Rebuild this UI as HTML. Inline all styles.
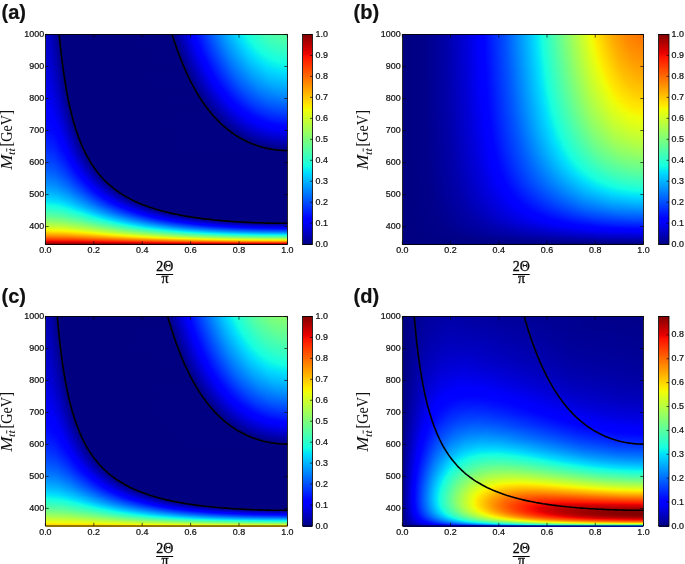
<!DOCTYPE html>
<html><head><meta charset="utf-8"><style>
html,body{margin:0;padding:0;background:#fff}
body{width:685px;height:564px;position:relative;overflow:hidden}
.hm{position:absolute}
.hm div{height:1px}
.cb{position:absolute;background:linear-gradient(to top,#000080 0.0%,#0000ff 11.0%,#0000ff 12.5%,#00dbff 34.0%,#00e5f7 35.0%,#15ffe2 37.5%,#efff08 64.0%,#f7f600 65.0%,#ffec00 66.0%,#ff1300 89.0%,#e80000 91.0%,#800000 100.0%)}
svg{position:absolute;left:0;top:0;will-change:transform}
text{font-family:"Liberation Sans",sans-serif;fill:#111;stroke:#111;stroke-width:0.22px}
.s{font-family:"Liberation Serif",serif;stroke:none}
</style></head><body>
<div class="hm" style="left:46px;top:34px;width:241px;height:211px"><div style="background:linear-gradient(90deg,#0000c9,#0000bb 2.2%,#00009b 4.3%,#000080 5.5%,#000080 52.4%,#0000ff 60.5%,#0002ff 61.7%,#009dff 73.8%,#00defd 79.6%,#04eaf3 80.8%,#17ffe0 83.3%,#41ffb6 90.4%,#55ffa2 96.8%,#57ff9f)"></div><div style="background:linear-gradient(90deg,#0000c9,#0000bc 2.2%,#00009c 4.3%,#000081 5.5%,#000081 52.6%,#0000ff 60.7%,#0003ff 61.9%,#009dff 74.0%,#00ddfd 79.8%,#04eaf3 81.0%,#16ffe1 83.5%,#40ffb7 90.6%,#53ffa4 97.0%,#55ffa1)"></div><div style="background:linear-gradient(90deg,#0000ca,#0000bc 2.2%,#00009c 4.3%,#000080 5.7%,#000080 52.6%,#0000ff 60.9%,#0003ff 62.1%,#009bff 74.0%,#00ddfe 80.0%,#03e9f4 81.2%,#16ffe1 83.7%,#3effb8 90.8%,#51ffa6 97.2%,#53ffa4)"></div><div style="background:linear-gradient(90deg,#0000ca,#0000bd 2.2%,#00009d 4.3%,#000080 5.7%,#000081 52.8%,#0000ff 60.9%,#0001ff 62.1%,#0098ff 74.0%,#00ddfe 80.2%,#03e9f4 81.4%,#17ffe0 84.1%,#3effb9 91.2%,#4fffa7 97.6%,#51ffa6)"></div><div style="background:linear-gradient(90deg,#0000cb,#0000bd 2.2%,#00009e 4.3%,#000080 5.7%,#000082 53.0%,#0000ff 61.1%,#0002ff 62.3%,#0099ff 74.2%,#00dffc 80.6%,#06ecf1 82.1%,#16ffe1 84.3%,#3dffba 91.4%,#4effa9 97.8%,#4fffa8)"></div><div style="background:linear-gradient(90deg,#0000cb,#0000be 2.2%,#00009f 4.3%,#000080 5.7%,#000080 53.0%,#0000ff 61.3%,#0003ff 62.6%,#0096ff 74.2%,#00defd 80.8%,#05ecf2 82.3%,#17ffe0 84.8%,#3cffbb 91.8%,#4cffab 98.2%,#4dffaa)"></div><div style="background:linear-gradient(90deg,#0000cc,#0000bf 2.2%,#00009f 4.3%,#000080 5.7%,#000081 53.2%,#0000ff 61.3%,#0001ff 62.6%,#0094ff 74.2%,#00defd 81.0%,#03e9f4 82.3%,#16ffe1 85.0%,#3bffbc 92.0%,#4affad 98.4%,#4affac)"></div><div style="background:linear-gradient(90deg,#0000cc,#0000bf 2.2%,#0000a0 4.3%,#000080 5.9%,#000082 53.4%,#0000ff 61.5%,#0002ff 62.8%,#0094ff 74.4%,#00ddfe 81.2%,#04ebf3 82.7%,#17ffe0 85.4%,#3affbd 92.4%,#48ffaf 98.9%,#48ffaf)"></div><div style="background:linear-gradient(90deg,#0000cd,#0000c0 2.2%,#00009d 4.5%,#000080 5.9%,#000080 53.4%,#0000ff 61.7%,#0002ff 63.0%,#0092ff 74.4%,#00dffc 81.6%,#05ecf2 83.1%,#16ffe1 85.6%,#39ffbe 92.6%,#46ffb1 99.1%,#46ffb1)"></div><div style="background:linear-gradient(90deg,#0000cd,#0000c0 2.2%,#00009e 4.5%,#000080 5.9%,#000081 53.6%,#0000ff 61.9%,#0003ff 63.2%,#0092ff 74.6%,#00defd 81.8%,#03e9f4 83.1%,#16ffe0 86.0%,#37ffc0 92.8%,#44ffb3 99.3%,#44ffb3)"></div><div style="background:linear-gradient(90deg,#0000ce,#0000c1 2.2%,#00009f 4.5%,#000080 5.9%,#000082 53.8%,#0000ff 61.9%,#0001ff 63.2%,#008fff 74.6%,#00ddfd 82.1%,#04eaf3 83.5%,#17ffe0 86.4%,#36ffc0 93.3%,#41ffb5 99.7%,#41ffb5)"></div><div style="background:linear-gradient(90deg,#0000ce,#0000c2 2.2%,#0000a0 4.5%,#000080 5.9%,#000080 53.8%,#0000ff 62.1%,#0002ff 63.4%,#008dff 74.6%,#00dffc 82.5%,#05ebf2 83.9%,#16ffe1 86.6%,#35ffc2 93.5%,#3fffb8)"></div><div style="background:linear-gradient(90deg,#0000cf,#0000c2 2.2%,#0000a0 4.5%,#000080 6.1%,#000081 54.0%,#0000ff 62.3%,#0002ff 63.6%,#008dff 74.8%,#00defd 82.7%,#04eaf3 84.1%,#16ffe1 87.0%,#34ffc3 93.9%,#3dffba)"></div><div style="background:linear-gradient(90deg,#0000cf,#0000c3 2.2%,#0000a1 4.5%,#000080 6.1%,#000082 54.3%,#0000ff 62.6%,#0003ff 63.8%,#008bff 74.8%,#00dbff 82.7%,#03e9f4 84.3%,#16ffe1 87.4%,#33ffc4 94.3%,#3bffbc)"></div><div style="background:linear-gradient(90deg,#0000d0,#0000c4 2.2%,#0000a2 4.5%,#000080 6.1%,#000080 54.3%,#0000fe 62.6%,#0003ff 64.0%,#008aff 75.0%,#00daff 82.9%,#04eaf3 84.8%,#16ffe1 87.9%,#31ffc5 94.7%,#38ffbf)"></div><div style="background:linear-gradient(90deg,#0000d1,#0000c4 2.2%,#0000a3 4.5%,#000080 6.1%,#000080 54.5%,#0000ff 62.8%,#0001ff 64.0%,#0088ff 75.0%,#00d8ff 82.9%,#03e9f4 85.0%,#16ffe1 88.3%,#30ffc7 95.1%,#36ffc1)"></div><div style="background:linear-gradient(90deg,#0000d1,#0000c5 2.2%,#0000a4 4.5%,#000081 6.1%,#000081 54.7%,#0000ff 63.0%,#0002ff 64.2%,#0088ff 75.2%,#00d7ff 83.1%,#02e8f5 85.2%,#16ffe1 88.7%,#2fffc8 95.5%,#34ffc3)"></div><div style="background:linear-gradient(90deg,#0000d2,#0000c6 2.2%,#0000a5 4.5%,#000080 6.3%,#000082 54.9%,#0000ff 63.2%,#0002ff 64.4%,#0085ff 75.2%,#00d4ff 83.1%,#00e0fb 84.5%,#07eef0 86.4%,#17ffe0 89.3%,#2dffca 96.0%,#31ffc6)"></div><div style="background:linear-gradient(90deg,#0000d2,#0000c6 2.2%,#0000a6 4.5%,#000080 6.3%,#000080 54.9%,#0000ff 63.4%,#0002ff 64.6%,#0085ff 75.4%,#00d3ff 83.3%,#00e1fb 85.0%,#07efef 86.8%,#16ffe0 89.7%,#2bffcb 96.4%,#2fffc8)"></div><div style="background:linear-gradient(90deg,#0000d3,#0000c7 2.2%,#0000a6 4.5%,#000080 6.3%,#000080 55.1%,#0000ff 63.6%,#0003ff 64.8%,#0083ff 75.4%,#00d0ff 83.3%,#00e0fc 85.2%,#05ecf2 86.8%,#16ffe1 90.1%,#2affcd 96.8%,#2cffca)"></div><div style="background:linear-gradient(90deg,#0000d3,#0000c8 2.2%,#0000a7 4.5%,#000080 6.3%,#000081 55.3%,#0000ff 63.6%,#0003ff 65.0%,#0082ff 75.6%,#00ceff 83.3%,#00defd 85.4%,#05ecf2 87.2%,#16ffe1 90.8%,#28ffcf 97.4%,#2affcd)"></div><div style="background:linear-gradient(90deg,#0000d4,#0000c8 2.2%,#0000a8 4.5%,#000080 6.5%,#000080 55.3%,#0000ff 63.8%,#0003ff 65.2%,#0082ff 75.8%,#00ccff 83.5%,#00dffc 85.8%,#05ecf2 87.7%,#16ffe1 91.4%,#26ffd0 98.0%,#27ffcf)"></div><div style="background:linear-gradient(90deg,#0000d5,#0000c9 2.2%,#0000a9 4.5%,#000080 6.5%,#000080 55.5%,#0000ff 64.0%,#0001ff 65.2%,#007fff 75.8%,#00caff 83.5%,#00dffc 86.2%,#05ebf2 88.1%,#16ffe1 92.0%,#25ffd2 98.7%,#25ffd2)"></div><div style="background:linear-gradient(90deg,#0000d5,#0000ca 2.2%,#0000aa 4.5%,#000080 6.5%,#000080 55.7%,#0000ff 64.2%,#0001ff 65.5%,#007dff 75.8%,#00c7ff 83.5%,#00dffc 86.6%,#05ebf2 88.5%,#16ffe1 92.6%,#22ffd4 99.3%,#23ffd4)"></div><div style="background:linear-gradient(90deg,#0000d6,#0000ca 2.2%,#0000ab 4.5%,#000080 6.5%,#000081 55.9%,#0000ff 64.4%,#0002ff 65.7%,#007cff 76.0%,#00c6ff 83.7%,#00dffc 87.0%,#04ebf3 88.9%,#16ffe1 93.5%,#20ffd7)"></div><div style="background:linear-gradient(90deg,#0000d7,#0000cb 2.2%,#0000ac 4.5%,#000080 6.7%,#000082 56.1%,#0000ff 64.6%,#0002ff 65.9%,#007aff 76.0%,#00c3ff 83.7%,#00dffc 87.4%,#05ebf2 89.5%,#16ffe1 94.3%,#1effd9)"></div><div style="background:linear-gradient(90deg,#0000d7,#0000cc 2.2%,#0000ad 4.5%,#000080 6.7%,#000080 56.1%,#0000ff 64.8%,#0002ff 66.1%,#0079ff 76.2%,#00c2ff 83.9%,#00defd 87.9%,#05ecf2 90.1%,#15ffe1 95.1%,#1bffdc)"></div><div style="background:linear-gradient(90deg,#0000d8,#0000cd 2.2%,#0000ae 4.5%,#000080 6.7%,#000080 56.3%,#0000ff 65.0%,#0002ff 66.3%,#0079ff 76.5%,#00c0ff 84.1%,#00defd 88.3%,#04ebf2 90.6%,#15ffe2 96.2%,#18ffde)"></div><div style="background:linear-gradient(90deg,#0000d8,#0000cb 2.4%,#0000ab 4.7%,#000080 6.7%,#000080 56.5%,#0000fe 65.0%,#0002ff 66.5%,#0076ff 76.5%,#00bdff 84.1%,#00dffc 88.9%,#05ecf2 91.4%,#14ffe3 97.4%,#16ffe1)"></div><div style="background:linear-gradient(90deg,#0000d9,#0000cc 2.4%,#0000ac 4.7%,#000080 7.0%,#000081 56.7%,#0000ff 65.2%,#0002ff 66.7%,#0075ff 76.7%,#00bcff 84.3%,#00defd 89.3%,#05ebf2 92.0%,#12fce4 98.0%,#13fde3)"></div><div style="background:linear-gradient(90deg,#0000da,#0000cd 2.4%,#0000ad 4.7%,#000080 7.0%,#000082 57.0%,#0000ff 65.5%,#0002ff 66.9%,#0075ff 76.9%,#00bbff 84.5%,#00defd 89.9%,#04ebf2 92.6%,#10fae7 98.7%,#11fae6)"></div><div style="background:linear-gradient(90deg,#0000db,#0000cd 2.4%,#0000ae 4.7%,#000080 7.0%,#000080 57.0%,#0000ff 65.7%,#0003ff 67.1%,#0072ff 76.9%,#00b8ff 84.5%,#00defd 90.6%,#06ecf1 93.9%,#0ef7e9)"></div><div style="background:linear-gradient(90deg,#0000db,#0000ce 2.4%,#0000af 4.7%,#000080 7.0%,#000080 57.2%,#0000ff 65.9%,#0002ff 67.3%,#0071ff 77.1%,#00b5ff 84.5%,#00defd 91.2%,#06ecf1 94.9%,#0cf4eb)"></div><div style="background:linear-gradient(90deg,#0000dc,#0000cf 2.4%,#0000b0 4.7%,#000080 7.2%,#000080 57.4%,#0000ff 66.1%,#0002ff 67.5%,#0070ff 77.3%,#00b3ff 84.8%,#00dcfe 91.4%,#05ebf2 95.7%,#09f1ee)"></div><div style="background:linear-gradient(90deg,#0000dd,#0000d0 2.4%,#0000b1 4.7%,#000080 7.2%,#000080 57.6%,#0000ff 66.3%,#0002ff 67.7%,#006fff 77.5%,#00b2ff 85.0%,#00daff 91.6%,#05ebf2 97.6%,#06edf1)"></div><div style="background:linear-gradient(90deg,#0000dd,#0000d1 2.4%,#0000ae 4.9%,#000080 7.2%,#000081 57.8%,#0000ff 66.5%,#0002ff 67.9%,#006dff 77.5%,#00aeff 85.0%,#00d6ff 91.6%,#02e8f5 97.6%,#04eaf3)"></div><div style="background:linear-gradient(90deg,#0000de,#0000d1 2.4%,#0000af 4.9%,#000081 7.2%,#000081 58.0%,#0000ff 66.7%,#0002ff 68.2%,#006cff 77.7%,#00adff 85.2%,#00d4ff 91.8%,#00e5f7 97.8%,#01e7f6)"></div><div style="background:linear-gradient(90deg,#0000df,#0000d2 2.4%,#0000b0 4.9%,#000080 7.4%,#000081 58.2%,#0000ff 66.9%,#0002ff 68.4%,#006bff 77.9%,#00abff 85.4%,#00d2ff 92.0%,#00e2fa 98.0%,#00e3f9)"></div><div style="background:linear-gradient(90deg,#0000df,#0000d3 2.4%,#0000b1 4.9%,#000080 7.4%,#000082 58.4%,#0000fe 67.1%,#0002ff 68.6%,#0068ff 77.9%,#00a8ff 85.4%,#00ceff 92.0%,#00dffc 98.2%,#00e0fb)"></div><div style="background:linear-gradient(90deg,#0000e0,#0000d4 2.4%,#0000b3 4.9%,#000080 7.4%,#000082 58.6%,#0000fe 67.3%,#0001ff 68.8%,#0067ff 78.1%,#00a6ff 85.6%,#00ccff 92.2%,#00dcff 98.4%,#00dcfe)"></div><div style="background:linear-gradient(90deg,#0000e1,#0000d5 2.4%,#0000b4 4.9%,#000080 7.6%,#000080 58.6%,#0000ff 67.7%,#0003ff 69.2%,#0068ff 78.5%,#00a6ff 86.0%,#00c9ff 92.4%,#00d8ff 98.7%,#00d9ff)"></div><div style="background:linear-gradient(90deg,#0000e2,#0000d6 2.4%,#0000b5 4.9%,#000080 7.6%,#000080 58.8%,#0000ff 67.9%,#0003ff 69.4%,#0065ff 78.5%,#00a3ff 86.0%,#00c6ff 92.4%,#00d5ff 98.7%,#00d5ff)"></div><div style="background:linear-gradient(90deg,#0000e3,#0000d6 2.4%,#0000b6 4.9%,#000080 7.6%,#000080 59.0%,#0000ff 68.2%,#0003ff 69.6%,#0064ff 78.7%,#00a1ff 86.2%,#00c3ff 92.6%,#00d2ff 98.9%,#00d2ff)"></div><div style="background:linear-gradient(90deg,#0000e3,#0000d7 2.4%,#0000b7 4.9%,#000081 7.6%,#000080 59.2%,#0000ff 68.4%,#0002ff 69.8%,#0062ff 78.9%,#009dff 86.2%,#00c0ff 92.6%,#00ceff 98.9%,#00cfff)"></div><div style="background:linear-gradient(90deg,#0000e4,#0000d8 2.4%,#0000b8 4.9%,#000080 7.8%,#000080 59.4%,#0000ff 68.6%,#0002ff 70.0%,#0061ff 79.1%,#009cff 86.4%,#00bdff 92.8%,#00cbff 99.1%,#00cbff)"></div><div style="background:linear-gradient(90deg,#0000e5,#0000d9 2.4%,#0000b9 4.9%,#000080 7.8%,#000080 59.6%,#0000ff 68.8%,#0001ff 70.2%,#005eff 79.1%,#0098ff 86.4%,#00baff 92.8%,#00c7ff 99.1%,#00c7ff)"></div><div style="background:linear-gradient(90deg,#0000e6,#0000da 2.4%,#0000ba 4.9%,#000080 7.8%,#000080 59.9%,#0000fe 69.0%,#0003ff 70.6%,#005fff 79.6%,#0097ff 86.8%,#00b8ff 93.3%,#00c4ff 99.5%,#00c4ff)"></div><div style="background:linear-gradient(90deg,#0000e7,#0000db 2.4%,#0000bb 4.9%,#000080 8.0%,#000080 60.1%,#0000ff 69.4%,#0002ff 70.9%,#005dff 79.8%,#0095ff 87.0%,#00b5ff 93.5%,#00c0ff 99.7%,#00c0ff)"></div><div style="background:linear-gradient(90deg,#0000e7,#0000dc 2.4%,#0000bc 4.9%,#000080 8.0%,#000080 60.3%,#0000ff 69.6%,#0002ff 71.1%,#005cff 80.0%,#0093ff 87.2%,#00b2ff 93.7%,#00bdff)"></div><div style="background:linear-gradient(90deg,#0000e8,#0000dd 2.4%,#0000be 4.9%,#000085 7.8%,#000080 8.2%,#000080 60.5%,#0000ff 69.8%,#0003ff 71.5%,#005aff 80.2%,#0091ff 87.4%,#00afff 93.9%,#00b9ff)"></div><div style="background:linear-gradient(90deg,#0000e9,#0000de 2.4%,#0000bf 4.9%,#000086 7.8%,#000080 8.4%,#000080 60.7%,#0000fe 70.0%,#0003ff 71.7%,#0059ff 80.4%,#008fff 87.7%,#00acff 94.1%,#00b5ff)"></div><div style="background:linear-gradient(90deg,#0000ea,#0000df 2.4%,#0000c0 4.9%,#000088 7.8%,#000080 8.2%,#000080 60.9%,#0000ff 70.4%,#0002ff 71.9%,#0057ff 80.6%,#008cff 87.9%,#00a9ff 94.3%,#00b2ff)"></div><div style="background:linear-gradient(90deg,#0000eb,#0000e0 2.4%,#0000c1 4.9%,#00008a 7.8%,#000080 8.2%,#000082 61.3%,#0000ff 70.6%,#0003ff 72.3%,#0056ff 80.8%,#008aff 88.1%,#00a6ff 94.5%,#00aeff)"></div><div style="background:linear-gradient(90deg,#0000ec,#0000df 2.6%,#0000bf 5.1%,#000086 8.0%,#000080 8.6%,#000082 61.5%,#0000fe 70.9%,#0002ff 72.5%,#0054ff 81.0%,#0088ff 88.3%,#00a3ff 94.7%,#00aaff)"></div><div style="background:linear-gradient(90deg,#0000ed,#0000e0 2.6%,#0000c0 5.1%,#000088 8.0%,#000080 8.4%,#000081 61.7%,#0000fd 71.1%,#0001ff 72.7%,#0052ff 81.2%,#0084ff 88.3%,#009fff 94.7%,#00a6ff)"></div><div style="background:linear-gradient(90deg,#0000ed,#0000e1 2.6%,#0000c1 5.1%,#00008a 8.0%,#000080 8.4%,#000081 61.9%,#0000ff 71.5%,#0002ff 73.1%,#0052ff 81.6%,#0083ff 88.7%,#009cff 95.1%,#00a3ff)"></div><div style="background:linear-gradient(90deg,#0000ee,#0000e2 2.6%,#0000bf 5.3%,#000080 8.6%,#000081 62.1%,#0000fe 71.7%,#0001ff 73.3%,#004fff 81.6%,#007fff 88.7%,#0098ff 95.1%,#009fff)"></div><div style="background:linear-gradient(90deg,#0000ef,#0000e3 2.6%,#0000c1 5.3%,#000084 8.4%,#000080 8.8%,#000080 62.3%,#0000ff 72.1%,#0002ff 73.8%,#004fff 82.1%,#007dff 89.1%,#0096ff 95.5%,#009bff)"></div><div style="background:linear-gradient(90deg,#0000f0,#0000e4 2.6%,#0000c2 5.3%,#000085 8.4%,#000080 8.8%,#000080 62.6%,#0000fe 72.3%,#0001ff 74.0%,#004dff 82.3%,#007bff 89.3%,#0092ff 95.7%,#0097ff)"></div><div style="background:linear-gradient(90deg,#0000f1,#0000e5 2.6%,#0000c3 5.3%,#000087 8.4%,#000080 8.8%,#000080 62.8%,#0000ff 72.7%,#0002ff 74.4%,#004cff 82.7%,#0079ff 89.7%,#008fff 96.2%,#0093ff)"></div><div style="background:linear-gradient(90deg,#0000f2,#0000e6 2.6%,#0000c5 5.3%,#000089 8.4%,#000080 8.8%,#000081 63.2%,#0000fe 72.9%,#0003ff 74.8%,#004aff 82.9%,#0076ff 89.9%,#008cff 96.4%,#008fff)"></div><div style="background:linear-gradient(90deg,#0000f3,#0000e7 2.6%,#0000c6 5.3%,#00008b 8.4%,#000080 9.0%,#000081 63.4%,#0000ff 73.3%,#0001ff 75.0%,#0048ff 83.1%,#0073ff 90.1%,#0088ff 96.6%,#008bff)"></div><div style="background:linear-gradient(90deg,#0000f4,#0000e8 2.6%,#0000c7 5.3%,#00008c 8.4%,#000080 9.0%,#000080 63.6%,#0000fe 73.5%,#0002ff 75.4%,#0047ff 83.5%,#0071ff 90.6%,#0085ff 97.0%,#0087ff)"></div><div style="background:linear-gradient(90deg,#0000f5,#0000e9 2.6%,#0000c9 5.3%,#00008e 8.4%,#000080 9.0%,#000080 63.8%,#0000fc 73.8%,#0003ff 75.8%,#0047ff 83.9%,#006fff 91.0%,#0081ff 97.4%,#0083ff)"></div><div style="background:linear-gradient(90deg,#0000f6,#0000ea 2.6%,#0000ca 5.3%,#000090 8.4%,#000080 9.2%,#000081 64.2%,#0000fb 74.0%,#0000ff 74.8%,#0003ff 76.2%,#0044ff 84.1%,#006cff 91.2%,#007eff 97.6%,#007fff)"></div><div style="background:linear-gradient(90deg,#0000f7,#0000eb 2.6%,#0000cb 5.3%,#000092 8.4%,#000080 9.2%,#000081 64.4%,#0000f9 74.2%,#0000ff 75.2%,#0003ff 76.7%,#0043ff 84.5%,#0069ff 91.4%,#007aff 97.8%,#007bff)"></div><div style="background:linear-gradient(90deg,#0000f8,#0000ed 2.6%,#0000cd 5.3%,#000093 8.4%,#000080 9.4%,#000080 64.6%,#0000f7 74.4%,#0000ff 75.4%,#0002ff 76.9%,#0041ff 84.8%,#0066ff 91.6%,#0076ff 98.0%,#0077ff)"></div><div style="background:linear-gradient(90deg,#0000f9,#0000ee 2.6%,#0000ce 5.3%,#000095 8.4%,#000080 9.4%,#000082 65.0%,#0000f6 74.6%,#0000ff 75.6%,#0002ff 77.3%,#0040ff 85.2%,#0063ff 92.0%,#0072ff 98.4%,#0073ff)"></div><div style="background:linear-gradient(90deg,#0000fa,#0000ef 2.6%,#0000cf 5.3%,#000097 8.4%,#000081 9.4%,#000081 65.2%,#0000f4 74.8%,#0000ff 76.0%,#0002ff 77.7%,#003dff 85.4%,#0060ff 92.2%,#006eff 98.7%,#006fff)"></div><div style="background:linear-gradient(90deg,#0000fb,#0000f0 2.6%,#0000d1 5.3%,#000099 8.4%,#000080 9.6%,#000080 65.5%,#0000f2 75.0%,#0000ff 76.5%,#0002ff 78.1%,#003cff 85.8%,#005dff 92.6%,#006aff 99.1%,#006aff)"></div><div style="background:linear-gradient(90deg,#0000fd,#0000f1 2.6%,#0000d2 5.3%,#00009b 8.4%,#000080 9.6%,#000081 65.9%,#0000f0 75.2%,#0000ff 76.9%,#0002ff 78.5%,#003aff 86.2%,#005bff 93.0%,#0066ff 99.5%,#0066ff)"></div><div style="background:linear-gradient(90deg,#0000fe,#0000f2 2.6%,#0000d4 5.3%,#00009d 8.4%,#000080 9.9%,#000080 66.1%,#0000ee 75.4%,#0000ff 77.3%,#0003ff 79.1%,#003aff 86.8%,#0058ff 93.7%,#0062ff)"></div><div style="background:linear-gradient(90deg,#0000ff,#0000f2 2.8%,#0000d2 5.5%,#00009a 8.6%,#000080 9.9%,#000081 66.5%,#0000ee 75.8%,#0000ff 77.7%,#0003ff 79.6%,#0037ff 87.0%,#0055ff 93.9%,#005eff)"></div><div style="background:linear-gradient(90deg,#0000ff,#0000f6 2.4%,#0000da 5.1%,#0000a4 8.2%,#000080 10.1%,#000080 66.7%,#0000ec 76.0%,#0000ff 78.1%,#0002ff 80.0%,#0035ff 87.4%,#0052ff 94.3%,#0059ff)"></div><div style="background:linear-gradient(90deg,#0000ff,#0000fa 2.0%,#0000e1 4.7%,#0000ae 7.8%,#000080 10.1%,#000081 67.1%,#0000ea 76.2%,#0000ff 78.5%,#0002ff 80.4%,#0033ff 87.9%,#004eff 94.7%,#0055ff)"></div><div style="background:linear-gradient(90deg,#0000ff,#0000fc 2.0%,#0000e2 4.7%,#0000b0 7.8%,#000081 10.1%,#000080 67.3%,#0000e8 76.5%,#0000ff 78.9%,#0002ff 81.0%,#0033ff 88.5%,#004bff 95.3%,#0051ff)"></div><div style="background:linear-gradient(90deg,#0000ff,#0000fc 2.2%,#0000e1 4.9%,#0000ae 8.0%,#000080 10.3%,#000081 67.7%,#0000e6 76.7%,#0000ff 79.6%,#0003ff 81.6%,#0030ff 88.9%,#0048ff 95.7%,#004cff)"></div><div style="background:linear-gradient(90deg,#0000ff,#0000fd 2.2%,#0000e2 4.9%,#0000b0 8.0%,#000081 10.3%,#000080 67.9%,#0000e3 76.9%,#0000ff 80.0%,#0002ff 82.1%,#002eff 89.3%,#0044ff 96.2%,#0048ff)"></div><div style="background:linear-gradient(90deg,#0000ff,#0000fd 2.4%,#0000e1 5.1%,#0000ae 8.2%,#000080 10.5%,#000081 68.4%,#0000e3 77.3%,#0000ff 80.4%,#0003ff 82.7%,#002dff 89.9%,#0041ff 96.8%,#0043ff)"></div><div style="background:linear-gradient(90deg,#0000ff,#0000fd 2.6%,#0000dd 5.5%,#0000a4 8.8%,#000081 10.5%,#000081 68.8%,#0000e2 77.7%,#0000ff 81.0%,#0003ff 83.3%,#002bff 90.6%,#003dff 97.4%,#003fff)"></div><div style="background:linear-gradient(90deg,#0000ff,#0000fc 2.8%,#0000dc 5.7%,#0000a2 9.0%,#000080 10.7%,#000080 69.0%,#0000de 77.7%,#0000ff 81.6%,#0003ff 83.9%,#0029ff 91.2%,#0039ff 97.8%,#003aff)"></div><div style="background:linear-gradient(90deg,#0000ff,#0000fc 3.0%,#0000da 5.9%,#00009f 9.2%,#000081 10.7%,#000080 69.4%,#0000dd 78.1%,#0000ff 82.1%,#0002ff 84.5%,#0026ff 91.6%,#0035ff 98.2%,#0036ff)"></div><div style="background:linear-gradient(90deg,#0000ff,#0000fe 3.0%,#0000dc 5.9%,#0000a2 9.2%,#000080 10.9%,#000081 69.8%,#0000dc 78.5%,#0000ff 82.7%,#0003ff 85.4%,#0024ff 92.4%,#0031ff 99.1%,#0031ff)"></div><div style="background:linear-gradient(90deg,#0000ff,#0000fd 3.2%,#0000db 6.1%,#00009b 9.6%,#000081 10.9%,#000081 70.2%,#0000da 78.7%,#0000ff 83.3%,#0002ff 86.0%,#0022ff 93.0%,#002dff 99.7%,#002dff)"></div><div style="background:linear-gradient(90deg,#0000ff,#0000fd 3.4%,#0000d9 6.3%,#000099 9.9%,#000080 11.1%,#000082 70.6%,#0000d9 79.1%,#0000ff 83.9%,#0003ff 86.8%,#0020ff 93.9%,#0028ff)"></div><div style="background:linear-gradient(90deg,#0000ff,#0000fd 3.6%,#0000d5 6.7%,#00008f 10.5%,#000080 11.3%,#000082 71.1%,#0000d7 79.6%,#0000ff 84.8%,#0003ff 87.7%,#001dff 94.7%,#0023ff)"></div><div style="background:linear-gradient(90deg,#0000ff,#0000fe 3.6%,#0000d7 6.7%,#000091 10.5%,#000080 11.3%,#000082 71.5%,#0000d4 79.8%,#0000ff 85.4%,#0003ff 88.7%,#001bff 95.7%,#001fff)"></div><div style="background:linear-gradient(90deg,#0001ff,#0000fe 3.8%,#0000d5 7.0%,#00008f 10.7%,#000080 11.5%,#000082 71.9%,#0000d3 80.2%,#0000ff 86.2%,#0003ff 89.7%,#0017ff 96.6%,#001aff)"></div><div style="background:linear-gradient(90deg,#0003ff,#0000fd 4.0%,#0000d4 7.2%,#00008d 10.9%,#000080 11.5%,#000082 72.3%,#0000d2 80.6%,#0000ff 86.8%,#0003ff 90.8%,#0014ff 97.6%,#0015ff)"></div><div style="background:linear-gradient(90deg,#0004ff,#0000fd 4.3%,#0000d2 7.4%,#000087 11.3%,#000080 11.9%,#000082 72.7%,#0000d0 81.0%,#0000fe 87.7%,#0003ff 92.2%,#0010ff 99.1%,#0010ff)"></div><div style="background:linear-gradient(90deg,#0005ff,#0000ff 3.6%,#0000fa 4.7%,#0000ca 8.0%,#000081 11.7%,#000081 73.1%,#0000cd 81.2%,#0000fd 88.3%,#0003ff 93.7%,#000cff)"></div><div style="background:linear-gradient(90deg,#0006ff,#0000ff 3.6%,#0000fc 4.7%,#0000cc 8.0%,#000080 11.9%,#000081 73.5%,#0000cb 81.6%,#0000f9 88.7%,#0000ff 90.8%,#0004ff 96.4%,#0007ff)"></div><div style="background:linear-gradient(90deg,#0008ff,#0000ff 3.6%,#0000fd 4.7%,#0000ce 8.0%,#000080 12.1%,#000080 74.0%,#0000c9 82.1%,#0000f6 89.1%,#0000ff 91.8%,#0002ff)"></div><div style="background:linear-gradient(90deg,#0009ff,#0000ff 3.6%,#0000fd 4.9%,#0000cd 8.2%,#000080 12.1%,#000082 74.6%,#0000c7 82.5%,#0000f3 89.5%,#0000ff 93.0%,#0000ff)"></div><div style="background:linear-gradient(90deg,#000bff,#0000ff 3.8%,#0000fc 5.1%,#0000cc 8.4%,#000080 12.3%,#000081 75.0%,#0000c5 82.9%,#0000ef 89.9%,#0000ff 94.9%,#0000ff)"></div><div style="background:linear-gradient(90deg,#000cff,#0000ff 3.8%,#0000fc 5.3%,#0000ca 8.6%,#000080 12.6%,#000082 75.6%,#0000c4 83.5%,#0000ec 90.6%,#0000ff 97.0%,#0000ff)"></div><div style="background:linear-gradient(90deg,#000dff,#0002ff 3.2%,#0000fe 5.3%,#0000cd 8.6%,#000080 12.6%,#000081 76.0%,#0000c1 83.9%,#0000e9 91.0%,#0000fa 97.6%,#0000fc)"></div><div style="background:linear-gradient(90deg,#000fff,#0003ff 3.2%,#0000fd 5.5%,#0000c8 9.0%,#000080 12.8%,#000081 76.7%,#0000bf 84.3%,#0000e4 91.4%,#0000f5 98.0%,#0000f6)"></div><div style="background:linear-gradient(90deg,#0010ff,#0005ff 3.2%,#0000ff 4.5%,#0000fd 5.7%,#0000c6 9.2%,#000081 12.8%,#000082 77.3%,#0000bd 85.0%,#0000e1 92.0%,#0000f0 98.7%,#0000f0)"></div><div style="background:linear-gradient(90deg,#0012ff,#0006ff 3.2%,#0000ff 4.5%,#0000fc 5.9%,#0000c5 9.4%,#000080 13.0%,#000080 77.7%,#0000ba 85.4%,#0000dd 92.4%,#0000ea 99.1%,#0000ea)"></div><div style="background:linear-gradient(90deg,#0013ff,#0008ff 3.2%,#0000ff 4.7%,#0000fe 5.9%,#0000c8 9.4%,#000080 13.2%,#000080 78.3%,#0000b9 86.0%,#0000d8 92.8%,#0000e4 99.5%,#0000e4)"></div><div style="background:linear-gradient(90deg,#0015ff,#000aff 3.2%,#0000ff 4.9%,#0000fe 6.1%,#0000c3 9.9%,#000080 13.4%,#000082 79.1%,#0000b7 86.6%,#0000d4 93.5%,#0000de)"></div><div style="background:linear-gradient(90deg,#0016ff,#000bff 3.2%,#0000ff 5.1%,#0000fd 6.3%,#0000c2 10.1%,#000080 13.4%,#000082 79.8%,#0000b4 87.2%,#0000d0 94.1%,#0000d8)"></div><div style="background:linear-gradient(90deg,#0018ff,#000dff 3.2%,#0000ff 5.1%,#0000fd 6.5%,#0000c1 10.3%,#000080 13.6%,#000081 80.4%,#0000b2 87.9%,#0000cc 94.7%,#0000d2)"></div><div style="background:linear-gradient(90deg,#001aff,#000fff 3.2%,#0000ff 5.3%,#0000fc 6.7%,#0000c0 10.5%,#000080 13.8%,#000082 81.2%,#0000b0 88.7%,#0000c8 95.5%,#0000cc)"></div><div style="background:linear-gradient(90deg,#001bff,#000fff 3.4%,#0000ff 5.5%,#0000fc 7.0%,#0000bb 10.9%,#000080 14.0%,#000081 81.8%,#0000ac 89.1%,#0000c2 96.0%,#0000c6)"></div><div style="background:linear-gradient(90deg,#001dff,#0011ff 3.4%,#0000ff 5.7%,#0000fe 7.0%,#0000be 10.9%,#000080 14.0%,#000081 82.7%,#0000aa 89.9%,#0000bd 96.8%,#0000c0)"></div><div style="background:linear-gradient(90deg,#001fff,#0013ff 3.4%,#0000ff 5.9%,#0000fe 7.2%,#0000bd 11.1%,#000080 14.2%,#000082 83.7%,#0000a8 91.0%,#0000b9 97.8%,#0000ba)"></div><div style="background:linear-gradient(90deg,#0020ff,#0014ff 3.4%,#0000ff 6.1%,#0000fd 7.4%,#0000bc 11.3%,#000080 14.4%,#000081 84.5%,#0000a5 91.8%,#0000b3 98.7%,#0000b3)"></div><div style="background:linear-gradient(90deg,#0022ff,#0016ff 3.4%,#0000ff 6.3%,#0000fd 7.6%,#0000b7 11.7%,#000080 14.6%,#000082 85.6%,#0000a1 92.6%,#0000ad 99.5%,#0000ad)"></div><div style="background:linear-gradient(90deg,#0024ff,#0018ff 3.4%,#0000ff 6.5%,#0000fc 7.8%,#0000b7 11.9%,#000080 14.8%,#000081 86.6%,#00009e 93.7%,#0000a7)"></div><div style="background:linear-gradient(90deg,#0026ff,#001aff 3.4%,#0000ff 6.7%,#0000fc 8.0%,#0000b6 12.1%,#000081 14.8%,#000082 87.9%,#00009b 94.9%,#0000a0)"></div><div style="background:linear-gradient(90deg,#0028ff,#001cff 3.4%,#0000ff 7.0%,#0000fc 8.2%,#0000b1 12.6%,#000080 15.0%,#000081 89.1%,#000097 96.2%,#00009a)"></div><div style="background:linear-gradient(90deg,#0029ff,#001eff 3.4%,#0000ff 7.2%,#0000fc 8.4%,#0000b1 12.8%,#000080 15.2%,#000082 90.8%,#000092 97.8%,#000093)"></div><div style="background:linear-gradient(90deg,#002bff,#0020ff 3.4%,#0000ff 7.4%,#0000fb 8.6%,#0000ac 13.2%,#000080 15.5%,#000082 92.6%,#00008d 99.7%,#00008d)"></div><div style="background:linear-gradient(90deg,#002dff,#0022ff 3.4%,#0000ff 7.6%,#0000fe 8.6%,#0000b0 13.2%,#000080 15.7%,#000082 95.3%,#000086)"></div><div style="background:linear-gradient(90deg,#002fff,#0024ff 3.4%,#0004ff 7.2%,#0000ff 8.2%,#0000fb 9.0%,#0000a8 13.8%,#000080 15.9%,#000080)"></div><div style="background:linear-gradient(90deg,#0031ff,#0025ff 3.6%,#0004ff 7.4%,#0000ff 8.2%,#0000fb 9.2%,#0000a8 14.0%,#000080 16.1%,#000080)"></div><div style="background:linear-gradient(90deg,#0033ff,#0027ff 3.6%,#0007ff 7.4%,#0000ff 8.2%,#0000fe 9.2%,#0000ab 14.0%,#000080 16.3%,#000080)"></div><div style="background:linear-gradient(90deg,#0036ff,#002aff 3.6%,#0009ff 7.4%,#0000ff 8.4%,#0000fe 9.4%,#0000a7 14.4%,#000080 16.5%,#000080)"></div><div style="background:linear-gradient(90deg,#0038ff,#002cff 3.6%,#000cff 7.4%,#0000ff 8.6%,#0000fe 9.6%,#0000a7 14.6%,#000080 16.7%,#000080)"></div><div style="background:linear-gradient(90deg,#003aff,#002eff 3.6%,#000fff 7.4%,#0000ff 8.8%,#0000fe 9.9%,#0000a3 15.0%,#000080 16.9%,#000080)"></div><div style="background:linear-gradient(90deg,#003cff,#0031ff 3.6%,#0011ff 7.4%,#0000ff 9.0%,#0000fe 10.1%,#0000a3 15.2%,#000080 17.1%,#000080)"></div><div style="background:linear-gradient(90deg,#003eff,#0033ff 3.6%,#0014ff 7.4%,#0000ff 9.2%,#0000ff 10.3%,#0000a0 15.7%,#000080 17.3%,#000080)"></div><div style="background:linear-gradient(90deg,#0041ff,#0035ff 3.6%,#0014ff 7.6%,#0000ff 9.4%,#0000ff 10.5%,#0000a0 15.9%,#000080 17.5%,#000080)"></div><div style="background:linear-gradient(90deg,#0043ff,#0038ff 3.6%,#0017ff 7.6%,#0000ff 9.6%,#0000fc 10.9%,#000099 16.5%,#000081 17.7%,#000080)"></div><div style="background:linear-gradient(90deg,#0045ff,#003aff 3.6%,#001aff 7.6%,#0000ff 10.1%,#0000fd 11.1%,#000095 16.9%,#000080 18.2%,#000080)"></div><div style="background:linear-gradient(90deg,#0048ff,#003cff 3.8%,#001bff 7.8%,#0000ff 10.3%,#0000fd 11.3%,#000092 17.3%,#000080 18.4%,#000080)"></div><div style="background:linear-gradient(90deg,#004aff,#003eff 3.8%,#001eff 7.8%,#0000ff 10.5%,#0000fe 11.5%,#00008f 17.7%,#000080 18.6%,#000080)"></div><div style="background:linear-gradient(90deg,#004dff,#0041ff 3.8%,#0021ff 7.8%,#0000ff 10.7%,#0000fe 11.7%,#000090 17.9%,#000080 18.8%,#000080)"></div><div style="background:linear-gradient(90deg,#004fff,#0044ff 3.8%,#0024ff 7.8%,#0000ff 10.9%,#0000ff 11.9%,#00008d 18.4%,#000080 19.2%,#000080)"></div><div style="background:linear-gradient(90deg,#0052ff,#0047ff 3.8%,#0027ff 7.8%,#0000ff 11.3%,#0000fd 12.3%,#000080 19.4%,#000080)"></div><div style="background:linear-gradient(90deg,#0055ff,#0049ff 3.8%,#002aff 7.8%,#0000ff 11.5%,#0000fe 12.6%,#000080 19.6%,#000080)"></div><div style="background:linear-gradient(90deg,#0058ff,#004cff 3.8%,#002bff 8.0%,#0000ff 11.7%,#0000ff 12.8%,#000080 20.0%,#000080)"></div><div style="background:linear-gradient(90deg,#005aff,#004fff 3.8%,#002fff 8.0%,#0000ff 12.1%,#0000fc 13.2%,#000080 20.2%,#000080)"></div><div style="background:linear-gradient(90deg,#005dff,#0052ff 3.8%,#0032ff 8.0%,#0000ff 12.3%,#0000fe 13.4%,#000080 20.6%,#000080)"></div><div style="background:linear-gradient(90deg,#0060ff,#0054ff 4.0%,#0033ff 8.2%,#0000ff 12.6%,#0000ff 13.6%,#000080 20.9%,#000080)"></div><div style="background:linear-gradient(90deg,#0063ff,#0057ff 4.0%,#0037ff 8.2%,#0000ff 13.0%,#0000fd 14.0%,#000080 21.3%,#000080)"></div><div style="background:linear-gradient(90deg,#0066ff,#005bff 4.0%,#003aff 8.2%,#0000ff 13.2%,#0000ff 14.2%,#000080 21.5%,#000080)"></div><div style="background:linear-gradient(90deg,#0069ff,#005eff 4.0%,#003eff 8.2%,#0003ff 13.2%,#0000fd 14.6%,#000080 21.9%,#000080)"></div><div style="background:linear-gradient(90deg,#006dff,#0061ff 4.0%,#0042ff 8.2%,#0007ff 13.2%,#0000ff 14.0%,#0000ff 14.8%,#000080 22.1%,#000080)"></div><div style="background:linear-gradient(90deg,#0070ff,#0065ff 4.0%,#0044ff 8.4%,#0006ff 13.6%,#0000ff 14.2%,#0000fd 15.2%,#000080 22.5%,#000080)"></div><div style="background:linear-gradient(90deg,#0073ff,#0068ff 4.0%,#0047ff 8.4%,#000bff 13.6%,#0000ff 14.6%,#0000ff 15.5%,#000080 22.9%,#000080)"></div><div style="background:linear-gradient(90deg,#0077ff,#006cff 4.0%,#004bff 8.4%,#000fff 13.6%,#0000ff 14.8%,#0000fe 15.9%,#000080 23.3%,#000080)"></div><div style="background:linear-gradient(90deg,#007aff,#006fff 4.0%,#004fff 8.4%,#0014ff 13.6%,#0000ff 15.2%,#0000fd 16.3%,#000080 23.5%,#000080)"></div><div style="background:linear-gradient(90deg,#007eff,#0072ff 4.3%,#0052ff 8.6%,#0016ff 13.8%,#0000ff 15.7%,#0000fc 16.7%,#000080 24.0%,#000080)"></div><div style="background:linear-gradient(90deg,#0081ff,#0076ff 4.3%,#0056ff 8.6%,#001bff 13.8%,#0000ff 15.9%,#0000ff 16.9%,#000080 24.4%,#000080)"></div><div style="background:linear-gradient(90deg,#0085ff,#007aff 4.3%,#005aff 8.6%,#0020ff 13.8%,#0000ff 16.3%,#0000fe 17.3%,#000080 24.8%,#000080)"></div><div style="background:linear-gradient(90deg,#0089ff,#007eff 4.3%,#005dff 8.8%,#0020ff 14.2%,#0000ff 16.7%,#0000fe 17.7%,#000080 25.2%,#000080)"></div><div style="background:linear-gradient(90deg,#008dff,#0082ff 4.3%,#0061ff 8.8%,#0025ff 14.2%,#0000ff 17.1%,#0000fd 18.2%,#000080 25.8%,#000080)"></div><div style="background:linear-gradient(90deg,#0091ff,#0086ff 4.3%,#0066ff 8.8%,#002aff 14.2%,#0000ff 17.5%,#0000fd 18.6%,#000080 26.2%,#000080)"></div><div style="background:linear-gradient(90deg,#0095ff,#008aff 4.3%,#006aff 8.8%,#0030ff 14.2%,#0000ff 17.9%,#0000fe 19.0%,#000080 26.7%,#000080)"></div><div style="background:linear-gradient(90deg,#0099ff,#008dff 4.5%,#006dff 9.0%,#0030ff 14.6%,#0000ff 18.4%,#0000fe 19.4%,#000080 27.1%,#000080)"></div><div style="background:linear-gradient(90deg,#009dff,#0092ff 4.5%,#0072ff 9.0%,#0036ff 14.6%,#0000ff 18.8%,#0000fe 19.8%,#000080 27.7%,#000080)"></div><div style="background:linear-gradient(90deg,#00a2ff,#0096ff 4.5%,#0075ff 9.2%,#0039ff 14.8%,#0000ff 19.2%,#0000ff 20.2%,#000080 28.1%,#000080)"></div><div style="background:linear-gradient(90deg,#00a6ff,#009bff 4.5%,#007bff 9.2%,#003fff 14.8%,#0000ff 19.8%,#0000fd 20.9%,#000080 28.7%,#000080)"></div><div style="background:linear-gradient(90deg,#00abff,#00a0ff 4.5%,#0080ff 9.2%,#0045ff 14.8%,#0000ff 20.2%,#0000fe 21.3%,#000080 29.4%,#000080)"></div><div style="background:linear-gradient(90deg,#00b0ff,#00a5ff 4.5%,#0085ff 9.2%,#004bff 14.8%,#0000ff 20.6%,#0000fc 21.9%,#000080 30.0%,#000080)"></div><div style="background:linear-gradient(90deg,#00b5ff,#00a9ff 4.7%,#0089ff 9.4%,#004cff 15.2%,#0000ff 21.3%,#0000fe 22.3%,#000080 30.4%,#000080)"></div><div style="background:linear-gradient(90deg,#00baff,#00aeff 4.7%,#008fff 9.4%,#0053ff 15.2%,#0000ff 21.7%,#0000fd 22.9%,#000080 31.0%,#000080)"></div><div style="background:linear-gradient(90deg,#00bfff,#00b4ff 4.7%,#0093ff 9.6%,#0057ff 15.5%,#0000ff 22.3%,#0000fc 23.5%,#000080 31.8%,#000080)"></div><div style="background:linear-gradient(90deg,#00c4ff,#00b9ff 4.7%,#0099ff 9.6%,#005eff 15.5%,#0000ff 22.9%,#0000ff 24.0%,#000080 32.5%,#000080)"></div><div style="background:linear-gradient(90deg,#00c9ff,#00bfff 4.7%,#009fff 9.6%,#0062ff 15.7%,#0000ff 23.5%,#0000ff 24.6%,#000080 33.1%,#000080)"></div><div style="background:linear-gradient(90deg,#00cfff,#00c4ff 4.7%,#00a5ff 9.6%,#0069ff 15.7%,#0000ff 24.2%,#0000ff 25.2%,#000080 33.9%,#000080)"></div><div style="background:linear-gradient(90deg,#00d5ff,#00c9ff 4.9%,#00aaff 9.9%,#006eff 15.9%,#0000ff 24.8%,#0000fc 26.0%,#000080 34.5%,#000080)"></div><div style="background:linear-gradient(90deg,#00dbff,#00cfff 4.9%,#00afff 10.1%,#0071ff 16.3%,#0000ff 25.4%,#0000fd 26.7%,#000080 35.4%,#000080)"></div><div style="background:linear-gradient(90deg,#00e1fb,#00d6ff 4.9%,#00b5ff 10.1%,#0079ff 16.3%,#0000ff 26.2%,#0000fe 27.3%,#000080 36.2%,#000080)"></div><div style="background:linear-gradient(90deg,#01e7f6,#00dcfe 4.9%,#00bcff 10.1%,#0081ff 16.3%,#0000ff 26.9%,#0000fd 28.1%,#000080 37.0%,#000080)"></div><div style="background:linear-gradient(90deg,#06edf0,#00e2fa 5.1%,#00d4ff 7.8%,#00a7ff 13.4%,#0051ff 21.1%,#0000ff 27.7%,#0000fc 28.9%,#000080 38.1%,#000080)"></div><div style="background:linear-gradient(90deg,#0cf4eb,#03e9f4 5.1%,#00d7ff 8.4%,#00a6ff 14.2%,#004bff 22.3%,#0000ff 28.5%,#0000fc 29.8%,#000081 38.9%,#000080)"></div><div style="background:linear-gradient(90deg,#11fbe6,#08f0ef 5.1%,#00e1fb 8.0%,#00d4ff 9.9%,#009cff 16.1%,#0027ff 26.0%,#0000ff 29.4%,#0000fc 30.6%,#000080 39.9%,#000080)"></div><div style="background:linear-gradient(90deg,#17ffe0,#11fbe6 4.0%,#00e2fa 9.0%,#00d4ff 10.9%,#0095ff 17.5%,#0000ff 30.2%,#0000fd 31.4%,#000081 41.0%,#000080)"></div><div style="background:linear-gradient(90deg,#1dffda,#13fde4 5.5%,#00e1fb 10.3%,#00d2ff 12.1%,#008cff 19.2%,#0000ff 31.0%,#0000fe 32.3%,#000080 42.2%,#000080)"></div><div style="background:linear-gradient(90deg,#23ffd4,#17ffdf 5.9%,#0ff8e8 8.0%,#00e3f9 11.1%,#00d5ff 12.8%,#008cff 20.0%,#0000ff 32.1%,#0000fd 33.3%,#000081 43.3%,#000080)"></div><div style="background:linear-gradient(90deg,#29ffce,#1effd9 5.9%,#12fce4 8.6%,#00e1fa 12.3%,#00d3ff 14.0%,#007fff 22.1%,#0000ff 33.1%,#0000fd 34.3%,#000084 44.3%,#000080 45.1%,#000080)"></div><div style="background:linear-gradient(90deg,#2fffc7,#24ffd2 5.9%,#13fde4 9.9%,#00e2fa 13.4%,#00d5ff 14.8%,#007cff 23.3%,#0000ff 34.1%,#0000fe 35.4%,#000089 45.1%,#000080 46.4%,#000080)"></div><div style="background:linear-gradient(90deg,#36ffc1,#2bffcc 6.1%,#13fde4 11.1%,#00e2f9 14.4%,#00d5ff 15.9%,#0072ff 25.2%,#0000ff 35.2%,#0000fd 36.6%,#00008b 46.4%,#000080 47.8%,#000080)"></div><div style="background:linear-gradient(90deg,#3dffba,#32ffc5 6.1%,#13fde4 12.3%,#00e3f9 15.5%,#00d8ff 16.7%,#006aff 26.9%,#0000ff 36.4%,#0000fc 37.9%,#00008e 47.6%,#000080 49.3%,#000080)"></div><div style="background:linear-gradient(90deg,#44ffb3,#39ffbe 6.1%,#19ffde 12.8%,#12fce5 13.8%,#00e2f9 16.7%,#00d4ff 18.2%,#004aff 30.8%,#0000ff 37.7%,#0000fd 39.1%,#000094 48.7%,#000080 50.9%,#000080)"></div><div style="background:linear-gradient(90deg,#4bffac,#40ffb7 6.3%,#1effd8 13.2%,#13fee3 14.8%,#00e3f8 17.7%,#00d7ff 19.0%,#0000ff 38.9%,#0000fc 40.6%,#000096 50.1%,#000080 52.8%,#000080)"></div><div style="background:linear-gradient(90deg,#53ffa4,#48ffaf 6.3%,#27ffd0 13.2%,#14fee3 16.1%,#00e3f9 19.0%,#00d7ff 20.2%,#0000ff 40.4%,#0000fc 42.0%,#00009a 51.6%,#000080 54.7%,#000080)"></div><div style="background:linear-gradient(90deg,#5aff9c,#50ffa7 6.3%,#30ffc7 13.2%,#13fce4 17.5%,#00e3f9 20.2%,#00d7ff 21.5%,#0000ff 41.8%,#0000fe 43.5%,#00009f 53.0%,#000080 57.0%,#000080)"></div><div style="background:linear-gradient(90deg,#63ff94,#57ff9f 6.5%,#36ffc0 13.6%,#13fde4 18.8%,#00e4f8 21.5%,#00d7ff 22.7%,#0001ff 43.3%,#0000fe 45.1%,#0000a3 54.7%,#000080 59.2%,#000080)"></div><div style="background:linear-gradient(90deg,#6bff8c,#60ff97 6.5%,#40ffb7 13.6%,#13fde4 20.2%,#00e3f9 22.9%,#00d6ff 24.2%,#000eff 43.7%,#0000ff 45.3%,#0000fe 47.0%,#0000a7 56.5%,#000080 61.9%,#000080)"></div><div style="background:linear-gradient(90deg,#74ff83,#68ff8e 6.7%,#47ffb0 14.0%,#13fde4 21.7%,#00e2f9 24.4%,#00d6ff 25.6%,#001bff 44.1%,#0000ff 47.2%,#0000fd 49.1%,#0000a9 58.8%,#000080 65.0%,#000080)"></div><div style="background:linear-gradient(90deg,#7dff7a,#72ff85 6.7%,#51ffa5 14.0%,#13fde4 23.1%,#00e3f9 25.8%,#00d6ff 27.1%,#0027ff 44.7%,#0000ff 49.5%,#0000fc 51.3%,#0000ad 61.1%,#000080 68.4%,#000080)"></div><div style="background:linear-gradient(90deg,#86ff71,#7bff7c 7.0%,#5aff9d 14.4%,#17ffe0 24.2%,#0cf4eb 25.6%,#00e2fa 27.5%,#00d6ff 28.7%,#0034ff 45.3%,#0000ff 51.8%,#0000fd 53.6%,#0000b3 63.4%,#000080 72.5%,#000080)"></div><div style="background:linear-gradient(90deg,#90ff67,#85ff72 7.0%,#65ff92 14.4%,#24ffd3 24.2%,#13fce4 26.5%,#00e2f9 29.1%,#00d4ff 30.6%,#003eff 46.4%,#0000ff 54.3%,#0000fd 56.3%,#0000b9 66.1%,#000086 76.0%,#000080 78.5%,#000080)"></div><div style="background:linear-gradient(90deg,#9aff5d,#8fff68 7.2%,#6eff89 14.8%,#2bffcc 25.0%,#13fee3 28.1%,#00e4f8 30.8%,#00d8ff 32.1%,#0049ff 47.4%,#0000ff 57.0%,#0000fd 59.4%,#0000bd 69.4%,#000090 79.6%,#000080 85.8%,#000080)"></div><div style="background:linear-gradient(90deg,#a4ff53,#99ff5d 7.2%,#79ff7e 15.0%,#36ffc1 25.4%,#14fee3 30.0%,#00e3f9 32.9%,#00d5ff 34.3%,#0052ff 48.9%,#0002ff 59.9%,#0000fd 63.0%,#0000c3 73.1%,#00009c 83.5%,#000087 94.3%,#000085)"></div><div style="background:linear-gradient(90deg,#afff48,#a4ff53 7.4%,#83ff74 15.5%,#40ffb7 26.0%,#14fee3 32.1%,#00e3f9 35.0%,#00d7ff 36.2%,#005dff 50.3%,#000eff 61.5%,#0000ff 64.4%,#0000fd 67.1%,#0000cb 77.3%,#0000ab 87.9%,#00009f 98.7%,#00009e)"></div><div style="background:linear-gradient(90deg,#baff3c,#afff47 7.6%,#8fff68 15.7%,#4cffab 26.5%,#13fde4 34.3%,#00e3f9 37.2%,#00d6ff 38.7%,#0066ff 52.2%,#001bff 63.4%,#0000ff 69.0%,#0000fc 72.3%,#0000d4 82.7%,#0000be 93.3%,#0000ba)"></div><div style="background:linear-gradient(90deg,#c6ff31,#bcff3b 7.6%,#9bff5c 15.9%,#59ff9e 26.9%,#13fde4 36.8%,#00e3f9 39.7%,#00d7ff 41.2%,#006fff 54.3%,#0029ff 65.5%,#0000ff 74.4%,#0000fc 79.1%,#0000e0 89.7%,#0000d7)"></div><div style="background:linear-gradient(90deg,#d3ff24,#c8ff2f 7.8%,#a7ff50 16.3%,#64ff93 27.7%,#13fde4 39.5%,#00e2f9 42.6%,#00d6ff 44.1%,#0078ff 56.7%,#0037ff 67.9%,#0009ff 79.1%,#0000ff 83.3%,#0000fc 91.2%,#0000f5)"></div><div style="background:linear-gradient(90deg,#dfff17,#d5ff22 8.0%,#b4ff43 16.7%,#70ff87 28.5%,#13fde4 42.4%,#00e3f9 45.7%,#00d6ff 47.4%,#007fff 59.9%,#0043ff 71.3%,#001cff 82.5%,#0007ff 93.9%,#0004ff)"></div><div style="background:linear-gradient(90deg,#edff0a,#e2ff15 8.2%,#c2ff35 17.1%,#7eff79 29.1%,#14fee3 45.7%,#00e3f9 49.3%,#00d6ff 51.1%,#0088ff 63.4%,#0053ff 74.8%,#0031ff 86.2%,#0023ff 97.6%,#0022ff)"></div><div style="background:linear-gradient(90deg,#fbf100,#f3f903 7.0%,#eaff0d 10.7%,#c2ff35 20.4%,#67ff90 36.0%,#13fde3 49.7%,#00e2f9 53.6%,#00d6ff 55.5%,#0092ff 67.5%,#0064ff 78.9%,#004aff 90.4%,#0043ff)"></div><div style="background:linear-gradient(90deg,#ffe000,#ffeb00 8.0%,#f4f903 12.6%,#eaff0d 15.2%,#b3ff43 26.7%,#13fee3 54.3%,#00e3f9 58.6%,#00d7ff 60.7%,#009dff 72.5%,#0078ff 84.1%,#0066ff 95.7%,#0065ff)"></div><div style="background:linear-gradient(90deg,#ffce00,#ffd900 8.4%,#fcef00 15.0%,#f3fa04 17.5%,#eaff0d 19.6%,#9dff5a 34.3%,#26ffd1 55.9%,#12fce4 60.1%,#00e3f9 64.8%,#00d6ff 67.5%,#00a9ff 79.4%,#008fff 91.0%,#0089ff)"></div><div style="background:linear-gradient(90deg,#ffbc00,#ffc600 8.6%,#ffe700 17.9%,#fbf100 20.2%,#efff08 22.9%,#39ffbe 58.0%,#13fce4 67.3%,#00e3f9 73.5%,#00d6ff 77.1%,#00baff 88.9%,#00b1ff)"></div><div style="background:linear-gradient(90deg,#ffa800,#ffb300 9.0%,#ffd400 18.8%,#fdef00 24.6%,#f2fb05 26.9%,#e9ff0d 28.7%,#58ff9f 58.0%,#22ffd5 72.5%,#12fce4 78.1%,#00e4f8 88.9%,#00dbff)"></div><div style="background:linear-gradient(90deg,#ff9400,#ff9f00 9.4%,#ffc000 19.8%,#fdef00 29.8%,#f2fb04 32.1%,#eaff0d 33.9%,#74ff83 59.2%,#40ffb7 74.2%,#24ffd3 87.9%,#1cffdb)"></div><div style="background:linear-gradient(90deg,#ff7e00,#ff8900 9.9%,#ffaa00 20.9%,#fdef00 35.8%,#f2fb04 38.1%,#eaff0d 39.9%,#8eff69 61.7%,#60ff97 76.9%,#48ffaf 91.0%,#44ffb3)"></div><div style="background:linear-gradient(90deg,#ff6800,#ff7200 10.5%,#ff9300 22.1%,#ffdf00 39.7%,#fcef00 43.0%,#f2fb05 45.5%,#e9ff0e 47.8%,#a3ff53 66.9%,#7fff78 82.1%,#6fff87 96.4%,#6fff88)"></div><div style="background:linear-gradient(90deg,#ff5000,#ff5b00 11.3%,#ff7c00 24.0%,#ffd400 46.0%,#fcef00 52.6%,#f2fb05 55.5%,#e9ff0e 58.2%,#b9ff3e 75.4%,#a2ff55 90.6%,#9eff59)"></div><div style="background:linear-gradient(90deg,#ff3700,#ff4200 12.3%,#ff6400 26.5%,#ffec00 65.9%,#f3f903 70.9%,#ebff0c 75.0%,#d5ff22 91.0%,#d1ff26)"></div><div style="background:linear-gradient(90deg,#ff1c00,#ff2700 13.8%,#ff4a00 30.0%,#ffb700 67.7%,#ffd600 84.8%,#ffe000)"></div><div style="background:linear-gradient(90deg,#e80000,#f20900 14.2%,#ff1600 23.3%,#ff5e00 55.9%,#ff8800 77.9%,#ff9800 95.7%,#ff9800)"></div><div style="background:linear-gradient(90deg,#c30000,#ce0000 17.9%,#eb0300 36.8%,#ff1500 48.7%,#ff3e00 78.1%,#ff4900 99.3%,#ff4900)"></div><div style="background:linear-gradient(90deg,#9c0000,#a70000 28.5%,#d00000 82.9%,#d40000)"></div><div style="background:linear-gradient(90deg,#840000,#8d0000)"></div></div>
<div class="cb" style="left:303px;top:34px;width:9px;height:211px"></div>
<div class="hm" style="left:403px;top:34px;width:240px;height:211px"><div style="background:linear-gradient(90deg,#000080,#00008a 8.9%,#0000a8 17.6%,#0000d8 26.1%,#0000ff 31.6%,#0002ff 33.6%,#0051ff 42.6%,#00bbff 52.2%,#00defc 55.1%,#05ecf2 56.1%,#16ffe1 57.8%,#effe08 78.2%,#f9f300 79.3%,#ffe800 80.3%,#ffa900 87.2%,#ff8500 93.0%,#ff7500 98.6%,#ff7400)"></div><div style="background:linear-gradient(90deg,#000080,#00008a 8.9%,#0000a8 17.6%,#0000d8 26.1%,#0000ff 31.6%,#0002ff 33.6%,#0051ff 42.6%,#00baff 52.2%,#00defd 55.1%,#05ebf2 56.1%,#16ffe1 57.8%,#eeff08 78.2%,#faf200 79.5%,#ffe400 80.7%,#ffa600 87.6%,#ff8400 93.4%,#ff7600 99.1%,#ff7500)"></div><div style="background:linear-gradient(90deg,#000080,#00008a 8.9%,#0000a8 17.6%,#0000d8 26.1%,#0000ff 31.6%,#0002ff 33.6%,#0051ff 42.6%,#00baff 52.2%,#00defd 55.1%,#02e8f5 55.9%,#15ffe1 57.8%,#eeff09 78.2%,#f9f200 79.5%,#ffe700 80.5%,#ffa900 87.4%,#ff8600 93.2%,#ff7700 98.9%,#ff7600)"></div><div style="background:linear-gradient(90deg,#000080,#00008a 8.9%,#0000a8 17.6%,#0000d8 26.1%,#0000ff 31.6%,#0002ff 33.6%,#0051ff 42.6%,#00baff 52.2%,#00ddfd 55.1%,#04eaf3 56.1%,#17ffe0 58.0%,#edff0a 78.2%,#f9f300 79.5%,#ffe800 80.5%,#ffaa00 87.4%,#ff8700 93.2%,#ff7800 98.9%,#ff7700)"></div><div style="background:linear-gradient(90deg,#000080,#00008a 8.9%,#0000a8 17.6%,#0000d8 26.1%,#0000ff 31.6%,#0001ff 33.6%,#0053ff 42.8%,#00bcff 52.4%,#00ddfe 55.1%,#04eaf3 56.1%,#17ffe0 58.0%,#ecff0b 78.2%,#faf200 79.7%,#ffe700 80.7%,#ffaa00 87.6%,#ff8700 93.4%,#ff7900 99.1%,#ff7900)"></div><div style="background:linear-gradient(90deg,#000080,#00008a 8.9%,#0000a8 17.6%,#0000d8 26.1%,#0000ff 31.8%,#0003ff 33.9%,#0054ff 43.0%,#00beff 52.6%,#00dcfe 55.1%,#03e9f4 56.1%,#16ffe0 58.0%,#ebff0b 78.2%,#f7f500 79.5%,#ffe800 80.7%,#ffab00 87.6%,#ff8800 93.4%,#ff7a00 99.1%,#ff7a00)"></div><div style="background:linear-gradient(90deg,#000080,#00008a 9.1%,#0000a8 17.8%,#0000d9 26.4%,#0000ff 31.8%,#0003ff 33.9%,#0054ff 43.0%,#00beff 52.6%,#00dffc 55.3%,#05ecf2 56.4%,#16ffe1 58.0%,#ebff0c 78.2%,#f2fb04 79.1%,#feed00 80.3%,#ffaf00 87.2%,#ff8a00 93.2%,#ff7b00 98.9%,#ff7b00)"></div><div style="background:linear-gradient(90deg,#000080,#00008a 9.1%,#0000a8 17.8%,#0000d9 26.4%,#0000ff 31.8%,#0003ff 33.9%,#0054ff 43.0%,#00bdff 52.6%,#00defd 55.3%,#05ebf2 56.4%,#16ffe1 58.0%,#eaff0d 78.2%,#f4f903 79.3%,#ffea00 80.7%,#ffad00 87.6%,#ff8a00 93.6%,#ff7c00 99.3%,#ff7c00)"></div><div style="background:linear-gradient(90deg,#000080,#00008a 9.1%,#0000a8 17.8%,#0000d9 26.4%,#0000ff 31.8%,#0003ff 33.9%,#0054ff 43.0%,#00bdff 52.6%,#00defd 55.3%,#02e8f5 56.1%,#15ffe2 58.0%,#e9ff0e 78.2%,#f3fa04 79.3%,#fcef00 80.3%,#ffb300 87.0%,#ff8d00 93.0%,#ff7e00 98.6%,#ff7d00)"></div><div style="background:linear-gradient(90deg,#000080,#00008a 9.1%,#0000a8 17.8%,#0000d9 26.4%,#0000ff 31.8%,#0002ff 33.9%,#0053ff 43.0%,#00bcff 52.6%,#00ddfd 55.3%,#04eaf3 56.4%,#17ffe0 58.2%,#e8ff0f 78.2%,#f2fb05 79.3%,#fdee00 80.5%,#ffb000 87.4%,#ff8d00 93.4%,#ff7f00 99.1%,#ff7e00)"></div><div style="background:linear-gradient(90deg,#000080,#00008a 9.1%,#0000a8 17.8%,#0000d9 26.4%,#0000ff 31.8%,#0002ff 33.9%,#0053ff 43.0%,#00bcff 52.6%,#00ddfe 55.3%,#03eaf3 56.4%,#17ffe0 58.2%,#e7ff0f 78.2%,#f1fc06 79.3%,#fbf100 80.3%,#ffe200 81.8%,#ffaa00 88.4%,#ff8b00 94.3%,#ff8000)"></div><div style="background:linear-gradient(90deg,#000080,#00008a 9.1%,#0000a8 17.8%,#0000d8 26.4%,#0000ff 31.8%,#0002ff 33.9%,#0053ff 43.0%,#00beff 52.8%,#00dcfe 55.3%,#03e9f4 56.4%,#16ffe1 58.2%,#e7ff10 78.2%,#f0fd06 79.3%,#faf200 80.3%,#ffe800 81.4%,#ffad00 88.2%,#ff8d00 94.1%,#ff8100 99.7%,#ff8100)"></div><div style="background:linear-gradient(90deg,#000080,#00008a 9.1%,#0000a8 17.8%,#0000d8 26.4%,#0000ff 31.8%,#0002ff 33.9%,#0053ff 43.0%,#00beff 52.8%,#00dffc 55.5%,#05ebf2 56.6%,#16ffe1 58.2%,#e6ff11 78.2%,#f1fc05 79.5%,#fbf100 80.5%,#ffe200 82.0%,#ffab00 88.6%,#ff8c00 94.5%,#ff8200)"></div><div style="background:linear-gradient(90deg,#000080,#00008a 9.1%,#0000a8 17.8%,#0000d8 26.4%,#0000ff 31.8%,#0002ff 33.9%,#0053ff 43.0%,#00bdff 52.8%,#00defd 55.5%,#04ebf2 56.6%,#15ffe1 58.2%,#e5ff12 78.2%,#f1fd06 79.5%,#faf200 80.5%,#ffe700 81.6%,#ffaf00 88.2%,#ff8f00 94.1%,#ff8300 99.7%,#ff8300)"></div><div style="background:linear-gradient(90deg,#000080,#00008a 9.1%,#0000a8 17.8%,#0000d8 26.4%,#0000ff 31.8%,#0002ff 33.9%,#0052ff 43.0%,#00bdff 52.8%,#00defd 55.5%,#04ebf3 56.6%,#17ffe0 58.4%,#e4ff13 78.2%,#f0fe07 79.5%,#fbf100 80.7%,#ffe200 82.2%,#ffac00 88.9%,#ff8e00 94.7%,#ff8500)"></div><div style="background:linear-gradient(90deg,#000080,#00008a 9.1%,#0000a8 17.8%,#0000da 26.6%,#0000ff 31.8%,#0002ff 33.9%,#0052ff 43.0%,#00bcff 52.8%,#00ddfd 55.5%,#04eaf3 56.6%,#17ffe0 58.4%,#e1ff15 78.0%,#f1fc06 79.7%,#faf200 80.7%,#ffe500 82.0%,#ffae00 88.6%,#ff9000 94.5%,#ff8600)"></div><div style="background:linear-gradient(90deg,#000080,#00008a 9.1%,#0000a8 17.8%,#0000d9 26.6%,#0000ff 31.8%,#0001ff 33.9%,#0052ff 43.0%,#00bcff 52.8%,#00ddfe 55.5%,#03eaf3 56.6%,#16ffe1 58.4%,#e1ff16 78.0%,#f0fd07 79.7%,#fbf100 80.9%,#ffe300 82.4%,#ffad00 89.1%,#ff9000 94.9%,#ff8700)"></div><div style="background:linear-gradient(90deg,#000080,#00008a 9.1%,#0000a8 17.8%,#0000d9 26.6%,#0000ff 32.0%,#0003ff 34.1%,#0054ff 43.2%,#00beff 53.0%,#00dffc 55.7%,#05ecf2 56.8%,#16ffe1 58.4%,#e0ff17 78.0%,#f1fc06 79.9%,#faf200 80.9%,#ffe600 82.2%,#ffaf00 88.9%,#ff9200 94.7%,#ff8800)"></div><div style="background:linear-gradient(90deg,#000080,#00008a 9.1%,#0000a8 17.8%,#0000d9 26.6%,#0000ff 32.0%,#0003ff 34.1%,#0053ff 43.2%,#00beff 53.0%,#00defd 55.7%,#05ebf2 56.8%,#15ffe1 58.4%,#dfff18 78.0%,#f0fd07 79.9%,#fbf100 81.1%,#ffe300 82.6%,#ffae00 89.3%,#ff9200 95.1%,#ff8a00)"></div><div style="background:linear-gradient(90deg,#000080,#00008a 9.1%,#0000a8 17.8%,#0000d9 26.6%,#0000ff 32.0%,#0003ff 34.1%,#0053ff 43.2%,#00bdff 53.0%,#00defd 55.7%,#04ebf3 56.8%,#17ffe0 58.6%,#deff19 78.0%,#f1fc06 80.1%,#faf200 81.1%,#ffe600 82.4%,#ffb000 89.1%,#ff9400 94.9%,#ff8b00)"></div><div style="background:linear-gradient(90deg,#000080,#00008a 9.1%,#0000a8 17.8%,#0000d9 26.6%,#0000ff 32.0%,#0002ff 34.1%,#0053ff 43.2%,#00bdff 53.0%,#00ddfd 55.7%,#04eaf3 56.8%,#17ffe0 58.6%,#ddff1a 78.0%,#f0fd07 80.1%,#fbf100 81.4%,#ffe300 82.8%,#ffaf00 89.5%,#ff9400 95.3%,#ff8c00)"></div><div style="background:linear-gradient(90deg,#000080,#00008a 9.1%,#0000a8 17.8%,#0000d9 26.6%,#0000ff 32.0%,#0002ff 34.1%,#0053ff 43.2%,#00bcff 53.0%,#00ddfe 55.7%,#03eaf3 56.8%,#16ffe1 58.6%,#dcff1a 78.0%,#f1fc06 80.3%,#faf200 81.4%,#ffe600 82.6%,#ffb100 89.3%,#ff9600 95.1%,#ff8e00)"></div><div style="background:linear-gradient(90deg,#000080,#00008a 9.1%,#0000a8 17.8%,#0000d9 26.6%,#0000ff 32.0%,#0002ff 34.1%,#0052ff 43.2%,#00bcff 53.0%,#00dffc 55.9%,#05ecf2 57.0%,#16ffe1 58.6%,#dcff1b 78.0%,#f0fd07 80.3%,#fbf100 81.6%,#ffe300 83.0%,#ffb000 89.7%,#ff9600 95.5%,#ff8f00)"></div><div style="background:linear-gradient(90deg,#000080,#00008a 9.1%,#0000a8 17.8%,#0000d9 26.6%,#0000ff 32.0%,#0002ff 34.1%,#0052ff 43.2%,#00bcff 53.0%,#00defc 55.9%,#05ebf2 57.0%,#15ffe1 58.6%,#dbff1c 78.0%,#f1fc06 80.5%,#fcf000 81.8%,#ffe300 83.2%,#ffb100 89.7%,#ff9700 95.5%,#ff9000)"></div><div style="background:linear-gradient(90deg,#000080,#00008a 9.1%,#0000a8 17.8%,#0000d9 26.6%,#0000ff 32.0%,#0002ff 34.1%,#0052ff 43.2%,#00beff 53.2%,#00defd 55.9%,#04ebf3 57.0%,#17ffe0 58.9%,#daff1d 78.0%,#f0fd07 80.5%,#fbf100 81.8%,#ffe600 83.0%,#ffb300 89.7%,#ff9800 95.5%,#ff9200)"></div><div style="background:linear-gradient(90deg,#000080,#00008a 9.1%,#0000a8 17.8%,#0000d9 26.6%,#0000ff 32.0%,#0002ff 34.1%,#0051ff 43.2%,#00bdff 53.2%,#00ddfd 55.9%,#04eaf3 57.0%,#16ffe0 58.9%,#d9ff1e 78.0%,#f1fc06 80.7%,#fbf000 82.0%,#ffe100 83.6%,#ffb100 90.1%,#ff9900 95.9%,#ff9300)"></div><div style="background:linear-gradient(90deg,#000080,#00008a 9.1%,#0000a8 17.8%,#0000d8 26.6%,#0000ff 32.0%,#0002ff 34.1%,#0053ff 43.4%,#00bfff 53.4%,#00ddfe 55.9%,#03eaf4 57.0%,#16ffe1 58.9%,#d8ff1f 78.0%,#f0fd07 80.7%,#faf100 82.0%,#ffe600 83.2%,#ffb400 89.9%,#ff9b00 95.7%,#ff9500)"></div><div style="background:linear-gradient(90deg,#000080,#00008a 9.1%,#0000a8 18.0%,#0000da 26.8%,#0000ff 32.0%,#0003ff 34.3%,#0055ff 43.6%,#00c1ff 53.6%,#00dffc 56.1%,#05ecf2 57.2%,#15ffe1 58.9%,#d7ff20 78.0%,#f1fc06 80.9%,#fbf100 82.2%,#ffe200 83.9%,#ffb300 90.3%,#ff9b00 96.1%,#ff9600)"></div><div style="background:linear-gradient(90deg,#000080,#00008a 9.1%,#0000a8 18.0%,#0000da 26.8%,#0000ff 32.2%,#0003ff 34.3%,#0055ff 43.6%,#00c1ff 53.6%,#00defd 56.1%,#04ebf2 57.2%,#17ffe0 59.1%,#d6ff21 78.0%,#f0fe07 80.9%,#faf200 82.2%,#ffe700 83.4%,#ffb500 90.1%,#ff9d00 95.9%,#ff9700)"></div><div style="background:linear-gradient(90deg,#000080,#00008a 9.1%,#0000a8 18.0%,#0000d9 26.8%,#0000ff 32.2%,#0003ff 34.3%,#0054ff 43.6%,#00c0ff 53.6%,#00defd 56.1%,#04eaf3 57.2%,#17ffe0 59.1%,#d5ff22 78.0%,#f0fd06 81.1%,#fbf100 82.4%,#ffe400 83.9%,#ffb600 90.3%,#ff9e00 96.1%,#ff9900)"></div><div style="background:linear-gradient(90deg,#000080,#00008a 9.1%,#0000a8 18.0%,#0000d9 26.8%,#0000ff 32.2%,#0002ff 34.3%,#0054ff 43.6%,#00c0ff 53.6%,#00ddfd 56.1%,#04eaf3 57.2%,#16ffe1 59.1%,#d4ff23 78.0%,#effe07 81.1%,#faf200 82.4%,#ffe700 83.6%,#ffb800 90.1%,#ffa000 95.9%,#ff9a00)"></div><div style="background:linear-gradient(90deg,#000080,#00008a 9.1%,#0000a8 18.0%,#0000d9 26.8%,#0000ff 32.2%,#0002ff 34.3%,#0054ff 43.6%,#00bfff 53.6%,#00ddfe 56.1%,#03e9f4 57.2%,#16ffe1 59.1%,#d3ff23 78.0%,#f0fd07 81.4%,#faf200 82.6%,#ffe700 83.9%,#ffb800 90.3%,#ffa100 96.1%,#ff9c00)"></div><div style="background:linear-gradient(90deg,#000080,#00008a 9.1%,#0000a8 18.0%,#0000d9 26.8%,#0000ff 32.2%,#0002ff 34.3%,#0053ff 43.6%,#00bfff 53.6%,#00dffc 56.4%,#05ebf2 57.4%,#17ffe0 59.3%,#d2ff24 78.0%,#f1fc06 81.6%,#fbf100 82.8%,#ffe400 84.3%,#ffb700 90.7%,#ffa100 96.6%,#ff9d00)"></div><div style="background:linear-gradient(90deg,#000080,#00008a 9.1%,#0000a8 18.0%,#0000d9 26.8%,#0000ff 32.2%,#0002ff 34.3%,#0053ff 43.6%,#00c1ff 53.9%,#00defd 56.4%,#04ebf3 57.4%,#17ffe0 59.3%,#d1ff25 78.0%,#f0fe07 81.6%,#faf200 82.8%,#ffe700 84.1%,#ffba00 90.5%,#ffa300 96.4%,#ff9f00)"></div><div style="background:linear-gradient(90deg,#000080,#00008a 9.1%,#0000a8 18.0%,#0000d9 26.8%,#0000ff 32.2%,#0002ff 34.3%,#0053ff 43.6%,#00c0ff 53.9%,#00defd 56.4%,#04eaf3 57.4%,#16ffe1 59.3%,#d0ff26 78.0%,#f0fd06 81.8%,#faf200 83.0%,#ffe700 84.3%,#ffba00 90.7%,#ffa400 96.6%,#ffa000)"></div><div style="background:linear-gradient(90deg,#000080,#00008a 9.1%,#0000a8 18.0%,#0000d9 26.8%,#0000ff 32.2%,#0002ff 34.3%,#0053ff 43.6%,#00bfff 53.9%,#00ddfe 56.4%,#03e9f4 57.4%,#16ffe1 59.3%,#cfff27 78.0%,#effe07 81.8%,#fbf100 83.2%,#ffe500 84.7%,#ffb900 91.1%,#ffa500 97.0%,#ffa200)"></div><div style="background:linear-gradient(90deg,#000080,#00008a 9.1%,#0000a8 18.0%,#0000d9 26.8%,#0000ff 32.2%,#0003ff 34.5%,#0054ff 43.9%,#00c1ff 54.1%,#00dffc 56.6%,#05ebf2 57.6%,#17ffe0 59.5%,#ceff28 78.0%,#f0fd07 82.0%,#faf200 83.2%,#ffe600 84.7%,#ffbb00 91.1%,#ffa600 97.0%,#ffa300)"></div><div style="background:linear-gradient(90deg,#000080,#00008a 9.1%,#0000a8 18.0%,#0000d9 26.8%,#0000ff 32.2%,#0003ff 34.5%,#0054ff 43.9%,#00c1ff 54.1%,#00defd 56.6%,#04ebf3 57.6%,#17ffe0 59.5%,#cdff29 78.0%,#f1fd06 82.2%,#faf200 83.4%,#ffe700 84.7%,#ffbc00 91.1%,#ffa800 97.0%,#ffa500)"></div><div style="background:linear-gradient(90deg,#000080,#00008a 9.1%,#0000a8 18.0%,#0000d8 26.8%,#0000ff 32.4%,#0003ff 34.5%,#0054ff 43.9%,#00c0ff 54.1%,#00defd 56.6%,#04eaf3 57.6%,#16ffe1 59.5%,#ccff2a 78.0%,#effe07 82.2%,#fbf100 83.6%,#ffe700 84.9%,#ffbd00 91.4%,#ffa900 97.2%,#ffa600)"></div><div style="background:linear-gradient(90deg,#000080,#00008a 9.1%,#0000a8 18.0%,#0000d8 26.8%,#0000ff 32.4%,#0002ff 34.5%,#0053ff 43.9%,#00c0ff 54.1%,#00ddfe 56.6%,#03e9f4 57.6%,#16ffe1 59.5%,#cbff2b 78.0%,#f0fd07 82.4%,#fbf100 83.9%,#ffe500 85.3%,#ffbc00 91.8%,#ffaa00 97.6%,#ffa800)"></div><div style="background:linear-gradient(90deg,#000080,#00008a 9.1%,#0000a8 18.0%,#0000d8 26.8%,#0000ff 32.4%,#0002ff 34.5%,#0053ff 43.9%,#00bfff 54.1%,#00dffc 56.8%,#05ebf2 57.8%,#17ffe0 59.7%,#c9ff2e 77.8%,#f0fd06 82.6%,#faf200 83.9%,#ffe600 85.3%,#ffbe00 91.8%,#ffab00 97.6%,#ffa900)"></div><div style="background:linear-gradient(90deg,#000080,#00008a 9.1%,#0000a8 18.0%,#0000d8 26.8%,#0000ff 32.4%,#0002ff 34.5%,#0053ff 43.9%,#00bfff 54.1%,#00defd 56.8%,#04ebf3 57.8%,#16ffe0 59.7%,#c8ff2f 77.8%,#f1fc06 82.8%,#faf200 84.1%,#ffe600 85.5%,#ffbe00 92.0%,#ffac00 97.8%,#ffab00)"></div><div style="background:linear-gradient(90deg,#000080,#00008a 9.1%,#0000a8 18.0%,#0000d8 26.8%,#0000ff 32.4%,#0002ff 34.5%,#0054ff 44.1%,#00c3ff 54.5%,#00defd 56.8%,#04eaf3 57.8%,#16ffe1 59.7%,#c6ff30 77.8%,#f0fe07 82.8%,#faf100 84.3%,#ffe600 85.7%,#ffbf00 92.2%,#ffae00 98.0%,#ffac00)"></div><div style="background:linear-gradient(90deg,#000080,#00008a 9.1%,#0000a8 18.0%,#0000d8 26.8%,#0000ff 32.4%,#0002ff 34.5%,#0054ff 44.1%,#00c2ff 54.5%,#00ddfe 56.8%,#03e9f4 57.8%,#15ffe1 59.7%,#c5ff31 77.8%,#f0fd07 83.0%,#fbf100 84.5%,#ffe600 85.9%,#ffbf00 92.4%,#ffaf00 98.2%,#ffae00)"></div><div style="background:linear-gradient(90deg,#000080,#00008a 9.1%,#0000a8 18.0%,#0000d8 26.8%,#0000ff 32.4%,#0003ff 34.7%,#0056ff 44.3%,#00c4ff 54.7%,#00dffc 57.0%,#05ebf2 58.0%,#17ffe0 59.9%,#c4ff32 77.8%,#f0fd06 83.2%,#fbf100 84.7%,#ffe600 86.1%,#ffc000 92.6%,#ffb000 98.4%,#ffb000)"></div><div style="background:linear-gradient(90deg,#000080,#00008a 9.1%,#0000a8 18.0%,#0000d8 26.8%,#0000ff 32.4%,#0003ff 34.7%,#0055ff 44.3%,#00c4ff 54.7%,#00defd 57.0%,#04ebf3 58.0%,#16ffe1 59.9%,#c3ff33 77.8%,#f1fc06 83.4%,#faf200 84.7%,#ffe700 86.1%,#ffc200 92.6%,#ffb200 98.4%,#ffb100)"></div><div style="background:linear-gradient(90deg,#000080,#00008a 9.1%,#0000a7 18.0%,#0000d9 27.0%,#0000ff 32.4%,#0003ff 34.7%,#0055ff 44.3%,#00c3ff 54.7%,#00defd 57.0%,#03eaf3 58.0%,#16ffe1 59.9%,#c2ff35 77.8%,#f0fe07 83.4%,#faf200 84.9%,#ffe700 86.4%,#ffc200 92.8%,#ffb400 98.6%,#ffb300)"></div><div style="background:linear-gradient(90deg,#000080,#00008a 9.3%,#0000a8 18.2%,#0000da 27.2%,#0000ff 32.6%,#0002ff 34.7%,#0054ff 44.3%,#00c2ff 54.7%,#00ddfe 57.0%,#05ecf2 58.2%,#17ffe0 60.1%,#c1ff36 77.8%,#f0fe07 83.6%,#faf200 85.1%,#ffe700 86.6%,#ffc400 92.8%,#ffb500 98.6%,#ffb500)"></div><div style="background:linear-gradient(90deg,#000080,#00008a 9.3%,#0000a8 18.2%,#0000da 27.2%,#0000ff 32.6%,#0002ff 34.7%,#0054ff 44.3%,#00c4ff 54.9%,#00dffc 57.2%,#04ebf2 58.2%,#16ffe0 60.1%,#c0ff37 77.8%,#f0fd07 83.9%,#faf200 85.3%,#ffe600 87.0%,#ffc400 93.2%,#ffb700 99.1%,#ffb600)"></div><div style="background:linear-gradient(90deg,#000080,#00008a 9.3%,#0000a8 18.2%,#0000da 27.2%,#0000ff 32.6%,#0002ff 34.7%,#0054ff 44.3%,#00c3ff 54.9%,#00defd 57.2%,#04eaf3 58.2%,#16ffe1 60.1%,#bfff38 77.8%,#f0fd07 84.1%,#fbf000 85.7%,#ffe300 87.6%,#ffc300 93.9%,#ffb800 99.7%,#ffb800)"></div><div style="background:linear-gradient(90deg,#000080,#00008a 9.3%,#0000a8 18.2%,#0000da 27.2%,#0000ff 32.6%,#0002ff 34.7%,#0053ff 44.3%,#00c3ff 54.9%,#00ddfd 57.2%,#03e9f4 58.2%,#17ffe0 60.3%,#beff39 77.8%,#f0fd06 84.3%,#fbf000 85.9%,#ffe200 88.0%,#ffc300 94.3%,#ffba00)"></div><div style="background:linear-gradient(90deg,#000080,#00008a 9.3%,#0000a8 18.2%,#0000d9 27.2%,#0000ff 32.6%,#0002ff 34.7%,#0053ff 44.3%,#00c2ff 54.9%,#00dffc 57.4%,#05ebf2 58.4%,#16ffe0 60.3%,#bdff3a 77.8%,#f1fd06 84.5%,#fbf000 86.1%,#ffe400 88.0%,#ffc500 94.3%,#ffbb00)"></div><div style="background:linear-gradient(90deg,#000080,#00008a 9.3%,#0000a8 18.2%,#0000d9 27.2%,#0000ff 32.6%,#0003ff 34.9%,#0055ff 44.5%,#00c4ff 55.1%,#00defd 57.4%,#04eaf3 58.4%,#16ffe1 60.3%,#bcff3b 77.8%,#f1fd06 84.7%,#fbf000 86.4%,#ffe400 88.2%,#ffc600 94.5%,#ffbd00)"></div><div style="background:linear-gradient(90deg,#000080,#00008a 9.3%,#0000a8 18.2%,#0000d9 27.2%,#0000ff 32.6%,#0003ff 34.9%,#0054ff 44.5%,#00c3ff 55.1%,#00defd 57.4%,#03eaf3 58.4%,#15ffe2 60.3%,#baff3c 77.8%,#f1fd06 84.9%,#fbf000 86.6%,#ffe400 88.4%,#ffc700 94.7%,#ffbf00)"></div><div style="background:linear-gradient(90deg,#000080,#00008a 9.3%,#0000a8 18.2%,#0000d9 27.2%,#0000ff 32.8%,#0002ff 34.9%,#0054ff 44.5%,#00c3ff 55.1%,#00ddfe 57.4%,#05ebf2 58.6%,#17ffe0 60.5%,#b9ff3e 77.8%,#f1fd06 85.1%,#fbf100 86.8%,#ffe300 88.9%,#ffc800 95.1%,#ffc100)"></div><div style="background:linear-gradient(90deg,#000080,#00008a 9.3%,#0000a8 18.2%,#0000d9 27.2%,#0000ff 32.8%,#0002ff 34.9%,#0055ff 44.7%,#00c7ff 55.5%,#00defc 57.6%,#04ebf3 58.6%,#16ffe1 60.5%,#b8ff3f 77.8%,#f1fd06 85.3%,#fbf100 87.0%,#ffe400 89.1%,#ffc900 95.3%,#ffc200)"></div><div style="background:linear-gradient(90deg,#000080,#00008a 9.3%,#0000a8 18.2%,#0000d9 27.2%,#0000ff 32.8%,#0002ff 34.9%,#0055ff 44.7%,#00c6ff 55.5%,#00defd 57.6%,#03eaf3 58.6%,#15ffe2 60.5%,#b7ff40 77.8%,#f1fd06 85.5%,#fbf100 87.2%,#ffe500 89.1%,#ffcb00 95.3%,#ffc400)"></div><div style="background:linear-gradient(90deg,#000080,#00008a 9.3%,#0000a8 18.2%,#0000d9 27.2%,#0000ff 32.8%,#0002ff 34.9%,#0055ff 44.7%,#00c5ff 55.5%,#00ddfe 57.6%,#05ebf2 58.9%,#16ffe0 60.7%,#b6ff41 77.8%,#f1fd06 85.7%,#faf100 87.4%,#ffe700 89.1%,#ffcd00 95.3%,#ffc600)"></div><div style="background:linear-gradient(90deg,#000080,#00008a 9.3%,#0000a9 18.4%,#0000da 27.4%,#0000ff 32.8%,#0003ff 35.1%,#0056ff 44.9%,#00c7ff 55.7%,#00dffc 57.8%,#04ebf3 58.9%,#16ffe1 60.7%,#b5ff42 77.8%,#f0fd06 85.9%,#faf200 87.6%,#ffe600 89.5%,#ffcd00 95.7%,#ffc800)"></div><div style="background:linear-gradient(90deg,#000080,#00008a 9.3%,#0000a8 18.4%,#0000da 27.4%,#0000ff 32.8%,#0003ff 35.1%,#0056ff 44.9%,#00c9ff 55.9%,#00defd 57.8%,#03eaf3 58.9%,#17ffe0 60.9%,#b3ff43 77.8%,#f0fd07 86.1%,#fbf100 88.0%,#ffe500 90.1%,#ffce00 96.4%,#ffca00)"></div><div style="background:linear-gradient(90deg,#000080,#00008a 9.3%,#0000a8 18.4%,#0000d9 27.4%,#0000ff 32.8%,#0003ff 35.1%,#0055ff 44.9%,#00c8ff 55.9%,#00ddfe 57.8%,#05ebf2 59.1%,#16ffe0 60.9%,#b2ff45 77.8%,#efff08 86.1%,#fbf100 88.2%,#ffe700 90.1%,#ffd000 96.4%,#ffcc00)"></div><div style="background:linear-gradient(90deg,#000080,#00008a 9.3%,#0000a8 18.4%,#0000d9 27.4%,#0000ff 33.0%,#0002ff 35.1%,#0055ff 44.9%,#00c7ff 55.9%,#00dffc 58.0%,#04ebf3 59.1%,#16ffe1 60.9%,#b1ff46 77.8%,#edff09 86.1%,#f9f300 88.2%,#ffe700 90.3%,#ffd100 96.6%,#ffcd00)"></div><div style="background:linear-gradient(90deg,#000080,#00008a 9.3%,#0000a8 18.4%,#0000d9 27.4%,#0000ff 33.0%,#0002ff 35.1%,#0054ff 44.9%,#00c6ff 55.9%,#00defd 58.0%,#03eaf3 59.1%,#17ffe0 61.1%,#b0ff47 77.8%,#ecff0b 86.1%,#faf200 88.6%,#ffe700 90.7%,#ffd200 97.0%,#ffcf00)"></div><div style="background:linear-gradient(90deg,#000080,#00008a 9.3%,#0000a8 18.4%,#0000d9 27.4%,#0000ff 33.0%,#0003ff 35.3%,#0056ff 45.1%,#00c8ff 56.1%,#00ddfe 58.0%,#05ebf2 59.3%,#16ffe1 61.1%,#aeff48 77.8%,#eaff0c 86.1%,#f5f802 88.0%,#ffe900 90.7%,#ffd400 97.0%,#ffd100)"></div><div style="background:linear-gradient(90deg,#000080,#00008a 9.3%,#0000a8 18.4%,#0000d9 27.4%,#0000ff 33.0%,#0002ff 35.1%,#0053ff 44.9%,#00c5ff 55.9%,#00dffc 58.2%,#04eaf3 59.3%,#15ffe2 61.1%,#adff4a 77.8%,#e9ff0e 86.1%,#f2fb05 87.8%,#fcf000 89.7%,#ffe200 92.8%,#ffd400 98.9%,#ffd300)"></div><div style="background:linear-gradient(90deg,#000080,#00008a 9.3%,#0000a8 18.4%,#0000d9 27.4%,#0000ff 33.0%,#0003ff 35.3%,#0055ff 45.1%,#00c9ff 56.4%,#00defd 58.2%,#03e9f4 59.3%,#16ffe0 61.4%,#acff4b 77.8%,#e7ff0f 86.1%,#f2fb05 88.0%,#fcf000 90.1%,#ffde00 94.5%,#ffd500)"></div><div style="background:linear-gradient(90deg,#000080,#00008a 9.3%,#0000a8 18.4%,#0000d8 27.4%,#0000ff 33.0%,#0003ff 35.3%,#0056ff 45.3%,#00caff 56.6%,#00dffc 58.4%,#04ebf2 59.5%,#16ffe1 61.4%,#aaff4c 77.8%,#e7ff10 86.4%,#f1fc05 88.2%,#fbf000 90.3%,#ffe400 93.2%,#ffd700 99.3%,#ffd700)"></div><div style="background:linear-gradient(90deg,#000080,#00008a 9.3%,#0000a8 18.4%,#0000d8 27.4%,#0000ff 33.0%,#0002ff 35.3%,#0056ff 45.3%,#00c9ff 56.6%,#00defd 58.4%,#04eaf3 59.5%,#17ffe0 61.6%,#abff4c 78.0%,#e5ff11 86.4%,#f1fc06 88.4%,#faf100 90.5%,#ffe600 93.2%,#ffd900 99.3%,#ffd900)"></div><div style="background:linear-gradient(90deg,#000080,#00008a 9.3%,#0000a8 18.4%,#0000d9 27.6%,#0000ff 33.2%,#0002ff 35.3%,#0055ff 45.3%,#00cbff 56.8%,#00ddfd 58.4%,#05ebf2 59.7%,#16ffe1 61.6%,#a9ff4d 78.0%,#e4ff13 86.4%,#f1fc06 88.9%,#fbf100 90.9%,#ffe600 93.6%,#ffdb00 99.7%,#ffdb00)"></div><div style="background:linear-gradient(90deg,#000080,#00008a 9.3%,#0000a8 18.4%,#0000d9 27.6%,#0000ff 33.2%,#0003ff 35.5%,#0057ff 45.5%,#00ccff 57.0%,#00dffc 58.6%,#04ebf3 59.7%,#15ffe2 61.6%,#a8ff4f 78.0%,#e3ff13 86.6%,#f1fd06 89.1%,#faf100 91.4%,#ffe700 94.1%,#ffdd00)"></div><div style="background:linear-gradient(90deg,#000080,#00008a 9.3%,#0000a8 18.4%,#0000d9 27.6%,#0000ff 33.2%,#0003ff 35.5%,#0056ff 45.5%,#00ccff 57.0%,#00defd 58.6%,#03eaf3 59.7%,#16ffe0 61.8%,#a7ff50 78.0%,#e2ff15 86.6%,#f1fc06 89.5%,#fbf100 92.0%,#ffe500 95.3%,#ffdf00)"></div><div style="background:linear-gradient(90deg,#000080,#00008a 9.3%,#0000a8 18.4%,#0000d9 27.6%,#0000ff 33.2%,#0003ff 35.5%,#0056ff 45.5%,#00cbff 57.0%,#00ddfe 58.6%,#04ebf2 59.9%,#15ffe1 61.8%,#a5ff51 78.0%,#e0ff17 86.6%,#f1fc06 89.9%,#fbf100 92.4%,#ffe600 95.9%,#ffe100)"></div><div style="background:linear-gradient(90deg,#000080,#00008a 9.3%,#0000a7 18.4%,#0000d9 27.6%,#0000ff 33.2%,#0002ff 35.5%,#0055ff 45.5%,#00ccff 57.2%,#00defc 58.9%,#04eaf3 59.9%,#17ffe0 62.0%,#a4ff53 78.0%,#dfff18 86.6%,#f1fc06 90.3%,#faf100 92.8%,#ffe700 96.4%,#ffe300)"></div><div style="background:linear-gradient(90deg,#000080,#00008a 9.5%,#0000a8 18.6%,#0000da 27.8%,#0000ff 33.2%,#0002ff 35.5%,#0055ff 45.5%,#00cbff 57.2%,#00ddfd 58.9%,#05ebf2 60.1%,#16ffe1 62.0%,#a3ff54 78.0%,#ddff1a 86.6%,#f1fc06 90.7%,#fbf100 93.4%,#ffe800 97.4%,#ffe600)"></div><div style="background:linear-gradient(90deg,#000080,#00008a 9.5%,#0000a8 18.6%,#0000da 27.8%,#0000ff 33.4%,#0003ff 35.7%,#0056ff 45.7%,#00cdff 57.4%,#00dffc 59.1%,#04eaf3 60.1%,#17ffe0 62.2%,#a1ff56 78.0%,#dbff1c 86.6%,#f1fc06 91.1%,#fbf100 94.1%,#ffe800 98.6%,#ffe800)"></div><div style="background:linear-gradient(90deg,#000080,#00008a 9.5%,#0000a8 18.6%,#0000d9 27.8%,#0000ff 33.4%,#0003ff 35.7%,#0058ff 45.9%,#00d0ff 57.8%,#00defd 59.1%,#05ecf2 60.3%,#16ffe1 62.2%,#a0ff57 78.0%,#daff1d 86.6%,#f1fc06 91.6%,#faf100 94.7%,#ffea00)"></div><div style="background:linear-gradient(90deg,#000080,#00008a 9.5%,#0000a8 18.6%,#0000d9 27.8%,#0000ff 33.4%,#0003ff 35.7%,#0057ff 45.9%,#00cfff 57.8%,#00dffc 59.3%,#04ebf3 60.3%,#17ffe0 62.4%,#9eff58 78.0%,#d8ff1f 86.6%,#f0fd06 92.0%,#faf200 95.3%,#ffec00)"></div><div style="background:linear-gradient(90deg,#000080,#00008a 9.5%,#0000a8 18.6%,#0000d9 27.8%,#0000ff 33.4%,#0002ff 35.7%,#0057ff 45.9%,#00ceff 57.8%,#00defd 59.3%,#03eaf3 60.3%,#16ffe1 62.4%,#9dff5a 78.0%,#d6ff21 86.6%,#f1fd06 92.6%,#faf200 96.4%,#fdee00)"></div><div style="background:linear-gradient(90deg,#000080,#00008a 9.5%,#0000a8 18.6%,#0000d9 27.8%,#0000ff 33.4%,#0002ff 35.7%,#0056ff 45.9%,#00cdff 57.8%,#00dffc 59.5%,#06edf1 60.7%,#17ffe0 62.6%,#9bff5b 78.0%,#d4ff22 86.6%,#f1fc06 93.2%,#faf200 97.4%,#fbf000)"></div><div style="background:linear-gradient(90deg,#000080,#00008a 9.5%,#0000a9 18.9%,#0000da 28.0%,#0000ff 33.6%,#0003ff 35.9%,#0057ff 46.1%,#00d1ff 58.2%,#00e1fb 59.7%,#07eef0 60.9%,#16ffe1 62.6%,#9aff5d 78.0%,#d3ff24 86.6%,#f1fd06 93.9%,#f9f300 98.6%,#f9f300)"></div><div style="background:linear-gradient(90deg,#000080,#00008a 9.5%,#0000a9 18.9%,#0000da 28.0%,#0000ff 33.6%,#0003ff 35.9%,#0057ff 46.1%,#00d0ff 58.2%,#00e0fc 59.7%,#06edf1 60.9%,#17ffe0 62.8%,#9aff5d 78.2%,#d2ff25 86.8%,#effe07 94.1%,#f7f500)"></div><div style="background:linear-gradient(90deg,#000080,#00008a 9.5%,#0000a8 18.9%,#0000d9 28.0%,#0000ff 33.6%,#0003ff 35.9%,#0056ff 46.1%,#00d1ff 58.4%,#00dffc 59.7%,#03eaf3 60.7%,#16ffe1 62.8%,#98ff5e 78.2%,#d0ff27 86.8%,#edff09 94.1%,#f5f701)"></div><div style="background:linear-gradient(90deg,#000080,#00008a 9.5%,#0000a8 18.9%,#0000d9 28.0%,#0000ff 33.6%,#0002ff 35.9%,#0056ff 46.1%,#00d0ff 58.4%,#00ddfd 59.7%,#04ebf2 60.9%,#17ffe0 63.0%,#97ff60 78.2%,#ceff28 86.8%,#ebff0b 94.1%,#f3f903)"></div><div style="background:linear-gradient(90deg,#000080,#00008a 9.5%,#0000a8 18.9%,#0000d9 28.0%,#0000ff 33.6%,#0002ff 35.9%,#0057ff 46.4%,#00d3ff 58.9%,#00e1fb 60.1%,#07eef0 61.4%,#16ffe1 63.0%,#95ff61 78.2%,#cdff2a 86.8%,#e9ff0d 94.1%,#f1fc05)"></div><div style="background:linear-gradient(90deg,#000080,#00008a 9.5%,#0000a8 18.9%,#0000da 28.2%,#0000ff 33.9%,#0003ff 36.1%,#0058ff 46.6%,#00d5ff 59.1%,#00e0fb 60.1%,#06edf1 61.4%,#16ffe0 63.2%,#94ff63 78.2%,#cbff2c 86.8%,#e7ff0f 94.1%,#effe07)"></div><div style="background:linear-gradient(90deg,#000080,#00008a 9.5%,#0000a8 18.9%,#0000da 28.2%,#0000ff 33.9%,#0003ff 36.1%,#0058ff 46.6%,#00d6ff 59.3%,#00e3f9 60.5%,#15ffe1 63.2%,#92ff65 78.2%,#c9ff2e 86.8%,#e5ff11 94.1%,#edff0a)"></div><div style="background:linear-gradient(90deg,#000080,#00008a 9.5%,#0000a8 18.9%,#0000da 28.2%,#0000ff 33.9%,#0002ff 36.1%,#0057ff 46.6%,#00d5ff 59.3%,#00e0fb 60.3%,#06edf1 61.6%,#16ffe1 63.4%,#91ff66 78.2%,#c7ff30 86.8%,#e3ff13 94.1%,#ebff0c)"></div><div style="background:linear-gradient(90deg,#000080,#00008a 9.5%,#0000a8 18.9%,#0000d9 28.2%,#0000ff 33.9%,#0002ff 36.1%,#0056ff 46.6%,#00d4ff 59.3%,#00e1fb 60.5%,#09f0ee 62.0%,#17ffe0 63.6%,#91ff66 78.4%,#c6ff31 87.0%,#e2ff15 94.3%,#e9ff0e)"></div><div style="background:linear-gradient(90deg,#000080,#00008a 9.5%,#0000a8 18.9%,#0000d9 28.2%,#0000ff 34.1%,#0003ff 36.4%,#0058ff 46.8%,#00d7ff 59.7%,#00e4f8 60.9%,#16ffe1 63.6%,#8fff68 78.4%,#c4ff33 87.0%,#e0ff17 94.3%,#e7ff10)"></div><div style="background:linear-gradient(90deg,#000080,#00008a 9.5%,#0000a8 18.9%,#0000d9 28.2%,#0000ff 34.1%,#0003ff 36.4%,#0059ff 47.0%,#00daff 60.1%,#03e9f4 61.6%,#17ffe0 63.9%,#8dff6a 78.4%,#c2ff35 87.0%,#deff19 94.3%,#e5ff12)"></div><div style="background:linear-gradient(90deg,#000080,#00008a 9.5%,#0000a8 18.9%,#0000d9 28.2%,#0000ff 34.1%,#0002ff 36.4%,#0058ff 47.0%,#00d9ff 60.1%,#02e8f5 61.6%,#16ffe1 63.9%,#8cff6b 78.4%,#c1ff35 87.2%,#dcff1b 94.5%,#e3ff14)"></div><div style="background:linear-gradient(90deg,#000080,#00008a 9.5%,#0000a7 18.9%,#0000d8 28.2%,#0000ff 34.1%,#0002ff 36.4%,#0057ff 47.0%,#00daff 60.3%,#03e9f4 61.8%,#16ffe1 64.1%,#8aff6d 78.4%,#bfff37 87.2%,#daff1d 94.5%,#e0ff16)"></div><div style="background:linear-gradient(90deg,#000080,#00008a 9.7%,#0000a8 19.1%,#0000da 28.4%,#0000ff 34.1%,#0003ff 36.6%,#0059ff 47.2%,#00ddfe 60.7%,#04eaf3 62.0%,#17ffe0 64.3%,#8aff6d 78.6%,#beff38 87.4%,#d8ff1f 94.7%,#deff19)"></div><div style="background:linear-gradient(90deg,#000080,#00008a 9.7%,#0000a8 19.1%,#0000d9 28.4%,#0000ff 34.3%,#0003ff 36.6%,#0058ff 47.2%,#00dcff 60.7%,#04ebf3 62.2%,#16ffe1 64.3%,#88ff6f 78.6%,#bcff3b 87.4%,#d6ff21 94.7%,#dcff1b)"></div><div style="background:linear-gradient(90deg,#000080,#00008a 9.7%,#0000a8 19.1%,#0000d9 28.4%,#0000ff 34.3%,#0002ff 36.6%,#0057ff 47.2%,#00daff 60.7%,#03e9f4 62.2%,#16ffe1 64.5%,#86ff71 78.6%,#baff3d 87.4%,#d4ff23 94.9%,#daff1d)"></div><div style="background:linear-gradient(90deg,#000080,#00008a 9.7%,#0000a9 19.3%,#0000da 28.6%,#0000ff 34.3%,#0002ff 36.6%,#0058ff 47.4%,#00ddfd 61.1%,#04eaf3 62.4%,#17ffe0 64.7%,#86ff71 78.9%,#b9ff3e 87.6%,#d2ff24 95.1%,#d7ff1f)"></div><div style="background:linear-gradient(90deg,#000080,#00008a 9.7%,#0000a9 19.3%,#0000da 28.6%,#0000ff 34.5%,#0003ff 36.8%,#0059ff 47.6%,#00defd 61.4%,#04ebf2 62.6%,#16ffe1 64.7%,#84ff73 78.9%,#b7ff40 87.6%,#d0ff27 95.1%,#d5ff22)"></div><div style="background:linear-gradient(90deg,#000080,#00008a 9.7%,#0000a8 19.3%,#0000db 28.9%,#0000ff 34.5%,#0003ff 36.8%,#0059ff 47.6%,#00ddfe 61.4%,#03e9f4 62.6%,#16ffe1 64.9%,#82ff75 78.9%,#b5ff42 87.6%,#ceff29 95.1%,#d3ff24)"></div><div style="background:linear-gradient(90deg,#000080,#00008a 9.7%,#0000a8 19.3%,#0000da 28.9%,#0000ff 34.5%,#0002ff 36.8%,#0058ff 47.6%,#00ddfd 61.6%,#04eaf3 62.8%,#16ffe0 65.1%,#80ff77 78.9%,#b3ff44 87.6%,#cbff2b 95.1%,#d1ff26)"></div><div style="background:linear-gradient(90deg,#000080,#00008a 9.7%,#0000a8 19.3%,#0000da 28.9%,#0000ff 34.5%,#0003ff 37.0%,#0059ff 47.8%,#00defd 61.8%,#04ebf3 63.0%,#17ffe0 65.3%,#80ff77 79.1%,#b1ff45 87.8%,#caff2d 95.3%,#ceff29)"></div><div style="background:linear-gradient(90deg,#000080,#00008a 9.7%,#0000a8 19.3%,#0000da 28.9%,#0000ff 34.7%,#0003ff 37.0%,#005aff 48.0%,#00ddfe 61.8%,#03e9f4 63.0%,#16ffe1 65.3%,#7eff79 79.1%,#afff47 87.8%,#c7ff30 95.3%,#ccff2b)"></div><div style="background:linear-gradient(90deg,#000080,#00008a 9.7%,#0000a8 19.3%,#0000da 28.9%,#0000ff 34.7%,#0002ff 37.0%,#0059ff 48.0%,#00ddfd 62.0%,#04eaf3 63.2%,#16ffe1 65.5%,#7cff7b 79.1%,#adff4a 87.8%,#c5ff32 95.3%,#c9ff2d)"></div><div style="background:linear-gradient(90deg,#000080,#00008a 9.7%,#0000a8 19.3%,#0000d9 28.9%,#0000ff 34.7%,#0003ff 37.2%,#005aff 48.2%,#00defd 62.2%,#04eaf3 63.4%,#16ffe0 65.7%,#7bff7b 79.3%,#acff4b 88.0%,#c3ff34 95.5%,#c7ff30)"></div><div style="background:linear-gradient(90deg,#000080,#00008a 9.7%,#0000a8 19.3%,#0000d9 28.9%,#0000ff 34.7%,#0003ff 37.2%,#0059ff 48.2%,#00ddfe 62.2%,#04ebf2 63.6%,#17ffe0 65.9%,#79ff7d 79.3%,#a9ff4d 88.0%,#c0ff36 95.5%,#c4ff32)"></div><div style="background:linear-gradient(90deg,#000080,#00008a 9.7%,#0000a8 19.3%,#0000d9 28.9%,#0000ff 34.9%,#0002ff 37.2%,#005aff 48.4%,#00ddfe 62.4%,#03e9f4 63.6%,#17ffe0 66.1%,#79ff7e 79.5%,#a8ff4f 88.2%,#beff39 95.7%,#c2ff35)"></div><div style="background:linear-gradient(90deg,#000080,#00008a 9.7%,#0000a7 19.3%,#0000d8 28.9%,#0000ff 34.9%,#0003ff 37.4%,#005bff 48.6%,#00defd 62.6%,#03eaf3 63.9%,#15ffe1 66.1%,#77ff80 79.5%,#a6ff51 88.2%,#bcff3b 95.7%,#bfff37)"></div><div style="background:linear-gradient(90deg,#000080,#00008a 9.9%,#0000a8 19.5%,#0000d9 29.1%,#0000ff 34.9%,#0003ff 37.4%,#005aff 48.6%,#00defd 62.8%,#04eaf3 64.1%,#16ffe1 66.4%,#75ff82 79.5%,#a3ff53 88.2%,#baff3d 95.9%,#bdff3a)"></div><div style="background:linear-gradient(90deg,#000080,#00008a 9.9%,#0000a8 19.5%,#0000da 29.3%,#0000ff 35.1%,#0002ff 37.4%,#0059ff 48.6%,#00defc 63.0%,#06ecf1 64.5%,#16ffe1 66.6%,#74ff83 79.7%,#a2ff55 88.4%,#b7ff3f 96.1%,#baff3c)"></div><div style="background:linear-gradient(90deg,#000080,#00008a 9.9%,#0000a9 19.7%,#0000db 29.5%,#0000ff 35.1%,#0003ff 37.6%,#005cff 49.1%,#00ddfe 63.0%,#04ebf3 64.5%,#16ffe1 66.8%,#72ff85 79.7%,#9fff57 88.4%,#b5ff42 96.1%,#b8ff3f)"></div><div style="background:linear-gradient(90deg,#000080,#00008a 9.9%,#0000a9 19.7%,#0000db 29.5%,#0000ff 35.1%,#0003ff 37.6%,#005bff 49.1%,#00ddfe 63.2%,#03e9f4 64.5%,#16ffe1 67.0%,#71ff86 79.9%,#9eff59 88.6%,#b3ff44 96.4%,#b5ff42)"></div><div style="background:linear-gradient(90deg,#000080,#00008a 9.9%,#0000a8 19.7%,#0000da 29.5%,#0000ff 35.3%,#0002ff 37.6%,#005aff 49.1%,#00ddfd 63.4%,#03e9f4 64.7%,#16ffe1 67.2%,#70ff87 80.1%,#9cff5b 88.9%,#b0ff47 96.6%,#b3ff44)"></div><div style="background:linear-gradient(90deg,#000080,#00008a 9.9%,#0000a8 19.7%,#0000da 29.5%,#0000ff 35.3%,#0003ff 37.8%,#005bff 49.3%,#00defd 63.6%,#03e9f4 64.9%,#16ffe1 67.4%,#6eff89 80.1%,#9aff5d 88.9%,#aeff49 96.6%,#b0ff47)"></div><div style="background:linear-gradient(90deg,#000080,#00008a 9.9%,#0000a8 19.7%,#0000da 29.5%,#0000ff 35.3%,#0002ff 37.8%,#005cff 49.5%,#00defd 63.9%,#03eaf3 65.1%,#16ffe1 67.6%,#6dff8a 80.3%,#98ff5f 89.1%,#abff4c 96.8%,#adff4a)"></div><div style="background:linear-gradient(90deg,#000080,#00008a 9.9%,#0000a8 19.7%,#0000d9 29.5%,#0000ff 35.5%,#0003ff 38.0%,#005cff 49.7%,#00defd 64.1%,#03eaf3 65.3%,#16ffe1 67.8%,#6bff8c 80.3%,#95ff61 89.1%,#a8ff4e 96.8%,#aaff4c)"></div><div style="background:linear-gradient(90deg,#000080,#00008a 9.9%,#0000a8 19.7%,#0000d9 29.5%,#0000ff 35.5%,#0003ff 38.0%,#005bff 49.7%,#00defd 64.3%,#03eaf3 65.5%,#16ffe1 68.0%,#6aff8d 80.5%,#94ff63 89.3%,#a6ff51 97.0%,#a8ff4f)"></div><div style="background:linear-gradient(90deg,#000080,#00008a 9.9%,#0000a8 19.7%,#0000d9 29.5%,#0000ff 35.7%,#0002ff 38.0%,#005cff 49.9%,#00defd 64.5%,#03eaf3 65.7%,#16ffe1 68.2%,#69ff8e 80.7%,#92ff65 89.5%,#a3ff53 97.2%,#a5ff52)"></div><div style="background:linear-gradient(90deg,#000080,#00008a 9.9%,#0000a7 19.7%,#0000da 29.7%,#0000ff 35.7%,#0003ff 38.2%,#005dff 50.1%,#00defd 64.7%,#03eaf3 65.9%,#15ffe1 68.4%,#66ff90 80.7%,#8fff68 89.5%,#a1ff56 97.2%,#a2ff55)"></div><div style="background:linear-gradient(90deg,#000080,#00008a 10.1%,#0000a8 19.9%,#0000da 29.9%,#0000ff 35.7%,#0002ff 38.2%,#005cff 50.1%,#00defd 64.9%,#03e9f4 66.1%,#17ffe0 68.9%,#66ff90 81.1%,#8eff69 89.9%,#9eff59 97.6%,#9fff58)"></div><div style="background:linear-gradient(90deg,#000080,#00008a 10.1%,#0000a9 20.1%,#0000db 30.1%,#0000ff 35.9%,#0003ff 38.4%,#005eff 50.5%,#00defd 65.1%,#03e9f4 66.4%,#16ffe0 69.1%,#64ff93 81.1%,#8bff6c 89.9%,#9bff5b 97.8%,#9cff5a)"></div><div style="background:linear-gradient(90deg,#000080,#00008a 10.1%,#0000a9 20.1%,#0000db 30.1%,#0000ff 35.9%,#0002ff 38.4%,#005dff 50.5%,#00defd 65.3%,#03e9f4 66.6%,#16ffe1 69.3%,#63ff94 81.4%,#89ff6e 90.1%,#99ff5e 98.0%,#99ff5d)"></div><div style="background:linear-gradient(90deg,#000080,#00008a 10.1%,#0000a8 20.1%,#0000da 30.1%,#0000ff 36.1%,#0003ff 38.6%,#005fff 50.9%,#00defd 65.5%,#04ebf3 67.0%,#16ffe1 69.5%,#61ff95 81.6%,#87ff70 90.3%,#96ff61 98.2%,#97ff60)"></div><div style="background:linear-gradient(90deg,#000080,#00008a 10.1%,#0000a8 20.1%,#0000da 30.1%,#0000ff 36.1%,#0003ff 38.6%,#005eff 50.9%,#00defd 65.7%,#04eaf3 67.2%,#17ffe0 69.9%,#60ff97 81.8%,#85ff72 90.5%,#93ff64 98.4%,#94ff63)"></div><div style="background:linear-gradient(90deg,#000080,#00008a 10.1%,#0000a8 20.1%,#0000db 30.3%,#0000ff 36.1%,#0002ff 38.6%,#005dff 50.9%,#00ddfd 65.9%,#05ecf2 67.6%,#16ffe1 70.1%,#5fff98 82.0%,#82ff74 90.7%,#90ff67 98.6%,#91ff66)"></div><div style="background:linear-gradient(90deg,#000080,#00008a 10.1%,#0000a8 20.1%,#0000da 30.3%,#0000ff 36.4%,#0003ff 38.9%,#005fff 51.4%,#00ddfe 66.1%,#03e9f4 67.6%,#16ffe1 70.3%,#5cff9b 82.0%,#80ff77 90.7%,#8dff6a 98.6%,#8eff69)"></div><div style="background:linear-gradient(90deg,#000080,#00008a 10.1%,#0000a8 20.1%,#0000da 30.3%,#0000ff 36.6%,#0003ff 39.1%,#005fff 51.6%,#00defd 66.6%,#04ebf3 68.0%,#16ffe0 70.7%,#5bff9b 82.4%,#7eff79 91.1%,#8aff6c 99.1%,#8bff6c)"></div><div style="background:linear-gradient(90deg,#000080,#00008a 10.1%,#0000a7 20.1%,#0000d9 30.3%,#0000ff 36.6%,#0003ff 39.1%,#0060ff 51.8%,#00defd 66.8%,#04eaf3 68.2%,#16ffe1 70.9%,#5aff9d 82.6%,#7bff7b 91.4%,#87ff6f 99.3%,#87ff6f)"></div><div style="background:linear-gradient(90deg,#000080,#00008a 10.3%,#0000a9 20.5%,#0000db 30.7%,#0000ff 36.8%,#0003ff 39.3%,#0060ff 52.0%,#00ddfd 67.0%,#05ebf2 68.6%,#16ffe0 71.4%,#58ff9f 82.8%,#79ff7e 91.6%,#84ff72 99.7%,#84ff72)"></div><div style="background:linear-gradient(90deg,#000080,#00008a 10.3%,#0000a9 20.5%,#0000db 30.7%,#0000ff 36.8%,#0002ff 39.3%,#0060ff 52.2%,#00defc 67.4%,#04eaf3 68.9%,#16ffe1 71.6%,#56ffa0 83.0%,#76ff80 91.8%,#81ff76)"></div><div style="background:linear-gradient(90deg,#000080,#00008a 10.3%,#0000a8 20.5%,#0000dc 30.9%,#0000ff 37.0%,#0003ff 39.5%,#0062ff 52.6%,#00defd 67.6%,#05ebf2 69.3%,#16ffe1 72.0%,#55ffa2 83.2%,#74ff82 92.2%,#7eff79)"></div><div style="background:linear-gradient(90deg,#000080,#00008a 10.3%,#0000a8 20.5%,#0000db 30.9%,#0000ff 37.0%,#0002ff 39.5%,#0061ff 52.6%,#00ddfe 67.8%,#04eaf3 69.5%,#16ffe0 72.4%,#54ffa3 83.6%,#72ff85 92.4%,#7bff7c)"></div><div style="background:linear-gradient(90deg,#000080,#00008a 10.3%,#0000a8 20.5%,#0000da 30.9%,#0000ff 37.2%,#0003ff 39.7%,#0063ff 53.0%,#00defd 68.2%,#05ebf2 69.9%,#17ffe0 72.8%,#52ffa5 83.9%,#6fff88 92.6%,#78ff7f)"></div><div style="background:linear-gradient(90deg,#000080,#00008a 10.3%,#0000a8 20.5%,#0000da 30.9%,#0000ff 37.2%,#0002ff 39.7%,#0061ff 53.0%,#00ddfe 68.4%,#04eaf3 70.1%,#16ffe1 73.0%,#50ffa7 84.1%,#6dff8a 93.0%,#74ff82)"></div><div style="background:linear-gradient(90deg,#000080,#00008a 10.3%,#0000a8 20.5%,#0000d9 30.9%,#0000ff 37.4%,#0003ff 39.9%,#0063ff 53.4%,#00defd 68.9%,#04ebf3 70.5%,#16ffe1 73.4%,#4fffa8 84.5%,#6aff8c 93.4%,#71ff86)"></div><div style="background:linear-gradient(90deg,#000080,#00008a 10.3%,#0000a8 20.7%,#0000da 31.1%,#0000ff 37.4%,#0003ff 40.1%,#0064ff 53.9%,#00defd 69.3%,#04ebf2 70.9%,#16ffe1 73.9%,#4dffa9 84.9%,#68ff8f 93.9%,#6eff89)"></div><div style="background:linear-gradient(90deg,#000080,#00008a 10.5%,#0000a9 20.9%,#0000dc 31.6%,#0000ff 37.6%,#0002ff 40.1%,#0063ff 53.9%,#00ddfd 69.5%,#03eaf3 71.1%,#16ffe1 74.3%,#4bffac 85.1%,#65ff92 94.1%,#6aff8d)"></div><div style="background:linear-gradient(90deg,#000080,#00008a 10.5%,#0000a8 20.9%,#0000db 31.6%,#0000ff 37.6%,#0003ff 40.3%,#0064ff 54.3%,#00defd 69.9%,#04eaf3 71.6%,#16ffe1 74.7%,#4affad 85.5%,#62ff95 94.5%,#67ff90)"></div><div style="background:linear-gradient(90deg,#000080,#00008a 10.5%,#0000a8 20.9%,#0000db 31.6%,#0000ff 37.8%,#0003ff 40.5%,#0066ff 54.7%,#00defd 70.3%,#04eaf3 72.0%,#17ffe0 75.3%,#48ffaf 85.9%,#5fff97 94.9%,#63ff93)"></div><div style="background:linear-gradient(90deg,#000080,#00008a 10.5%,#0000a8 20.9%,#0000da 31.6%,#0000ff 38.0%,#0002ff 40.5%,#0066ff 54.9%,#00defd 70.7%,#04eaf3 72.4%,#16ffe1 75.7%,#46ffb0 86.4%,#5dff9a 95.3%,#60ff97)"></div><div style="background:linear-gradient(90deg,#000080,#00008a 10.5%,#0000a8 21.1%,#0000dc 32.0%,#0000ff 38.0%,#0002ff 40.7%,#0067ff 55.3%,#00defd 71.1%,#04eaf3 72.8%,#17ffe0 76.4%,#45ffb2 86.8%,#5aff9d 95.7%,#5cff9a)"></div><div style="background:linear-gradient(90deg,#000080,#00008a 10.5%,#0000a8 21.1%,#0000db 32.0%,#0000ff 38.2%,#0003ff 40.9%,#0068ff 55.7%,#00defd 71.6%,#04ebf2 73.4%,#16ffe1 76.8%,#43ffb4 87.2%,#57ffa0 96.1%,#59ff9e)"></div><div style="background:linear-gradient(90deg,#000080,#00008a 10.7%,#0000a9 21.4%,#0000dc 32.2%,#0000ff 38.4%,#0003ff 41.1%,#006bff 56.4%,#00defd 72.0%,#04ebf3 73.9%,#17ffe0 77.4%,#41ffb5 87.8%,#54ffa3 96.8%,#55ffa2)"></div><div style="background:linear-gradient(90deg,#000080,#00008a 10.7%,#0000a8 21.4%,#0000db 32.2%,#0000ff 38.6%,#0002ff 41.1%,#0069ff 56.4%,#00ddfd 72.4%,#04eaf3 74.3%,#17ffe0 78.0%,#3fffb8 88.2%,#50ffa6 97.2%,#51ffa5)"></div><div style="background:linear-gradient(90deg,#000080,#00008a 10.7%,#0000a8 21.4%,#0000db 32.4%,#0000ff 38.6%,#0002ff 41.4%,#006cff 57.0%,#00defc 73.0%,#04ebf3 74.9%,#17ffe0 78.6%,#3effb9 88.9%,#4dffaa 97.8%,#4effa9)"></div><div style="background:linear-gradient(90deg,#000080,#00008a 10.7%,#0000a9 21.6%,#0000dc 32.6%,#0000ff 38.9%,#0003ff 41.6%,#006dff 57.4%,#00defd 73.4%,#05ebf2 75.5%,#17ffe0 79.3%,#3cffbb 89.5%,#4affad 98.4%,#4affad)"></div><div style="background:linear-gradient(90deg,#000080,#00008a 10.7%,#0000a8 21.6%,#0000db 32.6%,#0000ff 39.1%,#0003ff 41.8%,#006fff 58.0%,#00defc 74.1%,#05ebf2 76.1%,#16ffe1 79.9%,#3affbd 90.1%,#46ffb1 99.1%,#46ffb0)"></div><div style="background:linear-gradient(90deg,#000080,#00008a 10.9%,#0000a9 21.8%,#0000dc 32.8%,#0000ff 39.3%,#0003ff 42.0%,#0071ff 58.6%,#00defd 74.5%,#04eaf3 76.6%,#17ffe0 80.7%,#38ffbf 90.7%,#43ffb4 99.7%,#43ffb4)"></div><div style="background:linear-gradient(90deg,#000080,#00008a 10.9%,#0000a8 21.8%,#0000dc 33.0%,#0000ff 39.3%,#0003ff 42.2%,#0073ff 59.3%,#00defd 75.1%,#04eaf3 77.2%,#16ffe1 81.4%,#35ffc2 91.4%,#3fffb8)"></div><div style="background:linear-gradient(90deg,#000080,#00008a 10.9%,#0000a8 21.8%,#0000db 33.0%,#0000ff 39.5%,#0003ff 42.4%,#0077ff 60.1%,#00defd 75.7%,#04ebf2 78.0%,#16ffe1 82.2%,#33ffc4 92.2%,#3bffbc)"></div><div style="background:linear-gradient(90deg,#000080,#00008a 10.9%,#0000a9 22.0%,#0000dc 33.2%,#0000ff 39.7%,#0003ff 42.6%,#007aff 60.9%,#00defd 76.4%,#05ecf2 78.9%,#16ffe0 83.2%,#31ffc6 93.0%,#37ffc0)"></div><div style="background:linear-gradient(90deg,#000080,#00008a 10.9%,#0000a8 22.0%,#0000dc 33.4%,#0000ff 39.9%,#0003ff 42.8%,#007dff 61.8%,#00ddfd 77.0%,#03eaf3 79.3%,#17ffe0 84.3%,#2fffc8 94.1%,#33ffc4)"></div><div style="background:linear-gradient(90deg,#000080,#00008a 11.1%,#0000a9 22.2%,#0000dc 33.6%,#0000ff 40.1%,#0003ff 43.0%,#0083ff 63.0%,#00defd 77.8%,#04ebf2 80.3%,#16ffe0 85.3%,#2cffcb 95.1%,#2fffc8)"></div><div style="background:linear-gradient(90deg,#000080,#00008a 11.1%,#0000a8 22.2%,#0000db 33.6%,#0000ff 40.3%,#0003ff 43.2%,#008bff 64.7%,#00defd 78.6%,#04ebf3 81.1%,#16ffe0 86.6%,#29ffce 96.4%,#2bffcc)"></div><div style="background:linear-gradient(90deg,#000080,#00008a 11.1%,#0000a9 22.4%,#0000dd 34.1%,#0000ff 40.5%,#0003ff 43.4%,#00ceff 76.4%,#00dffc 79.7%,#05ecf2 82.4%,#16ffe1 87.8%,#26ffd1 97.4%,#27ffd0)"></div><div style="background:linear-gradient(90deg,#000080,#00008a 11.1%,#0000a8 22.4%,#0000dc 34.1%,#0000ff 40.7%,#0003ff 43.6%,#00caff 76.4%,#00dffc 80.5%,#05ecf2 83.4%,#16ffe1 89.5%,#22ffd4 99.1%,#23ffd4)"></div><div style="background:linear-gradient(90deg,#000080,#00008a 11.4%,#0000a9 22.6%,#0000dd 34.5%,#0000ff 40.9%,#0002ff 43.9%,#00c5ff 76.1%,#00defc 81.4%,#05ecf2 84.5%,#16ffe1 91.4%,#1effd8)"></div><div style="background:linear-gradient(90deg,#000080,#00008a 11.4%,#0000a9 22.8%,#0000dd 34.7%,#0000ff 41.1%,#0002ff 44.1%,#00c1ff 76.1%,#00defc 82.4%,#05ebf2 85.7%,#15ffe1 93.4%,#1affdd)"></div><div style="background:linear-gradient(90deg,#000080,#00008a 11.4%,#0000a8 22.8%,#0000dd 34.9%,#0000ff 41.4%,#0003ff 44.5%,#00bcff 75.9%,#00dffc 83.6%,#05ecf2 87.4%,#14ffe2 96.4%,#16ffe1)"></div><div style="background:linear-gradient(90deg,#000080,#00008a 11.4%,#0000a8 22.8%,#0000dc 34.9%,#0000ff 41.8%,#0003ff 44.7%,#00b7ff 75.9%,#00dffc 84.9%,#06ecf1 89.3%,#11fbe6 98.2%,#12fbe5)"></div><div style="background:linear-gradient(90deg,#000080,#00008a 11.6%,#0000a9 23.2%,#0000de 35.5%,#0000ff 42.0%,#0002ff 44.9%,#00b3ff 75.9%,#00dffc 86.4%,#06edf1 91.6%,#0df6ea)"></div><div style="background:linear-gradient(90deg,#000080,#00008a 11.6%,#0000a9 23.2%,#0000dd 35.5%,#0000ff 42.2%,#0003ff 45.3%,#00aeff 75.7%,#00daff 86.6%,#04ebf3 93.2%,#09f0ee)"></div><div style="background:linear-gradient(90deg,#000080,#00008a 11.6%,#0000a8 23.2%,#0000dd 35.7%,#0000ff 42.6%,#0002ff 45.5%,#00aaff 75.7%,#00d6ff 86.8%,#03e9f4 96.1%,#04ebf2)"></div><div style="background:linear-gradient(90deg,#000080,#00008a 11.8%,#0000a9 23.6%,#0000de 36.1%,#0000ff 42.8%,#0003ff 45.9%,#00a5ff 75.7%,#00d1ff 86.8%,#00e1fb 93.9%,#00e5f7)"></div><div style="background:linear-gradient(90deg,#000080,#00008a 11.8%,#0000a8 23.6%,#0000de 36.4%,#0000ff 43.0%,#0002ff 46.1%,#00a0ff 75.5%,#00cbff 86.8%,#00defd 96.4%,#00e0fc)"></div><div style="background:linear-gradient(90deg,#000080,#00008a 11.8%,#0000a9 23.9%,#0000dd 36.6%,#0000ff 43.4%,#0002ff 46.6%,#009bff 75.5%,#00c6ff 86.8%,#00d8ff 96.4%,#00daff)"></div><div style="background:linear-gradient(90deg,#000080,#00008a 12.0%,#0000a9 24.1%,#0000de 37.0%,#0000ff 43.6%,#0003ff 47.0%,#0097ff 75.5%,#00c1ff 87.0%,#00d3ff 96.8%,#00d4ff)"></div><div style="background:linear-gradient(90deg,#000080,#00008a 12.0%,#0000a8 24.1%,#0000de 37.2%,#0000ff 44.1%,#0003ff 47.4%,#0091ff 75.3%,#00bbff 86.8%,#00cdff 96.6%,#00ceff)"></div><div style="background:linear-gradient(90deg,#000080,#00008a 12.2%,#0000a9 24.5%,#0000df 37.6%,#0000ff 44.5%,#0003ff 47.8%,#008dff 75.3%,#00b6ff 87.0%,#00c7ff 97.0%,#00c8ff)"></div><div style="background:linear-gradient(90deg,#000080,#00008a 12.2%,#0000a8 24.5%,#0000de 37.8%,#0000ff 44.9%,#0003ff 48.2%,#0088ff 75.3%,#00b1ff 87.0%,#00c1ff 97.0%,#00c2ff)"></div><div style="background:linear-gradient(90deg,#000080,#00008a 12.2%,#0000a9 24.7%,#0000df 38.2%,#0000ff 45.3%,#0003ff 48.6%,#0083ff 75.3%,#00acff 87.2%,#00bcff 97.4%,#00bcff)"></div><div style="background:linear-gradient(90deg,#000080,#00008a 12.4%,#0000a9 24.9%,#0000df 38.6%,#0000ff 45.7%,#0003ff 49.1%,#007fff 75.3%,#00a6ff 87.2%,#00b6ff 97.4%,#00b6ff)"></div><div style="background:linear-gradient(90deg,#000080,#00008a 12.4%,#0000a9 25.1%,#0000df 39.1%,#0000ff 46.1%,#0002ff 49.5%,#007aff 75.3%,#00a1ff 87.4%,#00b0ff 97.8%,#00b0ff)"></div><div style="background:linear-gradient(90deg,#000080,#00008a 12.6%,#0000a9 25.5%,#0000e0 39.7%,#0000ff 46.6%,#0003ff 50.1%,#0075ff 75.3%,#009bff 87.4%,#00a9ff 97.8%,#00aaff)"></div><div style="background:linear-gradient(90deg,#000080,#00008a 12.6%,#0000a9 25.5%,#0000e0 39.9%,#0000ff 47.0%,#0002ff 50.5%,#0071ff 75.5%,#0096ff 87.8%,#00a3ff 98.4%,#00a4ff)"></div><div style="background:linear-gradient(90deg,#000080,#00008a 12.8%,#0000a9 25.9%,#0000e1 40.5%,#0000ff 47.6%,#0003ff 51.1%,#006cff 75.5%,#0090ff 87.8%,#009dff 98.6%,#009dff)"></div><div style="background:linear-gradient(90deg,#000080,#00008a 12.8%,#0000a9 26.1%,#0000e1 40.9%,#0000ff 48.0%,#0003ff 51.8%,#0067ff 75.7%,#008bff 88.2%,#0097ff 99.1%,#0097ff)"></div><div style="background:linear-gradient(90deg,#000080,#00008a 13.0%,#0000a9 26.4%,#0000e1 41.4%,#0000ff 48.6%,#0003ff 52.4%,#0062ff 75.7%,#0085ff 88.4%,#0090ff 99.5%,#0090ff)"></div><div style="background:linear-gradient(90deg,#000080,#00008a 13.2%,#0000a9 26.8%,#0000e2 42.2%,#0000ff 49.3%,#0003ff 53.0%,#005eff 75.9%,#007fff 88.6%,#008aff)"></div><div style="background:linear-gradient(90deg,#000080,#00008a 13.2%,#0000a9 27.0%,#0000e3 42.8%,#0000ff 49.9%,#0003ff 53.9%,#0059ff 76.1%,#007aff 89.1%,#0083ff)"></div><div style="background:linear-gradient(90deg,#000080,#00008a 13.4%,#0000a9 27.4%,#0000e3 43.4%,#0000ff 50.5%,#0002ff 54.5%,#0055ff 76.6%,#0074ff 89.5%,#007cff)"></div><div style="background:linear-gradient(90deg,#000080,#00008a 13.6%,#0000aa 27.8%,#0000e4 44.3%,#0000ff 51.4%,#0002ff 55.3%,#0050ff 76.8%,#006eff 89.9%,#0076ff)"></div><div style="background:linear-gradient(90deg,#000080,#00008a 13.6%,#0000a9 28.0%,#0000e4 44.9%,#0000ff 52.0%,#0002ff 56.1%,#004bff 77.2%,#0068ff 90.3%,#006fff)"></div><div style="background:linear-gradient(90deg,#000080,#00008a 13.9%,#0000a9 28.4%,#0000e5 45.9%,#0000ff 52.8%,#0003ff 57.2%,#0047ff 77.8%,#0062ff 91.1%,#0068ff)"></div><div style="background:linear-gradient(90deg,#000080,#00008a 14.1%,#0000a9 28.9%,#0000e7 47.0%,#0000ff 53.9%,#0003ff 58.2%,#0043ff 78.4%,#005cff 91.8%,#0061ff)"></div><div style="background:linear-gradient(90deg,#000080,#00008a 14.3%,#0000a9 29.3%,#0000e8 48.0%,#0000ff 54.7%,#0002ff 59.3%,#003fff 79.1%,#0056ff 92.6%,#005aff)"></div><div style="background:linear-gradient(90deg,#000080,#00008a 14.5%,#0000aa 29.9%,#0000ea 49.5%,#0000ff 55.7%,#0003ff 60.5%,#003aff 79.7%,#0050ff 93.2%,#0053ff)"></div><div style="background:linear-gradient(90deg,#000080,#00008a 14.7%,#0000aa 30.3%,#0000eb 50.7%,#0000ff 57.0%,#0003ff 62.0%,#0036ff 80.7%,#004aff 94.5%,#004cff)"></div><div style="background:linear-gradient(90deg,#000080,#00008a 14.9%,#0000aa 30.9%,#0000ee 52.6%,#0000ff 58.2%,#0003ff 63.4%,#0032ff 81.8%,#0043ff 95.7%,#0044ff)"></div><div style="background:linear-gradient(90deg,#000080,#00008a 15.1%,#0000aa 31.4%,#0000f0 54.3%,#0000ff 59.5%,#0003ff 65.1%,#002dff 83.0%,#003cff 97.0%,#003dff)"></div><div style="background:linear-gradient(90deg,#000080,#00008a 15.5%,#0000aa 32.2%,#0000f7 57.8%,#0000ff 61.4%,#0003ff 67.0%,#0029ff 84.7%,#0035ff 98.9%,#0035ff)"></div><div style="background:linear-gradient(90deg,#000080,#00008a 15.7%,#0000aa 32.8%,#0000ff 62.6%,#0003ff 69.1%,#0025ff 86.4%,#002eff)"></div><div style="background:linear-gradient(90deg,#000080,#00008a 16.1%,#0000ab 33.6%,#0000ff 64.5%,#0003ff 71.4%,#0020ff 88.4%,#0026ff)"></div><div style="background:linear-gradient(90deg,#000080,#00008a 16.4%,#0000ab 34.5%,#0000ff 66.8%,#0003ff 74.3%,#001bff 90.9%,#001fff)"></div><div style="background:linear-gradient(90deg,#000080,#00008a 16.8%,#0000ab 35.5%,#0000ff 69.1%,#0003ff 77.8%,#0015ff 94.3%,#0017ff)"></div><div style="background:linear-gradient(90deg,#000080,#00008a 17.2%,#0000ab 36.6%,#0000ff 72.0%,#0003ff 82.6%,#000fff 98.9%,#000fff)"></div><div style="background:linear-gradient(90deg,#000080,#00008a 17.6%,#0000ac 37.8%,#0000ff 75.1%,#0003ff 89.9%,#0007ff)"></div><div style="background:linear-gradient(90deg,#000080,#00008a 18.2%,#0000ac 39.3%,#0000fb 77.0%,#0000ff 84.5%,#0000ff)"></div><div style="background:linear-gradient(90deg,#000080,#00008a 18.9%,#0000ad 41.1%,#0000f4 77.4%,#0000ff 88.4%,#0000ff)"></div><div style="background:linear-gradient(90deg,#000080,#00008a 19.5%,#0000ae 43.0%,#0000ed 77.8%,#0000fd 95.9%,#0000fd)"></div><div style="background:linear-gradient(90deg,#000080,#00008a 20.1%,#0000af 45.3%,#0000e6 78.6%,#0000f4 97.4%,#0000f4)"></div><div style="background:linear-gradient(90deg,#000080,#00008a 20.9%,#0000b0 48.4%,#0000df 79.9%,#0000ea 99.3%,#0000ea)"></div><div style="background:linear-gradient(90deg,#000080,#00008a 22.0%,#0000b3 53.2%,#0000d9 82.2%,#0000e1)"></div><div style="background:linear-gradient(90deg,#000080,#00008a 23.2%,#0000d0 82.2%,#0000d7)"></div><div style="background:linear-gradient(90deg,#000080,#00008a 24.5%,#0000c7 82.6%,#0000cd)"></div><div style="background:linear-gradient(90deg,#000080,#00008a 26.4%,#0000bf 83.2%,#0000c4)"></div><div style="background:linear-gradient(90deg,#000080,#00008a 28.6%,#0000b6 84.3%,#0000ba)"></div><div style="background:linear-gradient(90deg,#000080,#00008a 31.8%,#0000ad 85.9%,#0000b0)"></div><div style="background:linear-gradient(90deg,#000080,#00008b 36.6%,#0000a4 89.1%,#0000a6)"></div><div style="background:linear-gradient(90deg,#000080,#00008b 44.7%,#00009b 95.3%,#00009b)"></div><div style="background:linear-gradient(90deg,#000080,#000091)"></div><div style="background:linear-gradient(90deg,#000080,#000087)"></div><div style="background:linear-gradient(90deg,#000080,#000081)"></div></div>
<div class="cb" style="left:659px;top:34px;width:10px;height:211px"></div>
<div class="hm" style="left:46px;top:316px;width:241px;height:211px"><div style="background:linear-gradient(90deg,#0000b6,#0000a9 2.2%,#000089 4.3%,#000080 4.9%,#000080 50.5%,#0000ff 58.2%,#0003ff 59.4%,#00c5ff 73.3%,#00ddfe 75.2%,#04eaf3 76.2%,#16ffe1 78.1%,#56ffa1 85.8%,#7bff7c 92.4%,#8aff6d 98.4%,#8bff6c)"></div><div style="background:linear-gradient(90deg,#0000b7,#0000a9 2.2%,#000089 4.3%,#000080 4.9%,#000081 50.7%,#0000ff 58.4%,#0001ff 59.4%,#00c3ff 73.3%,#00ddfd 75.4%,#04eaf3 76.5%,#16ffe1 78.3%,#55ffa1 86.0%,#7aff7d 92.6%,#88ff6f 98.7%,#89ff6e)"></div><div style="background:linear-gradient(90deg,#0000b7,#0000aa 2.2%,#00008a 4.3%,#000080 4.9%,#000080 50.7%,#0000ff 58.4%,#0002ff 59.6%,#00c1ff 73.3%,#00defd 75.6%,#04ebf3 76.7%,#16ffe1 78.5%,#55ffa2 86.2%,#78ff7e 92.8%,#86ff71 98.9%,#87ff70)"></div><div style="background:linear-gradient(90deg,#0000b8,#0000aa 2.2%,#00008b 4.3%,#000080 4.9%,#000081 50.9%,#0000ff 58.6%,#0003ff 59.9%,#00bfff 73.3%,#00defd 75.8%,#04ebf2 76.9%,#16ffe1 78.7%,#54ffa3 86.4%,#77ff80 93.0%,#84ff73 99.1%,#85ff72)"></div><div style="background:linear-gradient(90deg,#0000b8,#0000ab 2.2%,#00008c 4.3%,#000080 4.9%,#000080 50.9%,#0000ff 58.8%,#0002ff 59.9%,#00bcff 73.3%,#00defc 76.0%,#05ebf2 77.1%,#16ffe1 78.9%,#54ffa3 86.6%,#75ff82 93.0%,#82ff75 99.1%,#82ff74)"></div><div style="background:linear-gradient(90deg,#0000b9,#0000ab 2.2%,#00008c 4.3%,#000080 4.9%,#000080 51.1%,#0000ff 58.8%,#0003ff 60.1%,#00baff 73.3%,#00dffc 76.2%,#05ebf2 77.3%,#16ffe1 79.1%,#52ffa5 86.6%,#73ff84 93.0%,#80ff77 99.1%,#80ff76)"></div><div style="background:linear-gradient(90deg,#0000b9,#0000ac 2.2%,#00008d 4.3%,#000080 5.1%,#000081 51.3%,#0000ff 59.0%,#0004ff 60.3%,#00bbff 73.5%,#00ddfe 76.2%,#05ebf2 77.5%,#16ffe1 79.4%,#51ffa6 86.8%,#72ff85 93.3%,#7eff79 99.3%,#7eff79)"></div><div style="background:linear-gradient(90deg,#0000b9,#0000ad 2.2%,#00008e 4.3%,#000080 5.1%,#000080 51.3%,#0000ff 59.2%,#0002ff 60.3%,#00b9ff 73.5%,#00ddfe 76.5%,#05ecf2 77.7%,#16ffe1 79.6%,#50ffa7 87.0%,#70ff86 93.5%,#7cff7b 99.5%,#7cff7b)"></div><div style="background:linear-gradient(90deg,#0000ba,#0000ad 2.2%,#00008a 4.5%,#000080 5.1%,#000081 51.6%,#0000ff 59.2%,#0003ff 60.5%,#00b6ff 73.5%,#00ddfe 76.7%,#05ecf2 77.9%,#16ffe1 79.8%,#4fffa7 87.2%,#6fff88 93.7%,#7aff7d 99.7%,#7aff7d)"></div><div style="background:linear-gradient(90deg,#0000ba,#0000ae 2.2%,#00008b 4.5%,#000080 5.1%,#000080 51.6%,#0000ff 59.4%,#0001ff 60.5%,#00b4ff 73.5%,#00ddfe 76.9%,#03e9f4 77.9%,#16ffe1 80.0%,#4fffa8 87.4%,#6dff89 93.9%,#78ff7f)"></div><div style="background:linear-gradient(90deg,#0000bb,#0000ae 2.2%,#00008c 4.5%,#000080 5.1%,#000080 51.8%,#0000fe 59.4%,#0002ff 60.7%,#00b2ff 73.5%,#00ddfd 77.1%,#03e9f4 78.1%,#16ffe1 80.2%,#4effa9 87.7%,#6cff8b 94.1%,#76ff81)"></div><div style="background:linear-gradient(90deg,#0000bb,#0000af 2.2%,#00008d 4.5%,#000080 5.1%,#000081 52.0%,#0000ff 59.6%,#0003ff 60.9%,#00b2ff 73.8%,#00ddfd 77.3%,#05ecf2 78.5%,#16ffe1 80.4%,#4dffaa 87.9%,#6aff8c 94.3%,#73ff83)"></div><div style="background:linear-gradient(90deg,#0000bc,#0000af 2.2%,#00008d 4.5%,#000080 5.3%,#000080 52.0%,#0000ff 59.9%,#0004ff 61.1%,#00b0ff 73.8%,#00ddfd 77.5%,#05ecf2 78.7%,#15ffe1 80.6%,#4bffac 87.9%,#68ff8f 94.3%,#71ff86)"></div><div style="background:linear-gradient(90deg,#0000bc,#0000b0 2.2%,#00008e 4.5%,#000080 5.3%,#000080 52.2%,#0000ff 60.1%,#0002ff 61.1%,#00adff 73.8%,#00ddfd 77.7%,#05ebf2 78.9%,#17ffe0 81.0%,#4bffac 88.3%,#67ff90 94.7%,#6fff88)"></div><div style="background:linear-gradient(90deg,#0000bd,#0000b0 2.2%,#00008f 4.5%,#000080 5.3%,#000082 52.4%,#0000ff 60.1%,#0003ff 61.3%,#00abff 73.8%,#00ddfd 77.9%,#05ebf2 79.1%,#17ffe0 81.2%,#4affad 88.5%,#65ff91 94.9%,#6dff8a)"></div><div style="background:linear-gradient(90deg,#0000bd,#0000b1 2.2%,#000090 4.5%,#000080 5.3%,#000080 52.4%,#0000ff 60.3%,#0003ff 61.5%,#00abff 74.0%,#00ddfe 78.1%,#05ebf2 79.4%,#16ffe0 81.4%,#49ffae 88.7%,#64ff93 95.1%,#6aff8c)"></div><div style="background:linear-gradient(90deg,#0000be,#0000b1 2.2%,#000090 4.5%,#000080 5.3%,#000081 52.6%,#0000ff 60.5%,#0001ff 61.5%,#00a9ff 74.0%,#00ddfe 78.3%,#04ebf2 79.6%,#16ffe1 81.6%,#48ffaf 88.9%,#62ff95 95.3%,#68ff8f)"></div><div style="background:linear-gradient(90deg,#0000be,#0000b2 2.2%,#000091 4.5%,#000080 5.5%,#000082 52.8%,#0000ff 60.5%,#0002ff 61.7%,#00a7ff 74.0%,#00ddfe 78.5%,#04ebf3 79.8%,#16ffe1 81.8%,#47ffb0 89.1%,#60ff97 95.5%,#66ff91)"></div><div style="background:linear-gradient(90deg,#0000bf,#0000b3 2.2%,#000092 4.5%,#000080 5.5%,#000080 52.8%,#0000ff 60.7%,#0003ff 61.9%,#00a7ff 74.2%,#00ddfe 78.7%,#04eaf3 80.0%,#17ffe0 82.3%,#46ffb1 89.3%,#5eff98 95.7%,#63ff93)"></div><div style="background:linear-gradient(90deg,#0000bf,#0000b3 2.2%,#000093 4.5%,#000080 5.5%,#000081 53.0%,#0000ff 60.9%,#0004ff 62.1%,#00a4ff 74.2%,#00dffc 79.1%,#04eaf3 80.2%,#16ffe1 82.5%,#45ffb2 89.5%,#5dff9a 96.0%,#61ff96)"></div><div style="background:linear-gradient(90deg,#0000c0,#0000b4 2.2%,#000094 4.5%,#000080 5.5%,#000082 53.2%,#0000fe 60.9%,#0002ff 62.1%,#00a2ff 74.2%,#00defd 79.4%,#05ecf2 80.6%,#16ffe1 82.7%,#44ffb3 89.7%,#5bff9c 96.2%,#5fff98)"></div><div style="background:linear-gradient(90deg,#0000c0,#0000b4 2.2%,#000094 4.5%,#000080 5.5%,#000080 53.2%,#0000ff 61.1%,#0002ff 62.3%,#009fff 74.2%,#00defd 79.6%,#05ebf2 80.8%,#17ffe0 83.1%,#43ffb3 90.1%,#59ff9e 96.6%,#5cff9a)"></div><div style="background:linear-gradient(90deg,#0000c1,#0000b5 2.2%,#000095 4.5%,#000080 5.7%,#000081 53.4%,#0000ff 61.3%,#0003ff 62.6%,#009fff 74.4%,#00defd 79.8%,#04ebf3 81.0%,#16ffe1 83.3%,#42ffb5 90.4%,#57ffa0 96.8%,#5aff9d)"></div><div style="background:linear-gradient(90deg,#0000c1,#0000b6 2.2%,#000096 4.5%,#000080 5.7%,#000082 53.6%,#0000ff 61.5%,#0004ff 62.8%,#009dff 74.4%,#00ddfe 80.0%,#04eaf3 81.2%,#15ffe1 83.5%,#41ffb6 90.6%,#55ffa2 97.0%,#58ff9f)"></div><div style="background:linear-gradient(90deg,#0000c2,#0000b6 2.2%,#000097 4.5%,#000080 5.7%,#000080 53.6%,#0000fe 61.5%,#0001ff 62.8%,#009aff 74.4%,#00ddfe 80.2%,#03e9f4 81.4%,#16ffe0 83.9%,#40ffb7 91.0%,#53ffa4 97.4%,#55ffa2)"></div><div style="background:linear-gradient(90deg,#0000c2,#0000b7 2.2%,#000098 4.5%,#000080 5.7%,#000080 53.8%,#0000ff 61.7%,#0002ff 63.0%,#009aff 74.6%,#00defd 80.6%,#04ebf3 81.8%,#16ffe1 84.1%,#3effb9 91.0%,#51ffa6 97.4%,#53ffa4)"></div><div style="background:linear-gradient(90deg,#0000c3,#0000b7 2.2%,#000098 4.5%,#000081 5.7%,#000081 54.0%,#0000ff 61.9%,#0003ff 63.2%,#0098ff 74.6%,#00defd 80.8%,#04eaf3 82.1%,#16ffe1 84.5%,#3dffba 91.4%,#4fffa8 97.8%,#50ffa7)"></div><div style="background:linear-gradient(90deg,#0000c3,#0000b6 2.4%,#000096 4.7%,#000080 5.9%,#000080 54.0%,#0000ff 62.1%,#0003ff 63.4%,#0098ff 74.8%,#00ddfe 81.0%,#03e9f4 82.3%,#15ffe1 84.8%,#3cffbb 91.6%,#4dffaa 98.0%,#4effa9)"></div><div style="background:linear-gradient(90deg,#0000c4,#0000b7 2.4%,#000097 4.7%,#000080 5.9%,#000080 54.3%,#0000ff 62.3%,#0004ff 63.6%,#0095ff 74.8%,#00defd 81.4%,#05ecf1 82.9%,#16ffe1 85.2%,#3bffbc 92.0%,#4bffac 98.4%,#4bffac)"></div><div style="background:linear-gradient(90deg,#0000c4,#0000b7 2.4%,#000097 4.7%,#000080 5.9%,#000081 54.5%,#0000ff 62.3%,#0001ff 63.6%,#0092ff 74.8%,#00defd 81.6%,#03e9f4 82.9%,#16ffe1 85.6%,#3affbd 92.4%,#48ffae 98.9%,#49ffae)"></div><div style="background:linear-gradient(90deg,#0000c5,#0000b8 2.4%,#000098 4.7%,#000080 5.9%,#000082 54.7%,#0000ff 62.6%,#0002ff 63.8%,#0092ff 75.0%,#00ddfe 81.8%,#04eaf3 83.3%,#17ffe0 86.0%,#39ffbe 92.8%,#46ffb1 99.1%,#46ffb1)"></div><div style="background:linear-gradient(90deg,#0000c6,#0000b9 2.4%,#000099 4.7%,#000080 6.1%,#000080 54.7%,#0000ff 62.8%,#0002ff 64.0%,#0090ff 75.0%,#00defd 82.3%,#03e9f4 83.5%,#16ffe1 86.2%,#37ffbf 93.0%,#44ffb3 99.5%,#44ffb3)"></div><div style="background:linear-gradient(90deg,#0000c6,#0000b9 2.4%,#00009a 4.7%,#000080 6.1%,#000080 54.9%,#0000ff 63.0%,#0003ff 64.2%,#008fff 75.2%,#00ddfe 82.5%,#04eaf3 83.9%,#16ffe1 86.6%,#36ffc1 93.5%,#41ffb6 99.7%,#41ffb6)"></div><div style="background:linear-gradient(90deg,#0000c7,#0000ba 2.4%,#00009b 4.7%,#000080 6.1%,#000081 55.1%,#0000ff 63.2%,#0003ff 64.4%,#008dff 75.2%,#00defd 82.9%,#04ebf2 84.3%,#16ffe1 87.0%,#34ffc2 93.7%,#3fffb8)"></div><div style="background:linear-gradient(90deg,#0000c7,#0000bb 2.4%,#000098 4.9%,#000080 6.1%,#000082 55.3%,#0000ff 63.4%,#0003ff 64.6%,#008cff 75.4%,#00ddfe 83.1%,#03eaf3 84.5%,#16ffe1 87.4%,#33ffc4 94.1%,#3cffbb)"></div><div style="background:linear-gradient(90deg,#0000c8,#0000bb 2.4%,#000099 4.9%,#000080 6.3%,#000080 55.3%,#0000fe 63.4%,#0001ff 64.6%,#008aff 75.4%,#00daff 83.1%,#04eaf3 85.0%,#16ffe1 87.9%,#32ffc5 94.5%,#39ffbd)"></div><div style="background:linear-gradient(90deg,#0000c9,#0000bc 2.4%,#00009a 4.9%,#000080 6.3%,#000080 55.5%,#0000ff 63.6%,#0001ff 64.8%,#0089ff 75.6%,#00d9ff 83.3%,#03e9f4 85.2%,#16ffe0 88.5%,#31ffc6 95.1%,#37ffc0)"></div><div style="background:linear-gradient(90deg,#0000c9,#0000bd 2.4%,#00009b 4.9%,#000080 6.3%,#000081 55.7%,#0000ff 63.8%,#0002ff 65.0%,#0086ff 75.6%,#00d6ff 83.3%,#00e2f9 84.8%,#16ffe1 88.9%,#2fffc8 95.5%,#34ffc3)"></div><div style="background:linear-gradient(90deg,#0000ca,#0000bd 2.4%,#00009c 4.9%,#000080 6.3%,#000081 55.9%,#0000ff 64.0%,#0002ff 65.2%,#0086ff 75.8%,#00d4ff 83.5%,#00e1fb 85.0%,#09f1ee 87.0%,#17ffe0 89.5%,#2effc9 96.2%,#31ffc5)"></div><div style="background:linear-gradient(90deg,#0000ca,#0000be 2.4%,#00009d 4.9%,#000080 6.5%,#000082 56.1%,#0000ff 64.2%,#0002ff 65.5%,#0083ff 75.8%,#00d1ff 83.5%,#00dffc 85.2%,#05ecf1 86.8%,#16ffe1 89.9%,#2cffcb 96.6%,#2fffc8)"></div><div style="background:linear-gradient(90deg,#0000cb,#0000bf 2.4%,#00009e 4.9%,#000080 6.5%,#000080 56.1%,#0000ff 64.4%,#0002ff 65.7%,#0083ff 76.0%,#00d0ff 83.7%,#00e0fc 85.6%,#05ecf1 87.2%,#16ffe1 90.6%,#2affcd 97.0%,#2cffcb)"></div><div style="background:linear-gradient(90deg,#0000cc,#0000c0 2.4%,#00009f 4.9%,#000080 6.5%,#000080 56.3%,#0000ff 64.6%,#0002ff 65.9%,#0082ff 76.2%,#00cdff 83.7%,#00defd 85.8%,#04eaf3 87.4%,#16ffe1 91.2%,#28ffcf 97.6%,#29ffce)"></div><div style="background:linear-gradient(90deg,#0000cc,#0000c0 2.4%,#0000a0 4.9%,#000080 6.5%,#000080 56.5%,#0000ff 64.8%,#0002ff 66.1%,#007fff 76.2%,#00caff 83.7%,#00defd 86.2%,#04eaf3 87.9%,#16ffe1 91.8%,#26ffd1 98.2%,#26ffd0)"></div><div style="background:linear-gradient(90deg,#0000cd,#0000c1 2.4%,#0000a1 4.9%,#000080 6.7%,#000081 56.7%,#0000ff 65.0%,#0002ff 66.3%,#007eff 76.5%,#00c8ff 83.9%,#00defd 86.6%,#04ebf3 88.5%,#16ffe1 92.4%,#23ffd3 98.9%,#24ffd3)"></div><div style="background:linear-gradient(90deg,#0000ce,#0000c2 2.4%,#0000a2 4.9%,#000080 6.7%,#000081 57.0%,#0000ff 65.2%,#0002ff 66.5%,#007bff 76.5%,#00c5ff 83.9%,#00dffc 87.2%,#06edf1 89.3%,#16ffe1 93.3%,#21ffd6 99.7%,#21ffd6)"></div><div style="background:linear-gradient(90deg,#0000ce,#0000c3 2.4%,#0000a3 4.9%,#000080 6.7%,#000082 57.2%,#0000ff 65.5%,#0002ff 66.7%,#007bff 76.7%,#00c4ff 84.1%,#00dffc 87.7%,#04ebf3 89.5%,#15ffe1 94.1%,#1effd9)"></div><div style="background:linear-gradient(90deg,#0000cf,#0000c3 2.4%,#0000a4 4.9%,#000080 7.0%,#000080 57.2%,#0000ff 65.7%,#0002ff 66.9%,#007aff 76.9%,#00c2ff 84.3%,#00defd 88.1%,#05ecf2 90.4%,#15ffe1 95.1%,#1bffdb)"></div><div style="background:linear-gradient(90deg,#0000d0,#0000c4 2.4%,#0000a5 4.9%,#000080 7.0%,#000080 57.4%,#0000ff 65.9%,#0002ff 67.1%,#0077ff 76.9%,#00bfff 84.3%,#00dffc 88.7%,#06edf1 91.2%,#15ffe2 96.4%,#18ffde)"></div><div style="background:linear-gradient(90deg,#0000d0,#0000c5 2.4%,#0000a6 4.9%,#000080 7.0%,#000080 57.6%,#0000ff 66.1%,#0002ff 67.3%,#0076ff 77.1%,#00bdff 84.5%,#00defd 89.1%,#05ebf2 91.6%,#14fee3 97.4%,#16ffe1)"></div><div style="background:linear-gradient(90deg,#0000d1,#0000c6 2.4%,#0000a7 4.9%,#000080 7.0%,#000080 57.8%,#0000ff 66.3%,#0002ff 67.5%,#0075ff 77.3%,#00bcff 84.8%,#00defd 89.7%,#05ecf2 92.4%,#12fce5 98.2%,#13fde4)"></div><div style="background:linear-gradient(90deg,#0000d2,#0000c7 2.4%,#0000a8 4.9%,#000080 7.2%,#000080 58.0%,#0000ff 66.5%,#0002ff 67.7%,#0074ff 77.5%,#00baff 85.0%,#00defd 90.4%,#05ecf2 93.3%,#10f9e7 99.1%,#10f9e7)"></div><div style="background:linear-gradient(90deg,#0000d3,#0000c7 2.4%,#0000a9 4.9%,#000080 7.2%,#000081 58.2%,#0000ff 66.7%,#0002ff 67.9%,#0071ff 77.5%,#00b6ff 85.0%,#00dffc 91.2%,#06edf1 94.7%,#0df5ea)"></div><div style="background:linear-gradient(90deg,#0000d3,#0000c6 2.6%,#0000a6 5.1%,#000080 7.2%,#000081 58.4%,#0000ff 66.9%,#0001ff 68.2%,#0070ff 77.7%,#00b5ff 85.2%,#00ddfd 91.6%,#05ecf1 95.7%,#0af2ed)"></div><div style="background:linear-gradient(90deg,#0000d4,#0000c7 2.6%,#0000a8 5.1%,#000080 7.4%,#000081 58.6%,#0000ff 67.1%,#0001ff 68.4%,#006fff 77.9%,#00b1ff 85.2%,#00daff 91.6%,#04ebf2 96.8%,#07eef0)"></div><div style="background:linear-gradient(90deg,#0000d5,#0000c8 2.6%,#0000a9 5.1%,#000080 7.4%,#000081 58.8%,#0000ff 67.3%,#0003ff 68.8%,#006eff 78.1%,#00afff 85.4%,#00d7ff 91.8%,#03e9f4 97.8%,#04eaf3)"></div><div style="background:linear-gradient(90deg,#0000d6,#0000c9 2.6%,#0000a6 5.3%,#000080 7.4%,#000081 59.0%,#0000ff 67.5%,#0003ff 69.0%,#006dff 78.3%,#00adff 85.6%,#00d4ff 92.0%,#00e5f7 98.0%,#01e7f6)"></div><div style="background:linear-gradient(90deg,#0000d6,#0000ca 2.6%,#0000a8 5.3%,#000080 7.6%,#000081 59.2%,#0000ff 67.7%,#0002ff 69.2%,#0069ff 78.3%,#00aaff 85.6%,#00d1ff 92.0%,#00e2fa 98.0%,#00e3f9)"></div><div style="background:linear-gradient(90deg,#0000d7,#0000cb 2.6%,#0000a9 5.3%,#000080 7.6%,#000081 59.4%,#0000ff 68.2%,#0002ff 69.4%,#0068ff 78.5%,#00a8ff 85.8%,#00ceff 92.2%,#00defd 98.2%,#00dffc)"></div><div style="background:linear-gradient(90deg,#0000d8,#0000cc 2.6%,#0000aa 5.3%,#000080 7.6%,#000081 59.6%,#0000ff 68.4%,#0001ff 69.6%,#0067ff 78.7%,#00a6ff 86.0%,#00cbff 92.4%,#00daff 98.4%,#00dbff)"></div><div style="background:linear-gradient(90deg,#0000d9,#0000cc 2.6%,#0000ab 5.3%,#000080 7.8%,#000081 59.9%,#0000ff 68.6%,#0003ff 70.0%,#0065ff 78.9%,#00a4ff 86.2%,#00c8ff 92.6%,#00d7ff 98.7%,#00d7ff)"></div><div style="background:linear-gradient(90deg,#0000da,#0000cd 2.6%,#0000ac 5.3%,#000080 7.8%,#000081 60.1%,#0000ff 68.8%,#0002ff 70.2%,#0064ff 79.1%,#00a1ff 86.4%,#00c5ff 92.8%,#00d3ff 98.9%,#00d4ff)"></div><div style="background:linear-gradient(90deg,#0000da,#0000ce 2.6%,#0000ad 5.3%,#000080 7.8%,#000081 60.3%,#0000ff 69.0%,#0002ff 70.4%,#0062ff 79.4%,#009fff 86.6%,#00c2ff 93.0%,#00cfff 99.1%,#00d0ff)"></div><div style="background:linear-gradient(90deg,#0000db,#0000cf 2.6%,#0000ae 5.3%,#000080 8.0%,#000081 60.5%,#0000ff 69.4%,#0003ff 70.9%,#0063ff 79.8%,#009dff 86.8%,#00bfff 93.3%,#00ccff 99.3%,#00ccff)"></div><div style="background:linear-gradient(90deg,#0000dc,#0000d0 2.6%,#0000b0 5.3%,#000080 8.0%,#000081 60.7%,#0000ff 69.6%,#0003ff 71.1%,#005fff 79.8%,#0099ff 86.8%,#00bbff 93.3%,#00c8ff 99.3%,#00c8ff)"></div><div style="background:linear-gradient(90deg,#0000dd,#0000d1 2.6%,#0000b1 5.3%,#000080 8.0%,#000080 60.9%,#0000ff 69.8%,#0002ff 71.3%,#005eff 80.0%,#0097ff 87.0%,#00b8ff 93.5%,#00c4ff 99.5%,#00c4ff)"></div><div style="background:linear-gradient(90deg,#0000de,#0000d2 2.6%,#0000b2 5.3%,#000080 8.2%,#000080 61.1%,#0000fe 70.0%,#0003ff 71.7%,#005eff 80.4%,#0095ff 87.4%,#00b5ff 93.9%,#00c0ff)"></div><div style="background:linear-gradient(90deg,#0000df,#0000d3 2.6%,#0000b3 5.3%,#000080 8.2%,#000080 61.3%,#0000ff 70.4%,#0002ff 71.9%,#005aff 80.4%,#0092ff 87.4%,#00b1ff 93.9%,#00bcff)"></div><div style="background:linear-gradient(90deg,#0000e0,#0000d4 2.6%,#0000b5 5.3%,#000080 8.2%,#000080 61.5%,#0000ff 70.6%,#0001ff 72.1%,#0058ff 80.6%,#008fff 87.7%,#00aeff 94.1%,#00b8ff)"></div><div style="background:linear-gradient(90deg,#0000e1,#0000d5 2.6%,#0000b6 5.3%,#000080 8.4%,#000082 61.9%,#0000fe 70.9%,#0002ff 72.5%,#0058ff 81.0%,#008eff 88.1%,#00abff 94.5%,#00b4ff)"></div><div style="background:linear-gradient(90deg,#0000e1,#0000d6 2.6%,#0000b7 5.3%,#000080 8.4%,#000082 62.1%,#0000ff 71.3%,#0001ff 72.7%,#0057ff 81.2%,#008bff 88.3%,#00a8ff 94.7%,#00afff)"></div><div style="background:linear-gradient(90deg,#0000e2,#0000d7 2.6%,#0000b8 5.3%,#000080 8.6%,#000081 62.3%,#0000fe 71.5%,#0002ff 73.1%,#0055ff 81.4%,#0088ff 88.5%,#00a3ff 94.7%,#00abff)"></div><div style="background:linear-gradient(90deg,#0000e3,#0000d8 2.6%,#0000ba 5.3%,#000080 8.6%,#000080 62.6%,#0000ff 71.9%,#0001ff 73.3%,#0053ff 81.6%,#0085ff 88.7%,#00a0ff 94.9%,#00a7ff)"></div><div style="background:linear-gradient(90deg,#0000e4,#0000d8 2.8%,#0000b8 5.5%,#000080 8.6%,#000080 62.8%,#0000fe 72.1%,#0002ff 73.8%,#0052ff 82.1%,#0082ff 88.9%,#009cff 95.1%,#00a3ff)"></div><div style="background:linear-gradient(90deg,#0000e5,#0000d9 2.8%,#0000b9 5.5%,#000080 8.8%,#000080 63.0%,#0000ff 72.5%,#0003ff 74.2%,#0050ff 82.3%,#007fff 89.1%,#0099ff 95.5%,#009fff)"></div><div style="background:linear-gradient(90deg,#0000e6,#0000da 2.8%,#0000b7 5.7%,#000080 8.8%,#000081 63.4%,#0000fe 72.7%,#0001ff 74.4%,#004eff 82.5%,#007cff 89.3%,#0095ff 95.7%,#009aff)"></div><div style="background:linear-gradient(90deg,#0000e7,#0000db 2.8%,#0000b9 5.7%,#000080 9.0%,#000080 63.6%,#0000ff 73.1%,#0002ff 74.8%,#004dff 82.9%,#007aff 89.7%,#0091ff 96.0%,#0096ff)"></div><div style="background:linear-gradient(90deg,#0000e8,#0000dc 2.8%,#0000ba 5.7%,#000080 9.0%,#000080 63.8%,#0000fd 73.3%,#0003ff 75.2%,#004bff 83.1%,#0077ff 89.9%,#008eff 96.2%,#0092ff)"></div><div style="background:linear-gradient(90deg,#0000e9,#0000dd 2.8%,#0000bc 5.7%,#000080 9.0%,#000082 64.2%,#0000fe 73.8%,#0003ff 75.6%,#004aff 83.5%,#0075ff 90.4%,#008aff 96.6%,#008dff)"></div><div style="background:linear-gradient(90deg,#0000ea,#0000de 2.8%,#0000bd 5.7%,#000080 9.2%,#000081 64.4%,#0000ff 74.2%,#0001ff 75.8%,#0047ff 83.7%,#0072ff 90.6%,#0086ff 96.8%,#0089ff)"></div><div style="background:linear-gradient(90deg,#0000eb,#0000df 2.8%,#0000be 5.7%,#000084 9.0%,#000080 9.4%,#000080 64.6%,#0000fd 74.4%,#0002ff 76.2%,#0046ff 84.1%,#006fff 91.0%,#0082ff 97.2%,#0084ff)"></div><div style="background:linear-gradient(90deg,#0000ec,#0000e1 2.8%,#0000c0 5.7%,#000086 9.0%,#000080 9.6%,#000081 65.0%,#0000fd 74.8%,#0002ff 76.7%,#0044ff 84.3%,#006cff 91.2%,#007eff 97.4%,#0080ff)"></div><div style="background:linear-gradient(90deg,#0000ee,#0000e2 2.8%,#0000c1 5.7%,#000088 9.0%,#000080 9.4%,#000080 65.2%,#0000f9 74.8%,#0000ff 75.8%,#0002ff 77.1%,#0042ff 84.8%,#0069ff 91.6%,#007aff 97.8%,#007bff)"></div><div style="background:linear-gradient(90deg,#0000ef,#0000e3 2.8%,#0000c3 5.7%,#00008a 9.0%,#000080 9.6%,#000082 65.7%,#0000f9 75.2%,#0000ff 76.2%,#0002ff 77.5%,#0041ff 85.2%,#0067ff 92.0%,#0076ff 98.2%,#0077ff)"></div><div style="background:linear-gradient(90deg,#0000f0,#0000e4 2.8%,#0000c4 5.7%,#00008c 9.0%,#000080 9.6%,#000081 65.9%,#0000f7 75.4%,#0000ff 76.5%,#0002ff 77.9%,#0040ff 85.6%,#0063ff 92.2%,#0072ff 98.4%,#0072ff)"></div><div style="background:linear-gradient(90deg,#0000f1,#0000e5 2.8%,#0000c6 5.7%,#00008e 9.0%,#000080 9.9%,#000080 66.1%,#0000f5 75.6%,#0000ff 76.7%,#0002ff 78.3%,#003dff 85.8%,#005fff 92.4%,#006dff 98.9%,#006eff)"></div><div style="background:linear-gradient(90deg,#0000f2,#0000e7 2.8%,#0000c7 5.7%,#000090 9.0%,#000080 9.9%,#000081 66.5%,#0000f3 75.8%,#0000ff 77.1%,#0003ff 78.9%,#003cff 86.4%,#005dff 93.0%,#0069ff 99.5%,#0069ff)"></div><div style="background:linear-gradient(90deg,#0000f3,#0000e8 2.8%,#0000c9 5.7%,#000092 9.0%,#000080 10.1%,#000082 66.9%,#0000f0 76.0%,#0000ff 77.5%,#0002ff 79.4%,#003aff 86.8%,#005aff 93.5%,#0064ff)"></div><div style="background:linear-gradient(90deg,#0000f4,#0000e9 2.8%,#0000ca 5.7%,#000094 9.0%,#000080 10.1%,#000080 67.1%,#0000ee 76.2%,#0000ff 78.1%,#0002ff 79.8%,#0038ff 87.2%,#0056ff 93.9%,#0060ff)"></div><div style="background:linear-gradient(90deg,#0000f6,#0000ea 2.8%,#0000cc 5.7%,#000096 9.0%,#000080 10.3%,#000082 67.5%,#0000ee 76.7%,#0000ff 78.5%,#0003ff 80.4%,#0036ff 87.7%,#0053ff 94.3%,#005bff)"></div><div style="background:linear-gradient(90deg,#0000f7,#0000ec 2.8%,#0000ce 5.7%,#000098 9.0%,#000080 10.3%,#000080 67.7%,#0000e9 76.7%,#0000ff 78.9%,#0002ff 80.8%,#0034ff 88.1%,#004fff 94.7%,#0056ff)"></div><div style="background:linear-gradient(90deg,#0000f8,#0000ec 3.0%,#0000c9 6.1%,#00008e 9.6%,#000080 10.5%,#000081 68.2%,#0000e9 77.1%,#0000ff 79.6%,#0002ff 81.4%,#0033ff 88.7%,#004cff 95.3%,#0051ff)"></div><div style="background:linear-gradient(90deg,#0000f9,#0000ed 3.0%,#0000cb 6.1%,#000090 9.6%,#000080 10.5%,#000082 68.6%,#0000e8 77.5%,#0000ff 80.0%,#0003ff 82.1%,#0031ff 89.3%,#0048ff 96.0%,#004dff)"></div><div style="background:linear-gradient(90deg,#0000fb,#0000ee 3.0%,#0000cd 6.1%,#000092 9.6%,#000080 10.7%,#000080 68.8%,#0000e3 77.5%,#0000ff 80.6%,#0003ff 82.7%,#002eff 89.7%,#0044ff 96.4%,#0048ff)"></div><div style="background:linear-gradient(90deg,#0000fc,#0000f0 3.0%,#0000cf 6.1%,#000094 9.6%,#000080 10.7%,#000080 69.2%,#0000e3 77.9%,#0000ff 81.0%,#0003ff 83.3%,#002dff 90.4%,#0040ff 97.0%,#0043ff)"></div><div style="background:linear-gradient(90deg,#0000fd,#0000f1 3.0%,#0000d0 6.1%,#000096 9.6%,#000080 10.9%,#000081 69.6%,#0000e2 78.3%,#0000ff 81.6%,#0003ff 83.9%,#002aff 91.0%,#003cff 97.6%,#003eff)"></div><div style="background:linear-gradient(90deg,#0000ff,#0000f3 3.0%,#0000d2 6.1%,#000099 9.6%,#000081 10.9%,#000081 70.0%,#0000df 78.5%,#0000ff 82.3%,#0002ff 84.5%,#0028ff 91.6%,#0038ff 98.2%,#0039ff)"></div><div style="background:linear-gradient(90deg,#0000ff,#0000f7 2.6%,#0000d9 5.7%,#0000a3 9.2%,#000080 11.1%,#000082 70.4%,#0000de 78.9%,#0000ff 82.9%,#0003ff 85.4%,#0025ff 92.2%,#0033ff 98.9%,#0034ff)"></div><div style="background:linear-gradient(90deg,#0000ff,#0000fa 2.4%,#0000dd 5.5%,#0000a8 9.0%,#000080 11.3%,#000082 70.9%,#0000dc 79.4%,#0000ff 83.5%,#0002ff 86.0%,#0023ff 92.8%,#002fff 99.5%,#002fff)"></div><div style="background:linear-gradient(90deg,#0000ff,#0000fb 2.4%,#0000df 5.5%,#0000ab 9.0%,#000080 11.3%,#000082 71.3%,#0000d9 79.6%,#0000ff 84.1%,#0002ff 86.8%,#0020ff 93.7%,#002aff)"></div><div style="background:linear-gradient(90deg,#0000ff,#0000fd 2.4%,#0000e1 5.5%,#0000ad 9.0%,#000080 11.5%,#000082 71.7%,#0000d8 80.0%,#0000ff 85.0%,#0003ff 87.9%,#001eff 94.7%,#0025ff)"></div><div style="background:linear-gradient(90deg,#0000ff,#0000fd 2.6%,#0000e0 5.7%,#0000ab 9.2%,#000081 11.5%,#000082 72.1%,#0000d6 80.4%,#0000ff 85.8%,#0003ff 88.9%,#001bff 95.7%,#001fff)"></div><div style="background:linear-gradient(90deg,#0000ff,#0000fc 3.0%,#0000dd 6.1%,#0000a3 9.9%,#000080 11.7%,#000081 72.5%,#0000d3 80.6%,#0000ff 86.4%,#0003ff 89.9%,#0017ff 96.6%,#001aff)"></div><div style="background:linear-gradient(90deg,#0000ff,#0000fc 3.2%,#0000dc 6.3%,#0000a1 10.1%,#000080 11.9%,#000081 72.9%,#0000d1 81.0%,#0000ff 87.2%,#0002ff 91.0%,#0014ff 97.6%,#0015ff)"></div><div style="background:linear-gradient(90deg,#0000ff,#0000fe 3.2%,#0000de 6.3%,#0000a4 10.1%,#000080 11.9%,#000080 73.3%,#0000cf 81.4%,#0000fe 88.1%,#0003ff 92.6%,#0010ff 99.3%,#0010ff)"></div><div style="background:linear-gradient(90deg,#0000ff,#0000fe 3.4%,#0000db 6.7%,#00009f 10.5%,#000080 12.1%,#000082 74.0%,#0000cd 81.8%,#0000fd 88.9%,#0003ff 94.3%,#000aff)"></div><div style="background:linear-gradient(90deg,#0000ff,#0000fc 3.8%,#0000d7 7.2%,#000096 11.1%,#000080 12.3%,#000081 74.4%,#0000ca 82.3%,#0000f8 89.1%,#0000ff 91.2%,#0004ff 98.4%,#0005ff)"></div><div style="background:linear-gradient(90deg,#0000ff,#0000fc 4.0%,#0000d6 7.4%,#000094 11.3%,#000080 12.3%,#000080 74.8%,#0000c8 82.7%,#0000f4 89.5%,#0000ff 92.4%,#0000ff)"></div><div style="background:linear-gradient(90deg,#0000ff,#0000fc 4.3%,#0000d5 7.6%,#00008f 11.7%,#000080 12.6%,#000081 75.4%,#0000c7 83.3%,#0000f1 90.1%,#0000ff 94.1%,#0000ff)"></div><div style="background:linear-gradient(90deg,#0002ff,#0000fe 4.3%,#0000d8 7.6%,#000092 11.7%,#000080 12.8%,#000082 76.0%,#0000c4 83.7%,#0000ed 90.6%,#0000ff 96.2%,#0000ff)"></div><div style="background:linear-gradient(90deg,#0003ff,#0000fe 4.5%,#0000d4 8.0%,#00008d 12.1%,#000080 13.0%,#000080 76.5%,#0000c1 84.1%,#0000e9 91.0%,#0000fb 97.4%,#0000fd)"></div><div style="background:linear-gradient(90deg,#0004ff,#0000fe 4.7%,#0000d3 8.2%,#000088 12.6%,#000080 13.2%,#000081 77.1%,#0000c0 84.8%,#0000e5 91.6%,#0000f6 98.0%,#0000f7)"></div><div style="background:linear-gradient(90deg,#0006ff,#0000ff 4.0%,#0000fa 5.3%,#0000cc 8.8%,#000080 13.2%,#000081 77.7%,#0000bd 85.2%,#0000e1 92.0%,#0000f0 98.4%,#0000f1)"></div><div style="background:linear-gradient(90deg,#0008ff,#0000ff 4.0%,#0000fc 5.3%,#0000cf 8.8%,#000080 13.4%,#000081 78.3%,#0000bb 85.8%,#0000dd 92.6%,#0000ea 99.1%,#0000ea)"></div><div style="background:linear-gradient(90deg,#0009ff,#0000ff 4.3%,#0000fc 5.5%,#0000cb 9.2%,#000080 13.6%,#000080 78.9%,#0000b8 86.4%,#0000d9 93.3%,#0000e4 99.7%,#0000e4)"></div><div style="background:linear-gradient(90deg,#000bff,#0000ff 4.3%,#0000fc 5.7%,#0000ca 9.4%,#000080 13.8%,#000082 79.8%,#0000b6 87.0%,#0000d3 93.7%,#0000dd)"></div><div style="background:linear-gradient(90deg,#000cff,#0001ff 3.4%,#0000fe 5.7%,#0000cd 9.4%,#000080 13.8%,#000081 80.4%,#0000b3 87.7%,#0000cf 94.3%,#0000d7)"></div><div style="background:linear-gradient(90deg,#000eff,#0002ff 3.6%,#0000fe 5.9%,#0000cc 9.6%,#000080 14.0%,#000082 81.2%,#0000b1 88.5%,#0000ca 95.1%,#0000d0)"></div><div style="background:linear-gradient(90deg,#0010ff,#0004ff 3.6%,#0000ff 5.3%,#0000fc 6.3%,#0000c5 10.3%,#000080 14.2%,#000082 82.1%,#0000af 89.3%,#0000c5 96.0%,#0000c9)"></div><div style="background:linear-gradient(90deg,#0011ff,#0006ff 3.6%,#0000ff 5.1%,#0000fc 6.5%,#0000c5 10.5%,#000080 14.4%,#000082 82.9%,#0000ab 89.9%,#0000c0 96.6%,#0000c3)"></div><div style="background:linear-gradient(90deg,#0013ff,#0008ff 3.6%,#0000ff 5.3%,#0000fc 6.7%,#0000c4 10.7%,#000080 14.6%,#000081 83.7%,#0000a8 90.8%,#0000ba 97.4%,#0000bc)"></div><div style="background:linear-gradient(90deg,#0015ff,#0009ff 3.6%,#0000ff 5.5%,#0000fc 7.0%,#0000c0 11.1%,#000080 14.8%,#000082 84.8%,#0000a6 91.8%,#0000b4 98.4%,#0000b5)"></div><div style="background:linear-gradient(90deg,#0017ff,#000bff 3.6%,#0000ff 5.7%,#0000fc 7.2%,#0000c0 11.3%,#000080 15.0%,#000082 85.8%,#0000a2 92.8%,#0000ae 99.5%,#0000ae)"></div><div style="background:linear-gradient(90deg,#0019ff,#000dff 3.6%,#0000ff 5.9%,#0000fc 7.4%,#0000c0 11.5%,#000080 15.2%,#000081 86.8%,#00009e 93.7%,#0000a7)"></div><div style="background:linear-gradient(90deg,#001bff,#000fff 3.6%,#0000ff 6.1%,#0000fc 7.6%,#0000bc 11.9%,#000081 15.2%,#000081 88.1%,#00009a 94.9%,#0000a0)"></div><div style="background:linear-gradient(90deg,#001dff,#0011ff 3.6%,#0000ff 6.3%,#0000fc 7.8%,#0000bc 12.1%,#000080 15.5%,#000081 89.5%,#000096 96.4%,#000099)"></div><div style="background:linear-gradient(90deg,#001eff,#0014ff 3.6%,#0000ff 6.5%,#0000fd 8.0%,#0000bc 12.3%,#000081 15.7%,#000082 91.4%,#000092 98.2%,#000092)"></div><div style="background:linear-gradient(90deg,#0020ff,#0014ff 3.8%,#0000ff 6.7%,#0000fd 8.2%,#0000b8 12.8%,#000080 16.1%,#000082 93.5%,#00008b)"></div><div style="background:linear-gradient(90deg,#0023ff,#0017ff 3.8%,#0000ff 7.2%,#0000fd 8.4%,#0000b8 13.0%,#000080 16.3%,#000082 97.0%,#000084)"></div><div style="background:linear-gradient(90deg,#0025ff,#0019ff 3.8%,#0000ff 7.4%,#0000fe 8.6%,#0000b9 13.2%,#000080 16.5%,#000080)"></div><div style="background:linear-gradient(90deg,#0027ff,#001bff 3.8%,#0000ff 7.6%,#0000fe 8.8%,#0000b5 13.6%,#000080 16.7%,#000080)"></div><div style="background:linear-gradient(90deg,#0029ff,#001dff 3.8%,#0000ff 7.8%,#0000fc 9.2%,#0000b2 14.0%,#000080 16.9%,#000080)"></div><div style="background:linear-gradient(90deg,#002bff,#0020ff 3.8%,#0000ff 8.0%,#0000fc 9.4%,#0000af 14.4%,#000080 17.1%,#000080)"></div><div style="background:linear-gradient(90deg,#002dff,#0022ff 3.8%,#0000ff 8.4%,#0000fd 9.6%,#0000af 14.6%,#000080 17.3%,#000080)"></div><div style="background:linear-gradient(90deg,#0030ff,#0024ff 3.8%,#0004ff 8.0%,#0000ff 9.0%,#0000fd 9.9%,#0000ac 15.0%,#000080 17.5%,#000080)"></div><div style="background:linear-gradient(90deg,#0032ff,#0027ff 3.8%,#0007ff 8.0%,#0000ff 9.0%,#0000fe 10.1%,#0000ad 15.2%,#000080 17.9%,#000080)"></div><div style="background:linear-gradient(90deg,#0034ff,#0028ff 4.0%,#0007ff 8.2%,#0000ff 9.2%,#0000fc 10.5%,#0000a7 15.9%,#000080 18.2%,#000080)"></div><div style="background:linear-gradient(90deg,#0037ff,#002bff 4.0%,#000aff 8.2%,#0000ff 9.4%,#0000fd 10.7%,#0000a4 16.3%,#000080 18.4%,#000080)"></div><div style="background:linear-gradient(90deg,#0039ff,#002dff 4.0%,#000dff 8.2%,#0000ff 9.6%,#0000fe 10.9%,#0000a5 16.5%,#000080 18.8%,#000080)"></div><div style="background:linear-gradient(90deg,#003cff,#0030ff 4.0%,#0010ff 8.2%,#0000ff 10.1%,#0000fc 11.3%,#00009f 17.1%,#000080 19.0%,#000080)"></div><div style="background:linear-gradient(90deg,#003eff,#0033ff 4.0%,#0014ff 8.2%,#0000ff 10.3%,#0000fd 11.5%,#00009d 17.5%,#000080 19.2%,#000080)"></div><div style="background:linear-gradient(90deg,#0041ff,#0036ff 4.0%,#0015ff 8.4%,#0000ff 10.5%,#0000fe 11.7%,#00009e 17.7%,#000080 19.6%,#000080)"></div><div style="background:linear-gradient(90deg,#0044ff,#0038ff 4.0%,#0018ff 8.4%,#0000ff 10.9%,#0000fc 12.1%,#000095 18.6%,#000080 19.8%,#000080)"></div><div style="background:linear-gradient(90deg,#0046ff,#003bff 4.0%,#001bff 8.4%,#0000ff 11.1%,#0000fd 12.3%,#000097 18.8%,#000080 20.2%,#000080)"></div><div style="background:linear-gradient(90deg,#0049ff,#003eff 4.0%,#001fff 8.4%,#0000ff 11.5%,#0000fc 12.8%,#00008e 19.6%,#000080 20.4%,#000080)"></div><div style="background:linear-gradient(90deg,#004cff,#0040ff 4.3%,#0020ff 8.6%,#0000ff 11.7%,#0000fd 13.0%,#00008c 20.0%,#000080 20.9%,#000080)"></div><div style="background:linear-gradient(90deg,#004fff,#0043ff 4.3%,#0023ff 8.6%,#0000ff 12.1%,#0000fc 13.4%,#000084 20.9%,#000080 21.5%,#000080)"></div><div style="background:linear-gradient(90deg,#0052ff,#0046ff 4.3%,#0027ff 8.6%,#0000ff 12.3%,#0000fe 13.6%,#000086 21.1%,#000080 21.7%,#000080)"></div><div style="background:linear-gradient(90deg,#0055ff,#004aff 4.3%,#0029ff 8.8%,#0000ff 12.8%,#0000fd 14.0%,#000080 21.9%,#000080)"></div><div style="background:linear-gradient(90deg,#0058ff,#004dff 4.3%,#002cff 8.8%,#0000ff 13.2%,#0000fc 14.4%,#000080 22.3%,#000080)"></div><div style="background:linear-gradient(90deg,#005bff,#0050ff 4.3%,#0030ff 8.8%,#0000ff 13.6%,#0000fe 14.6%,#000080 22.5%,#000080)"></div><div style="background:linear-gradient(90deg,#005eff,#0054ff 4.3%,#0034ff 8.8%,#0000ff 13.8%,#0000fd 15.0%,#000080 22.9%,#000080)"></div><div style="background:linear-gradient(90deg,#0062ff,#0056ff 4.5%,#0036ff 9.0%,#0000ff 14.2%,#0000fc 15.5%,#000080 23.3%,#000080)"></div><div style="background:linear-gradient(90deg,#0065ff,#005aff 4.5%,#003aff 9.0%,#0000ff 14.6%,#0000ff 15.7%,#000080 23.8%,#000080)"></div><div style="background:linear-gradient(90deg,#0069ff,#005dff 4.5%,#003cff 9.2%,#0000ff 15.0%,#0000fc 16.3%,#000080 24.2%,#000080)"></div><div style="background:linear-gradient(90deg,#006cff,#0061ff 4.5%,#0041ff 9.2%,#0005ff 14.8%,#0000ff 15.7%,#0000fb 16.7%,#000080 24.6%,#000080)"></div><div style="background:linear-gradient(90deg,#0070ff,#0065ff 4.5%,#0045ff 9.2%,#000aff 14.8%,#0000ff 15.9%,#0000fb 17.1%,#000080 25.2%,#000080)"></div><div style="background:linear-gradient(90deg,#0074ff,#0069ff 4.5%,#0049ff 9.2%,#000fff 14.8%,#0000ff 16.3%,#0000fb 17.5%,#000080 25.6%,#000080)"></div><div style="background:linear-gradient(90deg,#0077ff,#006cff 4.7%,#004cff 9.4%,#000fff 15.2%,#0000ff 16.7%,#0000ff 17.7%,#000080 26.0%,#000080)"></div><div style="background:linear-gradient(90deg,#007bff,#0070ff 4.7%,#004fff 9.6%,#0012ff 15.5%,#0000ff 17.1%,#0000fc 18.4%,#000080 26.7%,#000080)"></div><div style="background:linear-gradient(90deg,#007fff,#0074ff 4.7%,#0053ff 9.6%,#0018ff 15.5%,#0000ff 17.5%,#0000fd 18.8%,#000080 27.1%,#000080)"></div><div style="background:linear-gradient(90deg,#0083ff,#0078ff 4.7%,#0058ff 9.6%,#001bff 15.7%,#0000ff 18.2%,#0000fe 19.2%,#000080 27.7%,#000080)"></div><div style="background:linear-gradient(90deg,#0088ff,#007dff 4.7%,#005dff 9.6%,#0021ff 15.7%,#0000ff 18.6%,#0000fc 19.8%,#000080 28.1%,#000080)"></div><div style="background:linear-gradient(90deg,#008cff,#0080ff 4.9%,#0060ff 9.9%,#0024ff 15.9%,#0000ff 19.0%,#0000fe 20.2%,#000080 28.7%,#000080)"></div><div style="background:linear-gradient(90deg,#0090ff,#0085ff 4.9%,#0064ff 10.1%,#0026ff 16.3%,#0000ff 19.6%,#0000fc 20.9%,#000080 29.4%,#000080)"></div><div style="background:linear-gradient(90deg,#0095ff,#008aff 4.9%,#0069ff 10.1%,#002cff 16.3%,#0000ff 20.0%,#0000fe 21.3%,#000080 30.0%,#000080)"></div><div style="background:linear-gradient(90deg,#009aff,#008fff 4.9%,#006fff 10.1%,#0032ff 16.3%,#0000ff 20.6%,#0000fd 21.9%,#000080 30.6%,#000080)"></div><div style="background:linear-gradient(90deg,#009eff,#0094ff 4.9%,#0074ff 10.1%,#0039ff 16.3%,#0000ff 21.3%,#0000fd 22.5%,#000080 31.2%,#000080)"></div><div style="background:linear-gradient(90deg,#00a3ff,#0098ff 5.1%,#0078ff 10.3%,#003dff 16.5%,#0000ff 21.9%,#0000fd 23.1%,#000080 32.1%,#000080)"></div><div style="background:linear-gradient(90deg,#00a8ff,#009dff 5.1%,#007cff 10.5%,#003fff 16.9%,#0000ff 22.5%,#0000fd 23.8%,#000080 32.7%,#000080)"></div><div style="background:linear-gradient(90deg,#00adff,#00a2ff 5.1%,#0082ff 10.5%,#0046ff 16.9%,#0000ff 23.1%,#0000fd 24.4%,#000080 33.5%,#000080)"></div><div style="background:linear-gradient(90deg,#00b3ff,#00a8ff 5.1%,#0088ff 10.5%,#004dff 16.9%,#0000ff 23.8%,#0000fe 25.0%,#000080 34.3%,#000080)"></div><div style="background:linear-gradient(90deg,#00b8ff,#00adff 5.3%,#008bff 10.9%,#004eff 17.5%,#0000ff 24.6%,#0000fc 25.8%,#000080 35.2%,#000080)"></div><div style="background:linear-gradient(90deg,#00beff,#00b3ff 5.3%,#0092ff 10.9%,#0056ff 17.5%,#0000ff 25.2%,#0000fe 26.5%,#000080 36.0%,#000080)"></div><div style="background:linear-gradient(90deg,#00c4ff,#00b9ff 5.3%,#0099ff 10.9%,#005dff 17.5%,#0000ff 26.0%,#0000fd 27.3%,#000080 36.8%,#000080)"></div><div style="background:linear-gradient(90deg,#00c9ff,#00bfff 5.3%,#009fff 10.9%,#0063ff 17.7%,#0000ff 26.9%,#0000fd 28.1%,#000080 37.9%,#000080)"></div><div style="background:linear-gradient(90deg,#00d0ff,#00c4ff 5.5%,#00a3ff 11.3%,#0067ff 18.2%,#0000ff 27.7%,#0000fd 28.9%,#000080 38.9%,#000080)"></div><div style="background:linear-gradient(90deg,#00d6ff,#00cbff 5.5%,#00abff 11.3%,#006dff 18.4%,#0000ff 28.5%,#0000fe 29.8%,#000080 39.9%,#000080)"></div><div style="background:linear-gradient(90deg,#00dcfe,#00d1ff 5.5%,#00b2ff 11.3%,#0076ff 18.4%,#0000ff 29.4%,#0000fd 30.8%,#000080 41.0%,#000080)"></div><div style="background:linear-gradient(90deg,#00e3f9,#00d8ff 5.7%,#00b7ff 11.7%,#0079ff 19.0%,#0000ff 30.4%,#0000fc 31.8%,#000080 42.2%,#000080)"></div><div style="background:linear-gradient(90deg,#03eaf3,#00dffc 5.7%,#00beff 11.7%,#0082ff 19.0%,#0000ff 31.4%,#0000fc 32.9%,#000080 43.5%,#000080)"></div><div style="background:linear-gradient(90deg,#09f1ee,#00e6f6 5.7%,#00d7ff 9.0%,#00a9ff 15.7%,#0051ff 24.8%,#0000ff 32.5%,#0000fd 33.9%,#000080 44.7%,#000080)"></div><div style="background:linear-gradient(90deg,#0ff8e8,#06edf1 5.9%,#00dffc 9.0%,#00b2ff 15.7%,#005cff 24.8%,#0000ff 33.5%,#0000fc 35.2%,#000080 46.2%,#000080)"></div><div style="background:linear-gradient(90deg,#15ffe2,#0df5ea 5.7%,#00e1fa 10.1%,#00d5ff 12.1%,#0099ff 19.6%,#0000ff 34.8%,#0000fc 36.4%,#000081 47.6%,#000080)"></div><div style="background:linear-gradient(90deg,#1bffdc,#12fce4 5.9%,#00e1fa 11.5%,#00d4ff 13.6%,#0090ff 21.7%,#0000ff 36.0%,#0000fd 37.7%,#000085 48.9%,#000080 49.9%,#000080)"></div><div style="background:linear-gradient(90deg,#21ffd5,#17ffe0 6.7%,#0bf4eb 9.9%,#00e1fa 13.0%,#00d4ff 14.8%,#008aff 23.5%,#0000ff 37.4%,#0000fc 39.1%,#000088 50.3%,#000080 51.6%,#000080)"></div><div style="background:linear-gradient(90deg,#28ffcf,#1dffda 7.0%,#13fde4 9.9%,#00e2f9 14.2%,#00d6ff 15.9%,#0086ff 25.2%,#0000ff 38.9%,#0000fd 40.6%,#00008d 51.8%,#000080 53.4%,#000080)"></div><div style="background:linear-gradient(90deg,#2fffc8,#24ffd3 7.0%,#13fde4 11.5%,#00e2f9 15.7%,#00d6ff 17.3%,#007aff 27.7%,#0000ff 40.6%,#0000fc 42.2%,#000092 53.2%,#000080 55.7%,#000080)"></div><div style="background:linear-gradient(90deg,#36ffc1,#2bffcc 7.2%,#13fde4 13.2%,#00e2f9 17.1%,#00d6ff 18.8%,#006eff 30.4%,#0000ff 42.2%,#0000fd 43.9%,#000097 54.9%,#000080 58.0%,#000080)"></div><div style="background:linear-gradient(90deg,#3dffba,#32ffc4 7.2%,#13fde4 14.8%,#00e3f9 18.6%,#00d6ff 20.2%,#005bff 33.9%,#0000ff 44.1%,#0000fc 46.0%,#00009b 57.0%,#000080 60.7%,#000080)"></div><div style="background:linear-gradient(90deg,#44ffb2,#3affbd 7.4%,#19ffde 15.5%,#11fbe6 16.9%,#00e2f9 20.2%,#00d5ff 21.9%,#0000ff 46.0%,#0000fc 48.0%,#0000a1 58.8%,#000080 63.8%,#000080)"></div><div style="background:linear-gradient(90deg,#4cffab,#41ffb6 7.6%,#20ffd7 15.9%,#12fce4 18.4%,#00e2fa 21.9%,#00d7ff 23.3%,#0000ff 48.0%,#0000fc 50.3%,#0000a7 61.1%,#000080 67.3%,#000080)"></div><div style="background:linear-gradient(90deg,#54ffa3,#49ffae 7.8%,#28ffcf 16.3%,#13fde4 20.0%,#00e3f9 23.5%,#00d5ff 25.2%,#0007ff 49.7%,#0000ff 50.9%,#0000fd 52.8%,#0000ad 63.6%,#000080 71.7%,#000080)"></div><div style="background:linear-gradient(90deg,#5cff9a,#52ffa5 7.8%,#32ffc5 16.3%,#13fde4 21.9%,#00e3f9 25.4%,#00d5ff 27.1%,#0016ff 50.3%,#0000ff 53.6%,#0000fd 55.7%,#0000b3 66.5%,#000080 76.7%,#000080)"></div><div style="background:linear-gradient(90deg,#65ff92,#5aff9d 8.0%,#3affbd 16.7%,#13fde4 24.0%,#00e2fa 27.5%,#00d6ff 28.9%,#0026ff 50.9%,#0000ff 56.7%,#0000fc 59.2%,#0000b9 70.0%,#00008b 80.6%,#000080 85.2%,#000080)"></div><div style="background:linear-gradient(90deg,#6eff89,#63ff94 8.2%,#42ffb5 17.3%,#13fde4 26.0%,#00e2f9 29.6%,#00d5ff 31.2%,#0036ff 51.8%,#0000ff 60.3%,#0000fd 63.0%,#0000c2 73.8%,#00009b 84.3%,#000087 94.9%,#000085)"></div><div style="background:linear-gradient(90deg,#77ff80,#6cff8b 8.4%,#4bffac 17.7%,#13fde4 28.3%,#00e3f9 31.8%,#00d6ff 33.5%,#0045ff 53.0%,#0000ff 64.4%,#0000fd 67.7%,#0000cb 78.5%,#0000ad 89.3%,#0000a3)"></div><div style="background:linear-gradient(90deg,#80ff77,#76ff81 8.6%,#55ffa2 18.2%,#13fde4 30.8%,#00e2fa 34.5%,#00d6ff 36.2%,#0054ff 54.5%,#000cff 67.1%,#0000ff 70.2%,#0000fc 74.0%,#0000d6 84.8%,#0000c4 95.5%,#0000c2)"></div><div style="background:linear-gradient(90deg,#8aff6d,#7fff78 9.0%,#5eff99 19.0%,#16ffe1 33.1%,#00e3f9 37.2%,#00d6ff 39.1%,#0062ff 56.3%,#001fff 69.0%,#0000ff 77.3%,#0000fc 82.9%,#0000e7 93.7%,#0000e3)"></div><div style="background:linear-gradient(90deg,#94ff63,#89ff6d 9.2%,#68ff8f 19.6%,#1fffd8 34.5%,#12fce4 36.8%,#00e3f9 40.6%,#00d6ff 42.4%,#006fff 58.8%,#0032ff 71.5%,#000bff 83.5%,#0000ff 90.8%,#0000ff)"></div><div style="background:linear-gradient(90deg,#9eff59,#94ff63 9.6%,#72ff85 20.4%,#27ffd0 36.4%,#13fde4 40.4%,#00e2fa 44.5%,#00d6ff 46.4%,#007dff 61.9%,#0046ff 74.6%,#0025ff 86.6%,#0019ff 98.4%,#0019ff)"></div><div style="background:linear-gradient(90deg,#a9ff4e,#9eff58 10.1%,#7dff79 21.3%,#2fffc8 38.7%,#13fde4 44.5%,#00e3f9 48.9%,#00d6ff 51.1%,#0089ff 66.1%,#005bff 78.9%,#0042ff 91.2%,#003cff)"></div><div style="background:linear-gradient(90deg,#b4ff43,#aaff4d 10.5%,#89ff6e 22.3%,#36ffc1 41.8%,#13fde4 49.5%,#00e3f9 54.5%,#00d6ff 57.0%,#0098ff 71.3%,#0073ff 84.1%,#0063ff 96.4%,#0062ff)"></div><div style="background:linear-gradient(90deg,#c0ff37,#b5ff42 11.1%,#94ff63 23.8%,#2cffcb 49.7%,#13fce4 56.1%,#00e2f9 61.9%,#00d6ff 64.8%,#00a8ff 78.5%,#0090ff 91.4%,#008bff)"></div><div style="background:linear-gradient(90deg,#ccff2b,#c1ff36 11.9%,#9fff58 25.6%,#14ffe2 64.4%,#00e3f9 72.7%,#00d6ff 77.1%,#00bdff 90.6%,#00b8ff)"></div><div style="background:linear-gradient(90deg,#d8ff1f,#cdff29 12.8%,#abff4c 27.7%,#32ffc5 65.9%,#13fce4 80.4%,#03eaf3 94.3%,#02e8f5)"></div><div style="background:linear-gradient(90deg,#e5ff12,#daff1d 14.0%,#b7ff40 30.8%,#53ffa4 67.5%,#35ffc2 85.2%,#2cffcb)"></div><div style="background:linear-gradient(90deg,#f2fb05,#e7ff10 15.9%,#c2ff35 36.0%,#76ff80 70.0%,#5eff98 88.9%,#5aff9d)"></div><div style="background:linear-gradient(90deg,#ffec00,#f6f601 17.3%,#ebff0c 26.5%,#9dff5a 74.2%,#8dff69 94.9%,#8dff6a)"></div><div style="background:linear-gradient(90deg,#ffdb00,#ffe600 22.3%,#fbf100 32.9%,#f0fd06 42.4%,#cbff2c 80.0%,#c4ff32)"></div><div style="background:linear-gradient(90deg,#ffcb00,#ffd600 42.4%,#ffe800 93.3%,#ffe900)"></div><div style="background:linear-gradient(90deg,#ffc400,#ffca00)"></div></div>
<div class="cb" style="left:303px;top:316px;width:9px;height:211px"></div>
<div class="hm" style="left:403px;top:316px;width:240px;height:211px"><div style="background:linear-gradient(90deg,#000081,#0000a0 10.5%,#0000a8 20.7%,#00008d 75.3%,#00008a)"></div><div style="background:linear-gradient(90deg,#000081,#0000a0 10.5%,#0000a9 20.7%,#00008d 75.3%,#00008a)"></div><div style="background:linear-gradient(90deg,#000081,#0000a1 10.5%,#0000aa 20.5%,#00008d 75.5%,#00008a)"></div><div style="background:linear-gradient(90deg,#000081,#0000a1 10.5%,#0000aa 20.5%,#00008d 75.5%,#00008a)"></div><div style="background:linear-gradient(90deg,#000081,#0000a1 10.3%,#0000ab 20.1%,#000098 52.4%,#00008b 90.9%,#00008b)"></div><div style="background:linear-gradient(90deg,#000081,#0000a2 10.3%,#0000ac 20.1%,#00009b 47.6%,#00008c 84.7%,#00008b)"></div><div style="background:linear-gradient(90deg,#000081,#0000a2 10.3%,#0000ac 20.1%,#00009d 45.7%,#00008d 82.2%,#00008b)"></div><div style="background:linear-gradient(90deg,#000081,#0000a2 10.3%,#0000ad 19.9%,#0000a0 42.6%,#00008e 78.6%,#00008b)"></div><div style="background:linear-gradient(90deg,#000081,#0000a3 10.3%,#0000ae 19.9%,#0000a1 41.8%,#00008e 77.6%,#00008b)"></div><div style="background:linear-gradient(90deg,#000081,#0000a3 10.3%,#0000ae 19.9%,#0000a2 41.1%,#00008f 76.8%,#00008c)"></div><div style="background:linear-gradient(90deg,#000081,#0000a4 10.3%,#0000af 19.7%,#0000a4 39.5%,#000090 75.1%,#00008c)"></div><div style="background:linear-gradient(90deg,#000081,#0000a4 10.3%,#0000b0 19.7%,#0000a5 38.9%,#000090 74.3%,#00008c)"></div><div style="background:linear-gradient(90deg,#000081,#0000a4 10.1%,#0000b0 19.3%,#0000a8 36.8%,#000091 72.6%,#00008c)"></div><div style="background:linear-gradient(90deg,#000081,#0000a5 10.1%,#0000b1 19.3%,#0000a9 36.4%,#000091 72.2%,#00008d)"></div><div style="background:linear-gradient(90deg,#000081,#0000a5 10.1%,#0000b2 19.3%,#0000aa 36.1%,#000092 72.0%,#00008d)"></div><div style="background:linear-gradient(90deg,#000081,#0000a6 10.1%,#0000b2 19.1%,#0000ab 35.1%,#000093 71.4%,#00008d)"></div><div style="background:linear-gradient(90deg,#000081,#0000a6 10.1%,#0000b3 19.1%,#0000ac 34.9%,#000093 70.9%,#00008d)"></div><div style="background:linear-gradient(90deg,#000081,#0000a7 10.1%,#0000b4 19.1%,#0000ae 34.5%,#000094 70.7%,#00008e)"></div><div style="background:linear-gradient(90deg,#000081,#0000a7 10.1%,#0000b5 19.1%,#0000ae 34.3%,#000094 70.5%,#00008e)"></div><div style="background:linear-gradient(90deg,#000081,#0000a8 10.1%,#0000b5 18.9%,#0000b0 33.4%,#000095 70.1%,#00008e)"></div><div style="background:linear-gradient(90deg,#000081,#0000a8 9.9%,#0000b6 18.6%,#0000b1 32.8%,#000095 69.9%,#00008f)"></div><div style="background:linear-gradient(90deg,#000081,#0000a8 9.9%,#0000b7 18.6%,#0000b2 32.6%,#000096 69.7%,#00008f)"></div><div style="background:linear-gradient(90deg,#000081,#0000a9 9.9%,#0000b8 18.4%,#0000b4 31.8%,#000096 69.5%,#00008f)"></div><div style="background:linear-gradient(90deg,#000081,#0000a9 9.9%,#0000b8 18.4%,#0000b5 31.6%,#000097 69.5%,#00008f)"></div><div style="background:linear-gradient(90deg,#000081,#0000aa 9.9%,#0000b9 18.4%,#0000b6 31.4%,#000097 69.3%,#000090)"></div><div style="background:linear-gradient(90deg,#000081,#0000ab 9.9%,#0000ba 18.4%,#0000b7 31.4%,#000098 69.3%,#000090)"></div><div style="background:linear-gradient(90deg,#000081,#0000ab 9.9%,#0000bb 18.2%,#0000b9 30.7%,#000098 69.3%,#000090)"></div><div style="background:linear-gradient(90deg,#000081,#0000ac 9.9%,#0000bc 18.2%,#0000ba 30.5%,#000099 69.3%,#000091)"></div><div style="background:linear-gradient(90deg,#000081,#0000ac 9.9%,#0000bd 18.2%,#0000bb 30.3%,#000099 69.3%,#000091)"></div><div style="background:linear-gradient(90deg,#000081,#0000ad 9.9%,#0000be 18.2%,#0000bc 30.1%,#00009a 69.3%,#000092)"></div><div style="background:linear-gradient(90deg,#000081,#0000ad 9.7%,#0000be 17.8%,#0000be 29.3%,#00009a 69.5%,#000092)"></div><div style="background:linear-gradient(90deg,#000081,#0000ad 9.7%,#0000bf 17.8%,#0000bf 29.1%,#00009b 69.5%,#000092)"></div><div style="background:linear-gradient(90deg,#000082,#0000ae 9.7%,#0000c0 17.8%,#0000c0 29.1%,#00009b 69.5%,#000093)"></div><div style="background:linear-gradient(90deg,#000082,#0000af 9.7%,#0000c1 17.8%,#0000c1 28.9%,#00009c 69.5%,#000093)"></div><div style="background:linear-gradient(90deg,#000082,#0000af 9.7%,#0000c2 17.6%,#0000c3 28.4%,#00009c 69.7%,#000094)"></div><div style="background:linear-gradient(90deg,#000082,#0000b0 9.7%,#0000c3 17.6%,#0000c4 28.2%,#00009d 69.7%,#000094)"></div><div style="background:linear-gradient(90deg,#000082,#0000b1 9.7%,#0000c4 17.6%,#0000c5 28.2%,#00009d 69.9%,#000094)"></div><div style="background:linear-gradient(90deg,#000082,#0000b1 9.7%,#0000c5 17.6%,#0000c6 28.0%,#00009e 69.9%,#000095)"></div><div style="background:linear-gradient(90deg,#000082,#0000b2 9.7%,#0000c5 17.4%,#0000c8 27.6%,#00009e 70.1%,#000095)"></div><div style="background:linear-gradient(90deg,#000082,#0000b3 9.7%,#0000c6 17.4%,#0000c9 27.4%,#00009f 70.3%,#000096)"></div><div style="background:linear-gradient(90deg,#000082,#0000b2 9.5%,#0000c7 17.2%,#0000cb 27.0%,#00009f 70.7%,#000096)"></div><div style="background:linear-gradient(90deg,#000082,#0000b3 9.5%,#0000c8 17.2%,#0000cc 27.0%,#0000a0 70.7%,#000097)"></div><div style="background:linear-gradient(90deg,#000082,#0000b4 9.5%,#0000c9 17.2%,#0000cd 26.8%,#0000a0 70.9%,#000097)"></div><div style="background:linear-gradient(90deg,#000082,#0000b4 9.5%,#0000ca 17.0%,#0000cf 26.4%,#0000a1 71.1%,#000098)"></div><div style="background:linear-gradient(90deg,#000082,#0000b5 9.5%,#0000cb 17.0%,#0000d0 26.4%,#0000a2 71.4%,#000098)"></div><div style="background:linear-gradient(90deg,#000082,#0000b6 9.5%,#0000cc 17.0%,#0000d2 26.1%,#0000b7 50.1%,#00009f 77.2%,#000099)"></div><div style="background:linear-gradient(90deg,#000082,#0000b7 9.5%,#0000ce 17.0%,#0000d3 26.1%,#0000ba 48.4%,#0000a0 75.5%,#000099)"></div><div style="background:linear-gradient(90deg,#000082,#0000b7 9.5%,#0000cf 17.0%,#0000d4 26.1%,#0000bd 47.2%,#0000a2 74.3%,#00009a)"></div><div style="background:linear-gradient(90deg,#000082,#0000b8 9.5%,#0000d0 17.0%,#0000d6 25.9%,#0000c1 45.1%,#0000a4 72.4%,#00009b)"></div><div style="background:linear-gradient(90deg,#000082,#0000b9 9.5%,#0000d1 16.8%,#0000d8 25.5%,#0000c5 42.8%,#0000a6 70.9%,#00009b 98.9%,#00009b)"></div><div style="background:linear-gradient(90deg,#000082,#0000ba 9.5%,#0000d2 16.8%,#0000d9 25.5%,#0000c7 42.4%,#0000a7 70.5%,#00009c 98.0%,#00009c)"></div><div style="background:linear-gradient(90deg,#000082,#0000b9 9.3%,#0000d3 16.6%,#0000db 25.1%,#0000cb 40.5%,#0000a8 69.5%,#00009d 96.6%,#00009c)"></div><div style="background:linear-gradient(90deg,#000082,#0000ba 9.3%,#0000d4 16.6%,#0000dc 25.1%,#0000cd 40.3%,#0000aa 69.3%,#00009d 96.1%,#00009d)"></div><div style="background:linear-gradient(90deg,#000082,#0000bb 9.3%,#0000d5 16.6%,#0000de 24.9%,#0000d0 39.3%,#0000ab 68.9%,#00009e 95.3%,#00009e)"></div><div style="background:linear-gradient(90deg,#000082,#0000bc 9.3%,#0000d6 16.4%,#0000df 24.7%,#0000d3 38.6%,#0000ac 68.6%,#00009f 94.9%,#00009e)"></div><div style="background:linear-gradient(90deg,#000082,#0000bd 9.3%,#0000d7 16.4%,#0000e1 24.5%,#0000d5 37.8%,#0000ad 68.4%,#00009f 94.5%,#00009f)"></div><div style="background:linear-gradient(90deg,#000082,#0000bd 9.3%,#0000d9 16.4%,#0000e2 24.5%,#0000d7 37.6%,#0000ae 68.2%,#0000a0 93.9%,#0000a0)"></div><div style="background:linear-gradient(90deg,#000082,#0000be 9.3%,#0000da 16.4%,#0000e4 24.5%,#0000d9 37.4%,#0000af 68.2%,#0000a1 93.6%,#0000a0)"></div><div style="background:linear-gradient(90deg,#000082,#0000bf 9.3%,#0000db 16.4%,#0000e6 24.3%,#0000dc 36.6%,#0000b0 68.2%,#0000a2 93.4%,#0000a1)"></div><div style="background:linear-gradient(90deg,#000082,#0000c0 9.3%,#0000dd 16.4%,#0000e7 24.3%,#0000de 36.4%,#0000b1 68.2%,#0000a3 93.2%,#0000a2)"></div><div style="background:linear-gradient(90deg,#000082,#0000c1 9.3%,#0000de 16.4%,#0000e9 24.3%,#0000e0 36.4%,#0000b2 68.2%,#0000a4 93.0%,#0000a3)"></div><div style="background:linear-gradient(90deg,#000082,#0000c2 9.3%,#0000df 16.1%,#0000eb 23.9%,#0000e3 35.3%,#0000b4 68.2%,#0000a4 92.6%,#0000a4)"></div><div style="background:linear-gradient(90deg,#000082,#0000c3 9.3%,#0000e0 16.1%,#0000ed 23.9%,#0000e5 35.1%,#0000b4 68.4%,#0000a5 92.6%,#0000a4)"></div><div style="background:linear-gradient(90deg,#000082,#0000c2 9.1%,#0000e1 15.9%,#0000ee 23.4%,#0000e8 34.3%,#0000b5 68.6%,#0000a6 92.6%,#0000a5)"></div><div style="background:linear-gradient(90deg,#000082,#0000c3 9.1%,#0000e3 15.9%,#0000f0 23.4%,#0000eb 34.1%,#0000b7 68.6%,#0000a7 92.4%,#0000a6)"></div><div style="background:linear-gradient(90deg,#000083,#0000c4 9.1%,#0000e4 15.9%,#0000f2 23.4%,#0000ed 33.9%,#0000b8 68.9%,#0000a8 92.4%,#0000a7)"></div><div style="background:linear-gradient(90deg,#000083,#0000c5 9.1%,#0000e6 15.9%,#0000f4 23.4%,#0000ef 33.9%,#0000b9 68.9%,#0000a9 92.2%,#0000a8)"></div><div style="background:linear-gradient(90deg,#000083,#0000c6 9.1%,#0000e7 15.9%,#0000f6 23.2%,#0000f2 33.2%,#0000ba 69.1%,#0000aa 92.2%,#0000a9)"></div><div style="background:linear-gradient(90deg,#000083,#0000c7 9.1%,#0000e8 15.7%,#0000f7 23.0%,#0000f4 32.8%,#0000bb 69.5%,#0000ab 92.4%,#0000aa)"></div><div style="background:linear-gradient(90deg,#000083,#0000c8 9.1%,#0000ea 15.7%,#0000f9 23.0%,#0000f7 32.6%,#0000bc 69.5%,#0000ac 92.2%,#0000ab)"></div><div style="background:linear-gradient(90deg,#000083,#0000c9 9.1%,#0000eb 15.7%,#0000fb 22.8%,#0000fa 32.2%,#0000bd 69.9%,#0000ad 92.4%,#0000ac)"></div><div style="background:linear-gradient(90deg,#000083,#0000ca 9.1%,#0000ed 15.7%,#0000fd 22.8%,#0000fc 32.2%,#0000be 69.9%,#0000ae 92.2%,#0000ad)"></div><div style="background:linear-gradient(90deg,#000083,#0000cb 9.1%,#0000ee 15.7%,#0000ff 22.6%,#0000fc 34.1%,#0000c1 69.3%,#0000b0 91.4%,#0000ae)"></div><div style="background:linear-gradient(90deg,#000083,#0000cc 9.1%,#0000f0 15.7%,#0000ff 21.8%,#0000fc 35.5%,#0000c3 68.9%,#0000b1 90.7%,#0000af)"></div><div style="background:linear-gradient(90deg,#000083,#0000cd 9.1%,#0000f2 15.7%,#0000ff 20.9%,#0000fc 37.0%,#0000c4 68.6%,#0000b2 90.3%,#0000b0)"></div><div style="background:linear-gradient(90deg,#000083,#0000ce 9.1%,#0000f3 15.5%,#0000ff 19.9%,#0000fd 38.2%,#0000c6 68.4%,#0000b4 89.9%,#0000b1)"></div><div style="background:linear-gradient(90deg,#000083,#0000cf 9.1%,#0000f4 15.5%,#0000ff 19.3%,#0000fc 39.7%,#0000c8 68.4%,#0000b5 89.7%,#0000b3)"></div><div style="background:linear-gradient(90deg,#000083,#0000cf 8.9%,#0000f5 15.3%,#0000ff 18.6%,#0000fc 40.9%,#0000c9 68.6%,#0000b6 89.7%,#0000b4)"></div><div style="background:linear-gradient(90deg,#000083,#0000d0 8.9%,#0000f7 15.3%,#0000ff 18.0%,#0000fd 42.2%,#0000cb 68.9%,#0000b8 89.7%,#0000b5)"></div><div style="background:linear-gradient(90deg,#000083,#0000d1 8.9%,#0000f9 15.3%,#0000ff 17.6%,#0000fc 43.4%,#0000cc 69.1%,#0000b9 89.7%,#0000b6)"></div><div style="background:linear-gradient(90deg,#000083,#0000d2 8.9%,#0000fb 15.3%,#0000ff 17.6%,#0002ff 31.6%,#0000fc 44.7%,#0000cd 69.5%,#0000ba 89.9%,#0000b8)"></div><div style="background:linear-gradient(90deg,#000083,#0000d3 8.9%,#0000fd 15.3%,#0003ff 23.0%,#0004ff 32.0%,#0000ff 41.4%,#0000fb 46.4%,#0000ce 70.1%,#0000bb 90.3%,#0000b9)"></div><div style="background:linear-gradient(90deg,#000083,#0000d5 8.9%,#0000fe 15.3%,#0003ff 21.6%,#0008ff 29.9%,#0000ff 40.7%,#0000fc 47.4%,#0000cf 70.5%,#0000bd 90.5%,#0000bb)"></div><div style="background:linear-gradient(90deg,#000083,#0000d6 8.9%,#0000ff 15.1%,#0003ff 20.5%,#000bff 28.4%,#0000ff 42.0%,#0000fc 48.4%,#0000d1 70.9%,#0000be 90.9%,#0000bc)"></div><div style="background:linear-gradient(90deg,#000083,#0000d7 8.9%,#0000ff 14.7%,#0003ff 19.7%,#000dff 27.4%,#0003ff 38.4%,#0000ff 46.8%,#0000f5 52.8%,#0000cf 73.6%,#0000bf 93.4%,#0000be)"></div><div style="background:linear-gradient(90deg,#000083,#0000d8 8.9%,#0000ff 14.5%,#0003ff 18.9%,#0010ff 26.4%,#0009ff 36.6%,#0000ff 43.6%,#0000fc 50.7%,#0000d3 72.2%,#0000c1 91.8%,#0000bf)"></div><div style="background:linear-gradient(90deg,#000083,#0000d9 8.9%,#0000ff 14.1%,#0003ff 18.2%,#0012ff 25.5%,#000eff 35.1%,#0000ff 44.9%,#0000fc 52.0%,#0000d4 73.0%,#0000c2 92.4%,#0000c1)"></div><div style="background:linear-gradient(90deg,#000084,#0000db 8.9%,#0000ff 13.9%,#0003ff 17.6%,#0013ff 24.7%,#0012ff 33.9%,#0000ff 46.1%,#0000fc 53.0%,#0000d5 73.6%,#0000c4 92.8%,#0000c2)"></div><div style="background:linear-gradient(90deg,#000084,#0000dc 8.9%,#0000ff 13.6%,#0003ff 17.2%,#0015ff 24.3%,#0015ff 33.0%,#0000ff 47.4%,#0000fc 54.3%,#0000d6 74.5%,#0000c5 93.6%,#0000c4)"></div><div style="background:linear-gradient(90deg,#000084,#0000dd 8.9%,#0000ff 13.4%,#0003ff 16.8%,#0017ff 23.6%,#0019ff 32.2%,#0000ff 48.6%,#0000fc 55.5%,#0000d6 75.3%,#0000c7 94.3%,#0000c6)"></div><div style="background:linear-gradient(90deg,#000084,#0000de 8.9%,#0000ff 13.0%,#0002ff 16.1%,#0018ff 22.8%,#001dff 30.9%,#0009ff 43.9%,#0000ff 49.7%,#0000fc 56.6%,#0000d8 75.9%,#0000c8 94.7%,#0000c8)"></div><div style="background:linear-gradient(90deg,#000084,#0000e0 8.9%,#0000ff 12.8%,#0003ff 15.9%,#001aff 22.6%,#0020ff 30.5%,#000eff 42.8%,#0000ff 50.7%,#0000fc 57.8%,#0000d8 77.0%,#0000ca 95.5%,#0000c9)"></div><div style="background:linear-gradient(90deg,#000084,#0000e1 8.9%,#0000ff 12.6%,#0002ff 15.3%,#001bff 22.0%,#0023ff 29.7%,#0015ff 40.9%,#0000ff 52.0%,#0000fc 59.1%,#0000da 77.8%,#0000cc 96.4%,#0000cb)"></div><div style="background:linear-gradient(90deg,#000084,#0000e2 8.9%,#0000ff 12.4%,#0003ff 15.1%,#001dff 21.6%,#0026ff 29.1%,#001bff 39.7%,#0000ff 53.2%,#0000fc 60.3%,#0000da 78.9%,#0000cd 97.2%,#0000cd)"></div><div style="background:linear-gradient(90deg,#000084,#0000e4 8.9%,#0000ff 12.2%,#0003ff 14.7%,#001eff 21.1%,#0029ff 28.4%,#0020ff 38.4%,#0000ff 54.5%,#0000fc 61.6%,#0000db 79.9%,#0000cf 98.0%,#0000cf)"></div><div style="background:linear-gradient(90deg,#000084,#0000e3 8.6%,#0000ff 12.0%,#0003ff 14.5%,#0020ff 20.9%,#002cff 28.2%,#0024ff 38.0%,#0000ff 55.5%,#0000fc 62.8%,#0000dd 80.7%,#0000d1 98.6%,#0000d1)"></div><div style="background:linear-gradient(90deg,#000084,#0000e5 8.6%,#0000ff 11.8%,#0003ff 14.1%,#0022ff 20.5%,#002fff 27.6%,#0029ff 37.0%,#0000ff 56.8%,#0000fc 64.1%,#0000de 81.8%,#0000d3 99.7%,#0000d3)"></div><div style="background:linear-gradient(90deg,#000084,#0000e6 8.6%,#0000ff 11.6%,#0003ff 13.9%,#0023ff 20.1%,#0031ff 27.0%,#002eff 35.9%,#0000ff 58.0%,#0000fc 65.3%,#0000df 82.8%,#0000d5)"></div><div style="background:linear-gradient(90deg,#000084,#0000e7 8.6%,#0000ff 11.4%,#0002ff 13.4%,#0024ff 19.7%,#0034ff 26.6%,#0032ff 35.1%,#000fff 52.0%,#0000ff 59.5%,#0000fc 66.8%,#0000e0 84.1%,#0000d8)"></div><div style="background:linear-gradient(90deg,#000084,#0000e9 8.6%,#0000ff 11.1%,#0003ff 13.2%,#0026ff 19.5%,#0037ff 26.1%,#0036ff 34.5%,#0019ff 49.3%,#0000ff 60.5%,#0000fc 68.0%,#0000e1 85.3%,#0000da)"></div><div style="background:linear-gradient(90deg,#000084,#0000ea 8.6%,#0000ff 10.9%,#0003ff 13.0%,#0027ff 19.3%,#003aff 25.9%,#003aff 34.1%,#0020ff 47.8%,#0000ff 62.0%,#0000fc 69.7%,#0000e2 86.8%,#0000dc)"></div><div style="background:linear-gradient(90deg,#000084,#0000ec 8.6%,#0000ff 10.7%,#0002ff 12.6%,#0028ff 18.9%,#003cff 25.5%,#003fff 33.4%,#0028ff 45.9%,#0000ff 63.2%,#0000fc 71.1%,#0000e4 88.0%,#0000df)"></div><div style="background:linear-gradient(90deg,#000084,#0000ed 8.6%,#0000ff 10.5%,#0002ff 12.4%,#002aff 18.6%,#003fff 25.1%,#0043ff 32.8%,#002fff 44.5%,#0000ff 64.5%,#0000fc 72.6%,#0000e5 89.3%,#0000e1)"></div><div style="background:linear-gradient(90deg,#000084,#0000ef 8.6%,#0000ff 10.3%,#0002ff 12.2%,#002bff 18.4%,#0042ff 24.9%,#0046ff 32.6%,#0034ff 43.9%,#0000ff 65.7%,#0000fc 74.3%,#0000e7 90.7%,#0000e4)"></div><div style="background:linear-gradient(90deg,#000085,#0000f0 8.6%,#0000ff 10.1%,#0002ff 12.0%,#002dff 18.2%,#0045ff 24.7%,#004aff 32.2%,#003aff 43.0%,#0000ff 67.0%,#0000fc 75.9%,#0000e9 92.2%,#0000e7)"></div><div style="background:linear-gradient(90deg,#000085,#0000f2 8.6%,#0000ff 10.1%,#0002ff 11.8%,#002dff 17.8%,#0046ff 24.1%,#004eff 31.4%,#0042ff 41.4%,#0000ff 68.4%,#0000fc 77.8%,#0000eb 94.1%,#0000e9)"></div><div style="background:linear-gradient(90deg,#000085,#0000f3 8.6%,#0000ff 9.9%,#0002ff 11.6%,#002fff 17.6%,#0049ff 23.9%,#0052ff 30.9%,#0047ff 40.5%,#0000ff 69.7%,#0000fc 79.7%,#0000ed 95.7%,#0000ec)"></div><div style="background:linear-gradient(90deg,#000085,#0000f5 8.6%,#0000ff 9.7%,#0002ff 11.4%,#0030ff 17.4%,#004cff 23.6%,#0056ff 30.7%,#004cff 40.1%,#0000ff 71.1%,#0000fc 82.0%,#0000ef 97.8%,#0000ef)"></div><div style="background:linear-gradient(90deg,#000085,#0000f7 8.6%,#0000ff 9.7%,#0002ff 11.1%,#0032ff 17.2%,#004eff 23.2%,#005aff 30.1%,#0052ff 39.1%,#0000ff 72.6%,#0000fc 84.3%,#0000f2)"></div><div style="background:linear-gradient(90deg,#000085,#0000f8 8.6%,#0000ff 9.5%,#0002ff 10.9%,#0033ff 17.0%,#0051ff 23.0%,#005eff 29.9%,#0057ff 38.6%,#001fff 60.5%,#0000ff 74.9%,#0000fc 87.2%,#0000f5)"></div><div style="background:linear-gradient(90deg,#000085,#0000fa 8.6%,#0000ff 9.3%,#0002ff 10.7%,#0035ff 16.8%,#0054ff 22.8%,#0062ff 29.5%,#005dff 37.8%,#0036ff 53.6%,#0004ff 73.6%,#0000ff 79.3%,#0000fb 91.8%,#0000f8)"></div><div style="background:linear-gradient(90deg,#000085,#0000fc 8.6%,#0000ff 10.1%,#003dff 17.6%,#005aff 23.6%,#0066ff 30.5%,#005fff 39.3%,#0009ff 73.2%,#0000ff 79.9%,#0000fc)"></div><div style="background:linear-gradient(90deg,#000085,#0000fd 8.6%,#0001ff 10.3%,#0037ff 16.4%,#0059ff 22.4%,#0069ff 28.9%,#0068ff 36.8%,#004aff 49.7%,#000eff 72.2%,#0000ff 81.6%,#0000ff)"></div><div style="background:linear-gradient(90deg,#000085,#0000ff 8.6%,#0003ff 10.3%,#003aff 16.4%,#005dff 22.4%,#006eff 28.9%,#006cff 36.8%,#004fff 49.5%,#0012ff 72.2%,#0000ff 83.9%,#0000ff)"></div><div style="background:linear-gradient(90deg,#000085,#0000fe 8.4%,#0003ff 10.1%,#003bff 16.1%,#005fff 22.0%,#0071ff 28.4%,#0072ff 36.1%,#0059ff 47.8%,#0016ff 72.0%,#0000ff 85.9%,#0000ff)"></div><div style="background:linear-gradient(90deg,#000085,#0000fd 8.2%,#0002ff 9.9%,#003cff 15.9%,#0061ff 21.8%,#0075ff 28.0%,#0077ff 35.5%,#0062ff 46.4%,#001aff 72.2%,#0000ff 88.0%,#0000ff)"></div><div style="background:linear-gradient(90deg,#000085,#0000ff 8.2%,#0002ff 9.7%,#003dff 15.7%,#0064ff 21.6%,#0079ff 27.8%,#007cff 35.1%,#0069ff 45.5%,#001dff 72.4%,#0004ff 88.0%,#0000ff)"></div><div style="background:linear-gradient(90deg,#000085,#0000fe 8.0%,#0003ff 9.7%,#0040ff 15.7%,#0068ff 21.6%,#007dff 27.8%,#0081ff 35.1%,#006eff 45.3%,#0021ff 72.6%,#0007ff 88.2%,#0001ff)"></div><div style="background:linear-gradient(90deg,#000086,#0000ff 8.0%,#0003ff 9.5%,#0041ff 15.5%,#006aff 21.4%,#0081ff 27.4%,#0087ff 34.5%,#0077ff 44.1%,#0024ff 73.0%,#000aff 88.4%,#0004ff)"></div><div style="background:linear-gradient(90deg,#000086,#0000fe 7.8%,#0002ff 9.3%,#0042ff 15.3%,#006dff 21.1%,#0085ff 27.2%,#008cff 34.1%,#007eff 43.2%,#0027ff 73.4%,#000eff 88.6%,#0008ff)"></div><div style="background:linear-gradient(90deg,#000086,#0000ff 7.8%,#0001ff 9.1%,#0043ff 15.1%,#006fff 20.9%,#0089ff 27.0%,#0091ff 33.9%,#0085ff 42.8%,#002bff 73.6%,#0012ff 88.9%,#000cff)"></div><div style="background:linear-gradient(90deg,#000086,#0000fe 7.6%,#0003ff 9.1%,#0046ff 15.1%,#0073ff 20.9%,#008eff 27.0%,#0096ff 33.9%,#008bff 42.6%,#002fff 74.1%,#0015ff 89.1%,#0010ff)"></div><div style="background:linear-gradient(90deg,#000086,#0000ff 7.6%,#0002ff 8.9%,#0047ff 14.9%,#0074ff 20.5%,#0090ff 26.4%,#009bff 33.0%,#0093ff 41.4%,#0062ff 57.8%,#002fff 75.7%,#0018ff 90.5%,#0014ff)"></div><div style="background:linear-gradient(90deg,#000086,#0000fe 7.4%,#0001ff 8.6%,#004aff 14.9%,#0078ff 20.5%,#0095ff 26.4%,#00a1ff 32.8%,#0099ff 40.9%,#006fff 55.5%,#0037ff 74.5%,#001eff 89.3%,#0018ff)"></div><div style="background:linear-gradient(90deg,#000086,#0000ff 7.4%,#0003ff 8.6%,#004cff 14.9%,#007cff 20.5%,#009aff 26.4%,#00a6ff 32.8%,#009fff 40.9%,#0077ff 54.9%,#003cff 74.3%,#0023ff 88.9%,#001cff)"></div><div style="background:linear-gradient(90deg,#000086,#0000ff 7.2%,#0002ff 8.4%,#004dff 14.7%,#007fff 20.3%,#009eff 26.1%,#00acff 32.6%,#00a6ff 40.5%,#0082ff 53.4%,#0042ff 73.9%,#0028ff 88.4%,#0021ff)"></div><div style="background:linear-gradient(90deg,#000086,#0000ff 7.2%,#0003ff 8.4%,#0050ff 14.7%,#0083ff 20.3%,#00a3ff 26.1%,#00b1ff 32.4%,#00adff 40.1%,#008cff 52.2%,#0048ff 73.6%,#002dff 88.0%,#0025ff)"></div><div style="background:linear-gradient(90deg,#000086,#0000fe 7.0%,#0002ff 8.2%,#0051ff 14.5%,#0085ff 20.1%,#00a6ff 25.7%,#00b6ff 32.0%,#00b4ff 39.5%,#0098ff 50.5%,#004dff 73.6%,#0032ff 88.0%,#002aff)"></div><div style="background:linear-gradient(90deg,#000086,#0000ff 7.0%,#0001ff 8.0%,#0052ff 14.3%,#0087ff 19.9%,#00aaff 25.5%,#00bcff 31.8%,#00bbff 39.1%,#00a1ff 49.7%,#0052ff 73.9%,#0037ff 88.0%,#002fff)"></div><div style="background:linear-gradient(90deg,#000086,#0000fe 6.8%,#0003ff 8.0%,#0054ff 14.3%,#008bff 19.9%,#00afff 25.5%,#00c1ff 31.6%,#00c1ff 38.9%,#00aaff 49.1%,#0057ff 74.1%,#003bff 88.2%,#0034ff)"></div><div style="background:linear-gradient(90deg,#000087,#0000ff 6.8%,#0001ff 7.8%,#0055ff 14.1%,#008eff 19.7%,#00b3ff 25.3%,#00c7ff 31.4%,#00c8ff 38.4%,#00b3ff 48.2%,#005dff 74.3%,#0041ff 88.2%,#0039ff)"></div><div style="background:linear-gradient(90deg,#000087,#0000fe 6.6%,#0003ff 7.8%,#0058ff 14.1%,#0092ff 19.7%,#00b8ff 25.3%,#00cdff 31.4%,#00cfff 38.4%,#00baff 48.0%,#0062ff 74.5%,#0046ff 88.4%,#003eff)"></div><div style="background:linear-gradient(90deg,#000087,#0000ff 6.6%,#0001ff 7.6%,#0058ff 13.9%,#0094ff 19.5%,#00bcff 25.1%,#00d2ff 30.9%,#00d6ff 37.8%,#00c5ff 46.8%,#0066ff 75.1%,#004bff 88.9%,#0044ff)"></div><div style="background:linear-gradient(90deg,#000087,#0000fd 6.4%,#0003ff 7.6%,#005bff 13.9%,#0098ff 19.5%,#00c1ff 25.1%,#00d8ff 30.9%,#00ddfe 37.6%,#00cdff 46.4%,#006cff 75.5%,#0051ff 89.1%,#0049ff)"></div><div style="background:linear-gradient(90deg,#000087,#0000ff 6.4%,#0001ff 7.4%,#005cff 13.6%,#009bff 19.3%,#00c4ff 24.7%,#00ddfe 30.5%,#00e4f8 37.2%,#00d6ff 45.7%,#0071ff 75.9%,#0056ff 89.5%,#004fff)"></div><div style="background:linear-gradient(90deg,#000087,#0000ff 6.4%,#0003ff 7.4%,#005fff 13.6%,#009fff 19.3%,#00c9ff 24.7%,#00dffc 29.3%,#04ebf2 35.5%,#00e4f8 43.2%,#00d5ff 48.6%,#0079ff 75.3%,#005dff 88.9%,#0055ff)"></div><div style="background:linear-gradient(90deg,#000087,#0000fe 6.1%,#0001ff 7.2%,#0062ff 13.6%,#00a3ff 19.3%,#00cfff 24.7%,#00dffc 27.8%,#09f0ee 33.9%,#07efef 41.1%,#00dffc 48.0%,#00bbff 58.2%,#007dff 76.4%,#0062ff 89.7%,#005cff)"></div><div style="background:linear-gradient(90deg,#000087,#0000ff 6.1%,#0003ff 7.2%,#0065ff 13.6%,#00a7ff 19.3%,#00d4ff 24.7%,#00e1fa 27.0%,#0df5ea 32.8%,#0ff8e8 39.7%,#00e4f8 48.9%,#00d6ff 53.0%,#0087ff 75.3%,#006aff 88.6%,#0062ff)"></div><div style="background:linear-gradient(90deg,#000087,#0000fd 5.9%,#0001ff 7.0%,#0065ff 13.4%,#00a9ff 19.1%,#00d8ff 24.5%,#03e9f4 27.4%,#13fde4 33.2%,#14fee3 40.9%,#01e7f6 50.5%,#00d7ff 54.9%,#008eff 75.5%,#0071ff 88.6%,#0069ff)"></div><div style="background:linear-gradient(90deg,#000087,#0000ff 5.9%,#0003ff 7.0%,#0068ff 13.4%,#00aeff 19.1%,#00ddfd 24.5%,#04ebf3 26.6%,#15ffe1 31.6%,#1cffdb 38.9%,#12fce4 45.9%,#00e2fa 54.3%,#00d5ff 57.6%,#0093ff 76.4%,#0077ff 89.5%,#006fff)"></div><div style="background:linear-gradient(90deg,#000087,#0000ff 5.9%,#0001ff 6.8%,#0068ff 13.2%,#00b0ff 18.9%,#00defd 23.9%,#05ecf2 25.7%,#16ffe1 29.9%,#22ffd5 36.8%,#1affdd 45.3%,#12fce5 49.1%,#00e1fa 56.6%,#00d5ff 59.9%,#0098ff 77.2%,#007dff 90.1%,#0076ff)"></div><div style="background:linear-gradient(90deg,#000088,#0000fe 5.7%,#0002ff 6.8%,#006bff 13.2%,#00b4ff 18.9%,#00dffc 23.2%,#05ecf2 24.9%,#16ffe1 28.4%,#27ffd0 35.1%,#25ffd2 43.0%,#13fde4 51.4%,#00e2fa 58.6%,#00d6ff 61.8%,#009dff 78.2%,#0083ff 90.9%,#007eff)"></div><div style="background:linear-gradient(90deg,#000088,#0000ff 5.7%,#0000ff 6.6%,#006bff 13.0%,#00b6ff 18.6%,#00dffc 22.6%,#04ebf2 24.1%,#16ffe1 27.2%,#2affcc 33.6%,#2dffc9 41.1%,#19ffde 51.6%,#12fbe5 54.3%,#00e2f9 60.7%,#00d5ff 64.1%,#00a1ff 79.5%,#008aff 92.0%,#0085ff)"></div><div style="background:linear-gradient(90deg,#000088,#0000ff 5.7%,#0002ff 6.6%,#006eff 13.0%,#00baff 18.6%,#00defd 22.0%,#05ebf2 23.4%,#16ffe0 26.4%,#2effc9 32.6%,#35ffc2 39.9%,#26ffd1 49.5%,#12fce4 56.4%,#00e2fa 63.0%,#00d6ff 66.1%,#00a6ff 80.9%,#0090ff 93.2%,#008dff)"></div><div style="background:linear-gradient(90deg,#000088,#0000fe 5.5%,#0003ff 6.6%,#0071ff 13.0%,#00bfff 18.6%,#00ddfe 21.4%,#03e9f4 22.6%,#15ffe1 25.3%,#31ffc6 31.6%,#3cffbb 38.4%,#32ffc5 47.2%,#13fce4 58.6%,#00e2fa 65.3%,#00d5ff 68.6%,#00aaff 82.6%,#0097ff 94.9%,#0095ff)"></div><div style="background:linear-gradient(90deg,#000088,#0000ff 5.5%,#0001ff 6.4%,#0074ff 13.0%,#00c3ff 18.6%,#00ddfd 20.9%,#04eaf3 22.2%,#16ffe1 24.7%,#34ffc2 30.7%,#42ffb5 37.6%,#3cffbb 45.9%,#17ffe0 59.7%,#00e2f9 67.6%,#00d6ff 70.9%,#00aeff 84.5%,#009eff 96.6%,#009dff)"></div><div style="background:linear-gradient(90deg,#000088,#0000ff 5.5%,#0002ff 6.4%,#0077ff 13.0%,#00c8ff 18.6%,#00defd 20.5%,#05ebf2 21.8%,#16ffe0 24.1%,#38ffbf 30.1%,#48ffaf 36.8%,#45ffb2 44.7%,#28ffcf 56.6%,#13fde4 63.2%,#00e2f9 70.1%,#00d6ff 73.4%,#00b3ff 86.4%,#00a6ff 98.2%,#00a6ff)"></div><div style="background:linear-gradient(90deg,#000088,#0000fe 5.3%,#0000ff 6.1%,#007aff 13.0%,#00ccff 18.6%,#00defd 20.1%,#03eaf3 21.1%,#16ffe0 23.4%,#3bffbc 29.5%,#4dffa9 35.9%,#4effa9 43.6%,#36ffc0 54.5%,#13fde4 65.7%,#00e3f9 72.6%,#00d7ff 76.1%,#00b8ff 88.6%,#00aeff)"></div><div style="background:linear-gradient(90deg,#000088,#0000ff 5.3%,#0001ff 6.1%,#007aff 12.8%,#00ceff 18.4%,#00defd 19.7%,#04eaf3 20.7%,#16ffe1 22.8%,#3dffb9 28.9%,#53ffa4 35.3%,#56ffa1 42.8%,#43ffb4 52.8%,#13fde4 68.2%,#00e3f9 75.3%,#00d7ff 79.3%,#00bdff 91.4%,#00b7ff)"></div><div style="background:linear-gradient(90deg,#000088,#0000ff 5.3%,#0003ff 6.1%,#007dff 12.8%,#00d2ff 18.4%,#00e0fb 19.5%,#06edf1 20.5%,#17ffe0 22.4%,#40ffb7 28.2%,#58ff9f 34.5%,#5eff99 41.6%,#50ffa6 50.7%,#13fde4 70.7%,#00e3f9 78.4%,#00d7ff 82.8%,#00c3ff 94.7%,#00c1ff)"></div><div style="background:linear-gradient(90deg,#000088,#0000fd 5.1%,#0000ff 5.9%,#0080ff 12.8%,#00d7ff 18.4%,#01e7f5 19.7%,#16ffe1 21.8%,#42ffb5 27.6%,#5dff9a 33.9%,#66ff91 40.9%,#5bff9c 49.9%,#13fde4 73.6%,#00e3f9 82.0%,#00d7ff 87.2%,#00caff 98.6%,#00caff)"></div><div style="background:linear-gradient(90deg,#000088,#0000ff 5.1%,#0001ff 5.9%,#0083ff 12.8%,#00dbff 18.4%,#03e9f4 19.5%,#16ffe1 21.4%,#44ffb2 27.2%,#61ff96 33.2%,#6dff8a 40.1%,#66ff91 48.4%,#3cffba 63.0%,#13fde4 76.6%,#00e3f9 86.1%,#00d8ff 93.2%,#00d4ff)"></div><div style="background:linear-gradient(90deg,#000089,#0000ff 5.1%,#0003ff 5.9%,#0086ff 12.8%,#00ddfe 18.2%,#02e8f5 19.1%,#16ffe1 20.9%,#47ffb0 26.8%,#66ff91 32.8%,#74ff83 39.5%,#70ff87 47.6%,#4effa9 60.3%,#13fde4 80.1%,#00e4f8 91.4%,#00defd)"></div><div style="background:linear-gradient(90deg,#000089,#0000ff 5.1%,#0000ff 5.7%,#0085ff 12.6%,#00defd 18.0%,#06edf1 19.1%,#16ffe1 20.5%,#49ffad 26.4%,#6bff8c 32.4%,#7bff7b 39.1%,#79ff7e 47.0%,#5cff9b 58.6%,#1bffdb 80.1%,#12fbe5 84.7%,#04eaf3 96.1%,#03e9f4)"></div><div style="background:linear-gradient(90deg,#000089,#0000fe 4.9%,#0001ff 5.7%,#0088ff 12.6%,#00dcfe 17.6%,#02e8f4 18.4%,#15ffe2 20.1%,#4bffab 25.9%,#70ff87 32.0%,#82ff75 38.4%,#82ff74 46.1%,#6aff8c 57.0%,#24ffd3 80.3%,#12fce4 89.7%,#0bf3eb)"></div><div style="background:linear-gradient(90deg,#000089,#0000ff 4.9%,#0003ff 5.7%,#008bff 12.6%,#00ddfe 17.4%,#03eaf3 18.2%,#14ffe2 19.7%,#4dffaa 25.5%,#74ff83 31.6%,#89ff6e 38.0%,#8bff6b 45.5%,#77ff80 55.7%,#2cffcb 80.7%,#17ffe0 93.6%,#14ffe3)"></div><div style="background:linear-gradient(90deg,#000089,#0000ff 4.9%,#0000ff 5.5%,#0092ff 12.8%,#00defd 17.2%,#04ebf2 18.0%,#16ffe1 19.5%,#51ffa6 25.3%,#78ff7f 31.1%,#8fff68 37.4%,#94ff62 44.7%,#84ff72 54.3%,#34ffc3 81.4%,#20ffd7 94.3%,#1dffd9)"></div><div style="background:linear-gradient(90deg,#000089,#0000fd 4.7%,#0001ff 5.5%,#0091ff 12.6%,#00defc 17.0%,#02e9f4 17.6%,#15ffe2 19.1%,#52ffa5 24.9%,#7cff7b 30.7%,#95ff61 37.0%,#9dff5a 44.1%,#90ff67 53.2%,#3cffbb 82.0%,#29ffce 94.7%,#27ffd0)"></div><div style="background:linear-gradient(90deg,#000089,#0000fe 4.7%,#0002ff 5.5%,#0094ff 12.6%,#00dbff 16.6%,#03e9f4 17.4%,#16ffe1 18.9%,#55ffa2 24.7%,#81ff76 30.5%,#9cff5b 36.8%,#a6ff51 43.9%,#9bff5c 52.6%,#45ffb2 82.6%,#32ffc4 95.3%,#31ffc6)"></div><div style="background:linear-gradient(90deg,#000089,#0000ff 4.7%,#0003ff 5.5%,#0097ff 12.6%,#00dcff 16.4%,#04eaf3 17.2%,#17ffe0 18.6%,#58ff9f 24.5%,#86ff71 30.3%,#a3ff54 36.6%,#aeff49 43.4%,#a6ff51 52.0%,#78ff7f 68.0%,#4bffab 84.3%,#3cffbb 96.8%,#3bffbc)"></div><div style="background:linear-gradient(90deg,#000089,#0000ff 4.7%,#0000ff 5.3%,#009aff 12.6%,#00dcff 16.1%,#04eaf3 17.0%,#15ffe2 18.2%,#59ff9e 24.1%,#89ff6e 29.9%,#a8ff4f 35.9%,#b6ff41 42.6%,#b2ff45 50.7%,#90ff66 63.6%,#59ff9d 82.6%,#47ffb0 95.3%,#45ffb2)"></div><div style="background:linear-gradient(90deg,#000089,#0000ff 4.7%,#0001ff 5.3%,#009dff 12.6%,#00dcff 15.9%,#04ebf3 16.8%,#15ffe1 18.0%,#5dff9a 24.1%,#8fff68 29.9%,#afff47 35.9%,#bfff38 42.6%,#bbff3b 50.7%,#9cff5b 63.2%,#64ff93 82.8%,#51ffa5 95.5%,#50ffa7)"></div><div style="background:linear-gradient(90deg,#000089,#0000fd 4.5%,#0002ff 5.3%,#009fff 12.6%,#00dcff 15.7%,#04ebf3 16.6%,#16ffe1 17.8%,#60ff97 23.9%,#94ff63 29.7%,#b6ff41 35.7%,#c7ff30 42.4%,#c6ff31 50.3%,#abff4c 62.0%,#6fff88 82.8%,#5cff9a 95.5%,#5bff9c)"></div><div style="background:linear-gradient(90deg,#00008a,#0000fe 4.5%,#0003ff 5.3%,#00a2ff 12.6%,#00dbff 15.5%,#04ebf3 16.4%,#16ffe1 17.6%,#62ff95 23.6%,#98ff5f 29.5%,#bcff3b 35.5%,#cfff28 42.2%,#d0ff27 49.9%,#b8ff3e 60.9%,#7aff7d 83.0%,#68ff8f 95.5%,#66ff91)"></div><div style="background:linear-gradient(90deg,#00008a,#0000ff 4.5%,#0000ff 5.1%,#00a9ff 12.8%,#00defc 15.5%,#04eaf3 16.1%,#16ffe1 17.4%,#64ff93 23.4%,#9cff5b 29.3%,#c2ff35 35.3%,#d7ff20 41.8%,#daff1d 49.3%,#c7ff30 59.7%,#84ff73 83.4%,#73ff84 95.9%,#72ff85)"></div><div style="background:linear-gradient(90deg,#00008a,#0000ff 4.5%,#0000ff 5.1%,#00a7ff 12.6%,#00defd 15.3%,#03eaf3 15.9%,#16ffe1 17.2%,#66ff91 23.2%,#a0ff57 29.1%,#c8ff2e 35.1%,#dfff18 41.6%,#e4ff13 49.1%,#d3ff23 59.1%,#8fff68 84.1%,#7eff78 96.6%,#7dff79)"></div><div style="background:linear-gradient(90deg,#00008a,#0000ff 4.5%,#0001ff 5.1%,#00aaff 12.6%,#00ddfe 15.1%,#03e9f4 15.7%,#16ffe1 17.0%,#68ff8f 23.0%,#a4ff53 28.9%,#ceff29 34.9%,#e7ff10 41.4%,#eeff09 48.6%,#e0ff16 58.2%,#9aff5d 84.7%,#8aff6d 97.2%,#8aff6d)"></div><div style="background:linear-gradient(90deg,#00008a,#0000fc 4.3%,#0002ff 5.1%,#00acff 12.6%,#00dcff 14.9%,#02e8f5 15.5%,#16ffe1 16.8%,#6cff8b 23.0%,#a9ff4e 28.9%,#d5ff22 34.9%,#effe08 41.4%,#f8f500 47.8%,#f0fd06 55.7%,#bdff3a 75.3%,#9eff59 89.7%,#96ff61)"></div><div style="background:linear-gradient(90deg,#00008a,#0000fd 4.3%,#0003ff 5.1%,#00afff 12.6%,#00defc 14.9%,#04ebf2 15.5%,#15ffe2 16.6%,#6dff8a 22.8%,#adff4a 28.6%,#dbff1c 34.7%,#f1fc06 39.3%,#faf200 42.4%,#ffea00 47.8%,#fbf000 55.7%,#f2fb05 60.3%,#e9ff0e 64.1%,#b2ff45 85.1%,#a3ff53 97.6%,#a3ff54)"></div><div style="background:linear-gradient(90deg,#00008a,#0000fe 4.3%,#0000ff 4.9%,#00baff 13.0%,#00ddfe 14.7%,#03eaf3 15.3%,#14ffe3 16.4%,#6eff88 22.6%,#b0ff47 28.4%,#e0ff17 34.5%,#f1fc06 37.6%,#faf200 39.7%,#ffe700 42.6%,#ffde00 49.5%,#ffe900 58.2%,#f6f601 63.4%,#ecff0b 67.4%,#bdff3a 86.1%,#b0ff47 98.6%,#b0ff47)"></div><div style="background:linear-gradient(90deg,#00008a,#0000ff 4.3%,#0000ff 4.9%,#00b3ff 12.6%,#00dbff 14.5%,#02e8f5 15.1%,#17ffe0 16.4%,#72ff85 22.6%,#b7ff40 28.6%,#e8ff0f 34.7%,#f2fb05 36.4%,#fcf000 38.2%,#ffe300 41.1%,#ffd300 47.8%,#ffd700 55.7%,#fcef00 65.7%,#f2fb04 69.5%,#e9ff0e 72.8%,#c6ff31 88.6%,#bdff39)"></div><div style="background:linear-gradient(90deg,#00008a,#0000ff 4.3%,#0001ff 4.9%,#00b5ff 12.6%,#00defd 14.5%,#04ebf2 15.1%,#16ffe1 16.1%,#73ff84 22.4%,#baff3d 28.4%,#edff0a 34.5%,#faf200 36.6%,#ffe700 38.4%,#ffce00 44.7%,#ffc700 51.8%,#ffd500 61.1%,#fcef00 70.5%,#f2fb04 74.3%,#eaff0d 77.6%,#d0ff27 91.8%,#cbff2c)"></div><div style="background:linear-gradient(90deg,#00008a,#0000ff 4.3%,#0001ff 4.9%,#00b7ff 12.6%,#00dcff 14.3%,#03e9f4 14.9%,#14ffe2 15.9%,#76ff81 22.4%,#beff38 28.4%,#f0fd07 34.1%,#faf200 35.5%,#ffe600 37.2%,#ffc800 43.2%,#ffbc00 50.1%,#ffc200 58.6%,#fcef00 75.5%,#f2fb04 79.7%,#eaff0d 83.9%,#daff1d 96.8%,#d9ff1e)"></div><div style="background:linear-gradient(90deg,#00008a,#0000ff 4.3%,#0002ff 4.9%,#00beff 12.8%,#00defd 14.3%,#05ebf2 14.9%,#16ffe0 15.9%,#79ff7d 22.4%,#c3ff34 28.4%,#f0fe07 33.2%,#fbf100 34.7%,#ffe600 36.1%,#ffc300 42.2%,#ffb100 48.9%,#ffb200 56.8%,#ffce00 69.3%,#fdef00 81.4%,#f2fb05 87.0%,#eaff0d 93.4%,#e7ff10)"></div><div style="background:linear-gradient(90deg,#00008a,#0000fc 4.1%,#0003ff 4.9%,#00bfff 12.8%,#00dbff 14.1%,#03e9f4 14.7%,#15ffe2 15.7%,#79ff7d 22.2%,#c5ff32 28.2%,#f0fd07 32.6%,#faf200 33.9%,#ffe700 35.1%,#ffc000 40.9%,#ffa900 47.4%,#ffa400 54.9%,#ffb500 65.3%,#ffeb00 87.4%,#f6f701 99.3%,#f6f701)"></div><div style="background:linear-gradient(90deg,#00008a,#0000fc 4.1%,#0003ff 4.9%,#00c1ff 12.8%,#00ddfe 14.1%,#04ebf3 14.7%,#16ffe0 15.7%,#7cff7b 22.2%,#c9ff2d 28.2%,#effe07 32.0%,#faf100 33.2%,#ffe600 34.5%,#ffbb00 40.3%,#ffa100 46.6%,#ff9700 53.9%,#ffa200 63.4%,#ffdc00 88.2%,#ffe600)"></div><div style="background:linear-gradient(90deg,#00008a,#0000fd 4.1%,#0000ff 4.7%,#00d5ff 13.6%,#00e3f9 14.3%,#14ffe3 15.5%,#7fff78 22.2%,#d0ff27 28.4%,#f0fd07 31.6%,#faf200 32.6%,#ffe500 33.9%,#ffb700 39.7%,#ff9900 45.9%,#ff8c00 53.0%,#ff9200 62.0%,#ffcd00 89.3%,#ffd500)"></div><div style="background:linear-gradient(90deg,#00008a,#0000fd 4.1%,#0000ff 4.7%,#00d7ff 13.6%,#00e5f7 14.3%,#16ffe1 15.5%,#81ff76 22.2%,#d3ff24 28.4%,#f1fd06 31.1%,#fbf100 32.2%,#ffe600 33.2%,#ffb300 39.1%,#ff9200 45.3%,#ff8100 52.2%,#ff8200 60.7%,#ffa500 77.6%,#ffc000 92.4%,#ffc400)"></div><div style="background:linear-gradient(90deg,#00008a,#0000fd 4.1%,#0000ff 4.7%,#00d3ff 13.4%,#00e1fa 14.1%,#08efef 14.7%,#17ffe0 15.5%,#83ff73 22.2%,#d7ff20 28.4%,#f0fd07 30.7%,#f9f300 31.6%,#ffe700 32.6%,#ffb100 38.4%,#ff8c00 44.5%,#ff7700 51.4%,#ff7400 59.5%,#ff8900 72.4%,#ffac00 90.5%,#ffb200)"></div><div style="background:linear-gradient(90deg,#00008a,#0000fe 4.1%,#0000ff 4.7%,#00d4ff 13.4%,#00e2f9 14.1%,#14fee3 15.3%,#85ff72 22.2%,#daff1d 28.4%,#effe07 30.3%,#fbf100 31.4%,#ffe700 32.2%,#ffae00 38.0%,#ff8600 44.1%,#ff6e00 50.7%,#ff6700 58.6%,#ff7500 70.1%,#ff9b00 90.7%,#ffa000)"></div><div style="background:linear-gradient(90deg,#00008a,#0000fe 4.1%,#0000ff 4.7%,#00d5ff 13.4%,#00e3f9 14.1%,#15ffe2 15.3%,#87ff70 22.2%,#dfff18 28.6%,#f0fd07 30.1%,#f9f300 30.9%,#ffe600 32.0%,#ffaa00 37.8%,#ff7f00 43.9%,#ff6400 50.5%,#ff5a00 58.4%,#ff6500 69.5%,#ff8a00 91.6%,#ff8e00)"></div><div style="background:linear-gradient(90deg,#00008a,#0000fe 4.1%,#0000ff 4.7%,#00d5ff 13.4%,#00e4f8 14.1%,#15ffe2 15.3%,#8bff6b 22.4%,#e4ff13 28.9%,#f0fd06 29.9%,#faf200 30.7%,#ffe700 31.6%,#ffa800 37.4%,#ff7a00 43.4%,#ff5c00 50.1%,#ff4f00 57.8%,#ff5400 68.2%,#ff7900 92.6%,#ff7d00)"></div><div style="background:linear-gradient(90deg,#00008a,#0000fe 4.1%,#0000ff 4.7%,#00daff 13.6%,#02e9f4 14.3%,#15ffe1 15.3%,#8cff6a 22.4%,#e6ff11 28.9%,#f0fd06 29.7%,#faf200 30.5%,#ffe700 31.4%,#ffa500 37.2%,#ff7500 43.2%,#ff5400 49.9%,#ff4300 57.4%,#ff4500 67.2%,#ff6800 93.9%,#ff6b00)"></div><div style="background:linear-gradient(90deg,#00008a,#0000fe 4.1%,#0000ff 4.7%,#00daff 13.6%,#02e8f4 14.3%,#15ffe1 15.3%,#90ff67 22.6%,#eaff0c 29.1%,#f5f802 29.9%,#ffea00 30.9%,#ffa300 37.0%,#ff7000 43.0%,#ff4c00 49.7%,#ff3900 57.2%,#ff3700 66.8%,#ff5800 95.3%,#ff5900)"></div><div style="background:linear-gradient(90deg,#00008a,#0000fd 4.1%,#0000ff 4.7%,#00daff 13.6%,#02e8f5 14.3%,#15ffe2 15.3%,#90ff66 22.6%,#eeff08 29.3%,#f9f300 30.1%,#ffe800 30.9%,#ffa000 37.0%,#ff6900 43.2%,#ff4400 49.9%,#ff2e00 57.4%,#ff2a00 67.0%,#ff4600 96.6%,#ff4700)"></div><div style="background:linear-gradient(90deg,#00008a,#0000fd 4.1%,#0000ff 4.7%,#00defd 13.9%,#05ecf1 14.5%,#15ffe2 15.3%,#94ff63 22.8%,#effe08 29.3%,#faf200 30.1%,#ffe700 30.9%,#ff9d00 37.0%,#ff6400 43.2%,#ff3c00 49.9%,#ff2400 57.4%,#ff1d00 66.8%,#ff3500 98.4%,#ff3500)"></div><div style="background:linear-gradient(90deg,#00008a,#0000fc 4.1%,#0000ff 4.7%,#00ddfe 13.9%,#04ebf2 14.5%,#14fee3 15.3%,#93ff64 22.8%,#effe07 29.3%,#faf200 30.1%,#ffe900 30.7%,#ff9d00 36.8%,#ff6200 43.0%,#ff3700 49.7%,#ff1c00 57.2%,#fc1100 66.4%,#ff1b00 83.0%,#ff2400)"></div><div style="background:linear-gradient(90deg,#00008a,#0000fc 4.1%,#0003ff 4.9%,#00dbff 13.9%,#03e9f4 14.5%,#16ffe1 15.5%,#98ff5e 23.2%,#efff08 29.3%,#faf200 30.1%,#ffe900 30.7%,#ff9900 37.0%,#ff5d00 43.2%,#ff3100 49.9%,#ff1300 57.4%,#ef0600 65.7%,#f10800 77.8%,#ff1300 98.4%,#ff1300)"></div><div style="background:linear-gradient(90deg,#00008a,#0000ff 4.3%,#0002ff 4.9%,#00defd 14.1%,#05ecf1 14.7%,#15ffe2 15.5%,#97ff60 23.2%,#f1fd06 29.5%,#fbf000 30.3%,#ffde00 31.6%,#ff9000 37.8%,#ff5200 44.3%,#ff2500 51.1%,#fc1100 55.9%,#e60000 63.2%,#df0000 73.2%,#ec0300)"></div><div style="background:linear-gradient(90deg,#00008a,#0000ff 4.3%,#0001ff 4.9%,#00dcff 14.1%,#03eaf3 14.7%,#16ffe0 15.7%,#9bff5c 23.6%,#efff08 29.5%,#faf200 30.3%,#ffe900 30.9%,#ff9500 37.4%,#ff5400 43.9%,#ff2400 50.7%,#fd1100 54.5%,#e50000 59.9%,#d40000 68.4%,#d20000 81.8%,#d90000)"></div><div style="background:linear-gradient(90deg,#00008a,#0000ff 4.3%,#0000ff 4.9%,#00ddfd 14.3%,#05ecf2 14.9%,#14fee3 15.7%,#9bff5b 23.9%,#effe08 29.7%,#faf200 30.5%,#ffe500 31.4%,#ff9100 37.8%,#ff4e00 44.5%,#ff1d00 51.4%,#fd1100 53.6%,#e60000 58.0%,#cc0000 66.1%,#c20000 77.0%,#c70000)"></div><div style="background:linear-gradient(90deg,#00008a,#0000fd 4.3%,#0000ff 4.9%,#00daff 14.3%,#02e8f5 14.9%,#15ffe2 15.9%,#9bff5c 24.1%,#efff08 29.9%,#faf200 30.7%,#ffe900 31.4%,#ff9100 38.0%,#ff4d00 44.7%,#ff1900 51.8%,#fb1000 53.4%,#e50000 57.2%,#c60000 65.1%,#b70000 75.1%,#b60000)"></div><div style="background:linear-gradient(90deg,#00008a,#0000ff 4.5%,#0002ff 5.1%,#00dbff 14.5%,#02e8f4 15.1%,#15ffe2 16.1%,#9dff5a 24.5%,#f0fd07 30.3%,#fbf100 31.1%,#ffe200 32.2%,#ff8c00 38.9%,#ff4600 45.7%,#fd1100 53.0%,#e50000 56.8%,#c20000 64.5%,#ae0000 74.1%,#a70000 90.3%,#a70000)"></div><div style="background:linear-gradient(90deg,#00008a,#0000ff 4.5%,#0000ff 5.1%,#00dbff 14.7%,#02e8f5 15.3%,#14ffe3 16.4%,#9eff58 24.9%,#f0fd07 30.7%,#fbf100 31.6%,#ffe200 32.6%,#ff8900 39.5%,#ff4400 46.4%,#fd1100 53.2%,#e60000 56.6%,#bf0000 64.3%,#a60000 73.6%,#9b0000 87.6%,#9a0000)"></div><div style="background:linear-gradient(90deg,#000089,#0000fd 4.5%,#0003ff 5.3%,#00defd 15.1%,#05ebf2 15.7%,#17ffe0 16.8%,#a2ff55 25.5%,#effe07 31.1%,#faf200 32.0%,#ffe600 32.8%,#ff8b00 39.9%,#ff4300 47.0%,#fd1100 53.6%,#e50000 57.0%,#bc0000 64.7%,#a00000 74.1%,#910000 87.2%,#8f0000)"></div><div style="background:linear-gradient(90deg,#000089,#0000ff 4.7%,#0000ff 5.3%,#00dcfe 15.3%,#03e9f4 15.9%,#15ffe2 17.0%,#a1ff56 25.9%,#f0fd07 31.8%,#faf100 32.6%,#ffe600 33.4%,#ff8900 40.7%,#ff4100 48.0%,#fd1200 54.3%,#e50000 57.6%,#b90000 65.5%,#9b0000 74.9%,#8a0000 87.6%,#860000)"></div><div style="background:linear-gradient(90deg,#000089,#0000fe 4.7%,#0002ff 5.5%,#00defd 15.7%,#04eaf3 16.4%,#15ffe2 17.4%,#a1ff56 26.6%,#efff08 32.4%,#f9f300 33.2%,#ffe700 34.1%,#ff8a00 41.6%,#ff4000 49.1%,#fd1100 55.3%,#e50000 58.6%,#b70000 66.8%,#980000 76.4%,#850000 89.1%,#810000)"></div><div style="background:linear-gradient(90deg,#000089,#0000ff 4.9%,#0003ff 5.7%,#00defd 16.1%,#04eaf3 16.8%,#14ffe2 17.8%,#a0ff57 27.2%,#efff08 33.2%,#f9f300 34.1%,#ffe500 35.1%,#ff8800 42.8%,#ff3f00 50.5%,#fd1100 56.8%,#e60000 59.9%,#b70000 68.2%,#960000 78.0%,#830000 90.5%,#800000)"></div><div style="background:linear-gradient(90deg,#000089,#0000ff 5.1%,#0000ff 5.7%,#00dcfe 16.6%,#02e9f4 17.2%,#16ffe1 18.4%,#a0ff56 28.0%,#effe08 34.3%,#f9f300 35.1%,#ffe600 36.1%,#ff8900 44.1%,#ff4000 52.0%,#fe1200 58.4%,#e50000 62.0%,#b70000 70.5%,#970000 80.5%,#850000 93.0%,#820000)"></div><div style="background:linear-gradient(90deg,#000088,#0000ff 5.3%,#0000ff 5.9%,#00ddfd 17.2%,#03e9f4 17.8%,#16ffe1 19.1%,#9eff59 28.9%,#effe08 35.5%,#f9f300 36.4%,#ffe900 37.2%,#ff8d00 45.3%,#ff4300 53.6%,#fd1100 60.9%,#e50000 64.5%,#b80000 73.4%,#9a0000 83.9%,#8b0000 96.1%,#8a0000)"></div><div style="background:linear-gradient(90deg,#000088,#0000ff 5.5%,#0003ff 6.4%,#00dcfe 17.8%,#04ebf2 18.6%,#16ffe0 19.9%,#9fff58 30.1%,#efff08 37.0%,#faf200 38.0%,#ffe600 39.1%,#ff8c00 47.4%,#ff4500 55.9%,#fd1100 64.1%,#e50000 68.0%,#bb0000 77.4%,#a00000 88.2%,#970000)"></div><div style="background:linear-gradient(90deg,#000088,#0000ff 5.7%,#0001ff 6.6%,#00dcff 18.6%,#04eaf3 19.5%,#15ffe2 20.7%,#9cff5a 31.4%,#efff08 38.9%,#f9f300 39.9%,#ffe700 40.9%,#ff8f00 49.7%,#ff4900 58.6%,#fe1200 68.2%,#e50000 73.0%,#c10000 83.0%,#ae0000 94.1%,#ab0000)"></div><div style="background:linear-gradient(90deg,#000087,#0000fe 5.9%,#0002ff 7.0%,#00dcfe 19.7%,#03e9f4 20.5%,#16ffe1 22.0%,#98ff5e 32.8%,#f0fd07 41.4%,#fcf000 42.6%,#ffe100 44.1%,#ff8d00 53.2%,#ff4c00 62.6%,#ff1a00 72.6%,#fc1000 75.1%,#e50000 81.1%,#cd0000 91.8%,#c80000)"></div><div style="background:linear-gradient(90deg,#000087,#0000fe 6.4%,#0001ff 7.4%,#00defd 21.1%,#04ebf2 22.0%,#16ffe1 23.4%,#96ff61 34.9%,#f0fd06 44.5%,#fbf100 45.7%,#ffe300 47.2%,#ff9400 56.8%,#ff5700 66.6%,#ff2b00 77.0%,#fc1100 87.0%,#ee0500 97.6%,#ed0500)"></div><div style="background:linear-gradient(90deg,#000086,#0000ff 7.0%,#0002ff 8.0%,#00d8ff 22.4%,#03e9f4 23.6%,#15ffe1 25.3%,#8fff68 37.2%,#edff0a 48.2%,#f9f300 49.9%,#ffe700 51.4%,#ff9e00 61.6%,#ff6800 72.0%,#ff4200 83.0%,#ff2f00 94.5%,#ff2d00)"></div><div style="background:linear-gradient(90deg,#000086,#0000ff 7.6%,#0002ff 8.9%,#00cdff 23.9%,#00e0fc 25.3%,#06edf1 26.4%,#16ffe0 28.0%,#88ff6f 40.5%,#dfff17 52.2%,#f1fd06 54.9%,#fbf100 56.6%,#ffe400 58.4%,#ffa800 69.3%,#ff7e00 80.3%,#ff6700 91.8%,#ff6100)"></div><div style="background:linear-gradient(90deg,#000085,#0000ff 8.6%,#0001ff 9.9%,#00beff 25.7%,#00dffc 28.6%,#04eaf3 29.7%,#16ffe1 31.8%,#7cff7b 44.9%,#c9ff2e 57.2%,#f0fd07 65.1%,#faf200 67.4%,#ffe600 69.9%,#ffbe00 81.4%,#ffa900 93.0%,#ffa500)"></div><div style="background:linear-gradient(90deg,#000084,#0000ff 10.3%,#0002ff 11.8%,#00aeff 28.9%,#00ddfd 34.1%,#04eaf3 35.5%,#17ffe0 38.2%,#6cff8a 52.2%,#abff4c 65.5%,#d5ff22 78.6%,#ebff0b 91.8%,#effe07)"></div><div style="background:linear-gradient(90deg,#000083,#0000ff 13.2%,#0002ff 15.3%,#0090ff 33.9%,#00ddfd 45.5%,#05ebf2 47.8%,#17ffe0 51.8%,#50ffa6 67.0%,#74ff83 81.6%,#84ff73 95.9%,#85ff72)"></div><div style="background:linear-gradient(90deg,#000082,#0000ff 23.4%,#0002ff 27.2%,#0057ff 48.4%,#008dff 66.6%,#00acff 83.4%,#00b6ff)"></div><div style="background:linear-gradient(90deg,#000080,#0000df 39.7%,#0000ff 58.4%,#0003ff 73.2%,#0010ff 97.4%,#0010ff)"></div></div>
<div class="cb" style="left:659px;top:316px;width:10px;height:211px"></div>
<svg width="685" height="564" viewBox="0 0 685 564">
<path d="M59.3 34.5 59.5 37.0 59.7 39.5 60.0 42.0 60.2 44.5 60.5 47.0 60.8 49.5 61.0 52.0 61.3 54.5 61.6 57.0 61.9 59.4 62.2 61.7 62.5 64.2 62.8 66.7 63.2 69.1 63.5 71.5 63.9 74.0 64.2 76.2 64.6 78.7 64.9 81.0 65.3 83.5 65.7 85.7 66.1 88.2 66.5 90.5 66.9 92.7 67.4 95.2 67.8 97.5 68.3 99.7 68.7 102.0 69.2 104.2 69.7 106.5 70.2 108.7 70.8 111.0 71.3 113.2 71.9 115.5 72.4 117.6 73.0 119.7 73.6 122.0 74.2 124.0 74.9 126.2 75.5 128.2 76.2 130.3 76.9 132.4 77.6 134.4 78.3 136.4 79.0 138.4 79.8 140.4 80.6 142.4 81.4 144.4 82.2 146.2 83.1 148.2 83.9 150.0 84.9 151.9 85.7 153.7 86.7 155.5 87.7 157.4 88.7 159.2 89.7 160.9 90.7 162.5 91.8 164.2 92.9 165.9 94.0 167.5 95.2 169.2 96.3 170.7 97.5 172.2 98.7 173.8 100.0 175.3 101.2 176.7 102.6 178.2 104.0 179.7 105.2 180.9 106.7 182.4 108.1 183.7 109.5 184.9 111.0 186.2 112.5 187.4 114.1 188.7 115.7 189.9 117.2 191.0 118.9 192.2 120.5 193.3 122.2 194.4 123.9 195.4 125.6 196.4 127.4 197.4 129.2 198.4 131.0 199.4 132.7 200.2 134.7 201.2 136.5 202.0 138.5 202.9 140.4 203.7 142.3 204.4 144.3 205.2 146.3 206.0 148.3 206.7 150.5 207.4 152.5 208.1 154.5 208.8 156.8 209.4 158.8 210.0 161.0 210.7 163.1 211.2 165.3 211.8 167.5 212.3 169.8 212.9 172.0 213.4 174.3 213.9 176.5 214.3 178.8 214.8 181.0 215.2 183.5 215.7 185.8 216.1 188.0 216.5 190.5 216.9 192.8 217.2 195.3 217.6 197.8 217.9 200.1 218.2 202.6 218.6 205.1 218.9 207.6 219.2 209.9 219.4 212.3 219.7 214.8 220.0 217.3 220.2 219.8 220.4 222.6 220.7 225.1 220.9 227.6 221.1 230.1 221.3 232.6 221.5 235.3 221.7 237.8 221.8 240.4 222.0 243.1 222.1 245.6 222.3 248.4 222.4 250.9 222.5 253.6 222.6 256.1 222.7 258.9 222.8 261.6 222.9 264.1 223.0 266.9 223.1 269.6 223.1 272.4 223.2 274.9 223.2 277.6 223.2 280.4 223.3 283.1 223.3 285.9 223.3 287.4 223.3" fill="none" stroke="#000" stroke-width="1.6" stroke-linejoin="round"/>
<path d="M287.4 150.5 285.9 150.5 284.4 150.5 283.1 150.4 281.6 150.4 280.1 150.3 278.9 150.2 277.4 150.0 276.1 149.9 274.7 149.7 273.4 149.5 272.1 149.3 270.9 149.1 269.6 148.9 268.4 148.6 267.1 148.4 265.9 148.1 264.6 147.8 263.4 147.5 262.3 147.2 261.1 146.9 259.9 146.5 258.9 146.2 257.6 145.8 256.6 145.4 255.4 145.0 254.4 144.7 253.2 144.2 252.1 143.8 251.1 143.4 250.1 142.9 248.9 142.4 247.9 142.0 246.9 141.5 245.9 141.0 244.9 140.5 243.9 140.0 242.9 139.5 241.9 139.0 240.9 138.4 240.1 137.9 239.1 137.4 238.1 136.8 237.1 136.2 236.3 135.7 235.3 135.1 234.4 134.4 233.6 133.9 232.6 133.2 231.8 132.7 230.9 131.9 230.1 131.4 229.2 130.7 228.3 130.0 227.6 129.4 226.7 128.7 225.8 128.0 225.1 127.4 224.3 126.7 223.4 126.0 222.6 125.2 221.8 124.5 221.1 123.8 220.3 123.1 219.6 122.4 218.8 121.6 218.1 120.9 217.3 120.1 216.6 119.3 215.8 118.5 215.1 117.7 214.4 117.0 213.7 116.2 213.1 115.5 212.3 114.6 211.6 113.7 210.9 113.0 210.3 112.2 209.6 111.3 208.9 110.5 208.3 109.7 207.6 108.7 207.0 108.0 206.3 107.1 205.7 106.2 205.1 105.4 204.4 104.5 203.8 103.6 203.2 102.7 202.6 101.8 202.0 101.0 201.3 100.0 200.8 99.1 200.2 98.2 199.6 97.2 199.1 96.4 198.5 95.5 197.9 94.5 197.3 93.5 196.8 92.7 196.2 91.7 195.7 90.7 195.1 89.7 194.6 88.7 194.1 87.8 193.6 86.9 193.0 86.0 192.5 85.0 192.0 84.0 191.5 83.0 190.9 82.0 190.4 81.0 189.9 80.0 189.4 79.0 189.0 78.0 188.5 77.0 188.0 76.0 187.5 75.0 187.0 73.9 186.5 72.8 186.0 71.7 185.6 70.7 185.2 69.7 184.7 68.7 184.3 67.7 183.8 66.6 183.3 65.5 182.9 64.5 182.5 63.5 182.0 62.3 181.6 61.2 181.2 60.2 180.8 59.2 180.3 58.0 179.9 57.0 179.5 56.0 179.1 54.7 178.7 53.7 178.3 52.6 177.9 51.5 177.5 50.5 177.0 49.2 176.7 48.2 176.3 47.1 175.9 46.0 175.5 44.9 175.1 43.7 174.8 42.7 174.4 41.5 174.0 40.4 173.6 39.2 173.3 38.1 172.9 37.0 172.5 35.8 172.2 34.7 172.1 34.5" fill="none" stroke="#000" stroke-width="1.6" stroke-linejoin="round"/>
<rect x="45.50" y="34.50" width="242.00" height="210.00" fill="none" stroke="#000" stroke-width="0.85"/>
<text x="45.40" y="253.10" font-size="8.6" text-anchor="middle" textLength="12.40" lengthAdjust="spacingAndGlyphs">0.0</text>
<text x="93.80" y="253.10" font-size="8.6" text-anchor="middle" textLength="12.40" lengthAdjust="spacingAndGlyphs">0.2</text>
<text x="142.20" y="253.10" font-size="8.6" text-anchor="middle" textLength="12.40" lengthAdjust="spacingAndGlyphs">0.4</text>
<text x="190.60" y="253.10" font-size="8.6" text-anchor="middle" textLength="12.40" lengthAdjust="spacingAndGlyphs">0.6</text>
<text x="239.00" y="253.10" font-size="8.6" text-anchor="middle" textLength="12.40" lengthAdjust="spacingAndGlyphs">0.8</text>
<text x="287.40" y="253.10" font-size="8.6" text-anchor="middle" textLength="12.40" lengthAdjust="spacingAndGlyphs">1.0</text>
<text x="44.20" y="229.34" font-size="8.6" text-anchor="end" textLength="14.88" lengthAdjust="spacingAndGlyphs">400</text>
<text x="44.20" y="197.31" font-size="8.6" text-anchor="end" textLength="14.88" lengthAdjust="spacingAndGlyphs">500</text>
<text x="44.20" y="165.29" font-size="8.6" text-anchor="end" textLength="14.88" lengthAdjust="spacingAndGlyphs">600</text>
<text x="44.20" y="133.27" font-size="8.6" text-anchor="end" textLength="14.88" lengthAdjust="spacingAndGlyphs">700</text>
<text x="44.20" y="101.25" font-size="8.6" text-anchor="end" textLength="14.88" lengthAdjust="spacingAndGlyphs">800</text>
<text x="44.20" y="69.22" font-size="8.6" text-anchor="end" textLength="14.88" lengthAdjust="spacingAndGlyphs">900</text>
<text x="44.20" y="37.20" font-size="8.6" text-anchor="end" textLength="19.84" lengthAdjust="spacingAndGlyphs">1000</text>
<path d="M45.40 244.50v-3.2M45.40 34.50v3.2M93.80 244.50v-3.2M93.80 34.50v3.2M142.20 244.50v-3.2M142.20 34.50v3.2M190.60 244.50v-3.2M190.60 34.50v3.2M239.00 244.50v-3.2M239.00 34.50v3.2M287.40 244.50v-3.2M287.40 34.50v3.2M45.50 226.59h3.2M287.50 226.59h-3.2M45.50 194.56h3.2M287.50 194.56h-3.2M45.50 162.54h3.2M287.50 162.54h-3.2M45.50 130.52h3.2M287.50 130.52h-3.2M45.50 98.50h3.2M287.50 98.50h-3.2M45.50 66.47h3.2M287.50 66.47h-3.2M45.50 34.45h3.2M287.50 34.45h-3.2" stroke="#000" stroke-width="0.65"/>
<rect x="302.50" y="34.50" width="10.00" height="210.00" fill="none" stroke="#000" stroke-width="0.85"/>
<text x="315.60" y="246.75" font-size="8.6" textLength="12.40" lengthAdjust="spacingAndGlyphs">0.0</text>
<text x="315.60" y="225.78" font-size="8.6" textLength="12.40" lengthAdjust="spacingAndGlyphs">0.1</text>
<text x="315.60" y="204.80" font-size="8.6" textLength="12.40" lengthAdjust="spacingAndGlyphs">0.2</text>
<text x="315.60" y="183.82" font-size="8.6" textLength="12.40" lengthAdjust="spacingAndGlyphs">0.3</text>
<text x="315.60" y="162.85" font-size="8.6" textLength="12.40" lengthAdjust="spacingAndGlyphs">0.4</text>
<text x="315.60" y="141.88" font-size="8.6" textLength="12.40" lengthAdjust="spacingAndGlyphs">0.5</text>
<text x="315.60" y="120.90" font-size="8.6" textLength="12.40" lengthAdjust="spacingAndGlyphs">0.6</text>
<text x="315.60" y="99.92" font-size="8.6" textLength="12.40" lengthAdjust="spacingAndGlyphs">0.7</text>
<text x="315.60" y="78.95" font-size="8.6" textLength="12.40" lengthAdjust="spacingAndGlyphs">0.8</text>
<text x="315.60" y="57.97" font-size="8.6" textLength="12.40" lengthAdjust="spacingAndGlyphs">0.9</text>
<text x="315.60" y="37.00" font-size="8.6" textLength="12.40" lengthAdjust="spacingAndGlyphs">1.0</text>
<path d="M312.50 244.20h-2.5M312.50 223.22h-2.5M312.50 202.25h-2.5M312.50 181.27h-2.5M312.50 160.30h-2.5M312.50 139.32h-2.5M312.50 118.35h-2.5M312.50 97.37h-2.5M312.50 76.40h-2.5M312.50 55.42h-2.5M312.50 34.45h-2.5" stroke="#000" stroke-width="0.65"/>
<text x="1.5" y="18.9" font-size="20" font-weight="bold" fill="#000">(a)</text>
<g transform="translate(11.7 169.8) rotate(-90)" fill="#000"><text class="s" x="0" y="0" font-size="16" font-style="italic" textLength="15.2" lengthAdjust="spacingAndGlyphs">M</text><text class="s" x="14.9" y="3.7" font-size="9.6" font-style="italic" textLength="6.6" lengthAdjust="spacingAndGlyphs">tt</text><path d="M18.2 -5h3.3" stroke="#000" stroke-width="0.8"/><text class="s" x="23.3" y="0" font-size="16" textLength="36.4" lengthAdjust="spacingAndGlyphs">[GeV]</text></g>
<text class="s" x="164.7" y="270.7" font-size="14" text-anchor="middle" fill="#000" style="stroke:#000;stroke-width:0.3px">2Θ</text>
<path d="M156.2 274.5h17" stroke="#000" stroke-width="1"/>
<text class="s" x="165.0" y="282.6" font-size="14" text-anchor="middle" fill="#000" style="stroke:#000;stroke-width:0.3px">π</text>
<rect x="402.50" y="34.50" width="241.00" height="210.00" fill="none" stroke="#000" stroke-width="0.85"/>
<text x="402.35" y="253.10" font-size="8.6" text-anchor="middle" textLength="12.40" lengthAdjust="spacingAndGlyphs">0.0</text>
<text x="450.58" y="253.10" font-size="8.6" text-anchor="middle" textLength="12.40" lengthAdjust="spacingAndGlyphs">0.2</text>
<text x="498.81" y="253.10" font-size="8.6" text-anchor="middle" textLength="12.40" lengthAdjust="spacingAndGlyphs">0.4</text>
<text x="547.04" y="253.10" font-size="8.6" text-anchor="middle" textLength="12.40" lengthAdjust="spacingAndGlyphs">0.6</text>
<text x="595.27" y="253.10" font-size="8.6" text-anchor="middle" textLength="12.40" lengthAdjust="spacingAndGlyphs">0.8</text>
<text x="643.50" y="253.10" font-size="8.6" text-anchor="middle" textLength="12.40" lengthAdjust="spacingAndGlyphs">1.0</text>
<text x="400.65" y="229.34" font-size="8.6" text-anchor="end" textLength="14.88" lengthAdjust="spacingAndGlyphs">400</text>
<text x="400.65" y="197.31" font-size="8.6" text-anchor="end" textLength="14.88" lengthAdjust="spacingAndGlyphs">500</text>
<text x="400.65" y="165.29" font-size="8.6" text-anchor="end" textLength="14.88" lengthAdjust="spacingAndGlyphs">600</text>
<text x="400.65" y="133.27" font-size="8.6" text-anchor="end" textLength="14.88" lengthAdjust="spacingAndGlyphs">700</text>
<text x="400.65" y="101.25" font-size="8.6" text-anchor="end" textLength="14.88" lengthAdjust="spacingAndGlyphs">800</text>
<text x="400.65" y="69.22" font-size="8.6" text-anchor="end" textLength="14.88" lengthAdjust="spacingAndGlyphs">900</text>
<text x="400.65" y="37.20" font-size="8.6" text-anchor="end" textLength="19.84" lengthAdjust="spacingAndGlyphs">1000</text>
<path d="M402.35 244.50v-3.2M402.35 34.50v3.2M450.58 244.50v-3.2M450.58 34.50v3.2M498.81 244.50v-3.2M498.81 34.50v3.2M547.04 244.50v-3.2M547.04 34.50v3.2M595.27 244.50v-3.2M595.27 34.50v3.2M643.50 244.50v-3.2M643.50 34.50v3.2M402.50 226.59h3.2M643.50 226.59h-3.2M402.50 194.56h3.2M643.50 194.56h-3.2M402.50 162.54h3.2M643.50 162.54h-3.2M402.50 130.52h3.2M643.50 130.52h-3.2M402.50 98.50h3.2M643.50 98.50h-3.2M402.50 66.47h3.2M643.50 66.47h-3.2M402.50 34.45h3.2M643.50 34.45h-3.2" stroke="#000" stroke-width="0.65"/>
<rect x="658.50" y="34.50" width="10.50" height="210.00" fill="none" stroke="#000" stroke-width="0.85"/>
<text x="671.60" y="246.75" font-size="8.6" textLength="12.40" lengthAdjust="spacingAndGlyphs">0.0</text>
<text x="671.60" y="225.78" font-size="8.6" textLength="12.40" lengthAdjust="spacingAndGlyphs">0.1</text>
<text x="671.60" y="204.80" font-size="8.6" textLength="12.40" lengthAdjust="spacingAndGlyphs">0.2</text>
<text x="671.60" y="183.82" font-size="8.6" textLength="12.40" lengthAdjust="spacingAndGlyphs">0.3</text>
<text x="671.60" y="162.85" font-size="8.6" textLength="12.40" lengthAdjust="spacingAndGlyphs">0.4</text>
<text x="671.60" y="141.88" font-size="8.6" textLength="12.40" lengthAdjust="spacingAndGlyphs">0.5</text>
<text x="671.60" y="120.90" font-size="8.6" textLength="12.40" lengthAdjust="spacingAndGlyphs">0.6</text>
<text x="671.60" y="99.92" font-size="8.6" textLength="12.40" lengthAdjust="spacingAndGlyphs">0.7</text>
<text x="671.60" y="78.95" font-size="8.6" textLength="12.40" lengthAdjust="spacingAndGlyphs">0.8</text>
<text x="671.60" y="57.97" font-size="8.6" textLength="12.40" lengthAdjust="spacingAndGlyphs">0.9</text>
<text x="671.60" y="37.00" font-size="8.6" textLength="12.40" lengthAdjust="spacingAndGlyphs">1.0</text>
<path d="M669.00 244.20h-2.5M669.00 223.22h-2.5M669.00 202.25h-2.5M669.00 181.27h-2.5M669.00 160.30h-2.5M669.00 139.32h-2.5M669.00 118.35h-2.5M669.00 97.37h-2.5M669.00 76.40h-2.5M669.00 55.42h-2.5M669.00 34.45h-2.5" stroke="#000" stroke-width="0.65"/>
<text x="353.5" y="18.9" font-size="20" font-weight="bold" fill="#000">(b)</text>
<g transform="translate(368.2 169.8) rotate(-90)" fill="#000"><text class="s" x="0" y="0" font-size="16" font-style="italic" textLength="15.2" lengthAdjust="spacingAndGlyphs">M</text><text class="s" x="14.9" y="3.7" font-size="9.6" font-style="italic" textLength="6.6" lengthAdjust="spacingAndGlyphs">tt</text><path d="M18.2 -5h3.3" stroke="#000" stroke-width="0.8"/><text class="s" x="23.3" y="0" font-size="16" textLength="36.4" lengthAdjust="spacingAndGlyphs">[GeV]</text></g>
<text class="s" x="521.2" y="270.7" font-size="14" text-anchor="middle" fill="#000" style="stroke:#000;stroke-width:0.3px">2Θ</text>
<path d="M512.7 274.5h17" stroke="#000" stroke-width="1"/>
<text class="s" x="521.5" y="282.6" font-size="14" text-anchor="middle" fill="#000" style="stroke:#000;stroke-width:0.3px">π</text>
<path d="M57.3 316.4 57.5 318.9 57.8 321.4 58.0 323.9 58.2 326.4 58.5 328.9 58.7 331.4 59.0 333.9 59.2 336.4 59.5 338.9 59.7 341.4 60.0 343.9 60.3 346.4 60.6 348.9 60.9 351.4 61.2 353.7 61.5 356.2 61.9 358.7 62.2 360.9 62.5 363.4 62.9 365.9 63.2 368.2 63.6 370.6 64.0 372.9 64.4 375.4 64.8 377.6 65.2 379.9 65.6 382.4 66.1 384.6 66.5 386.9 66.9 389.1 67.4 391.5 67.9 393.8 68.4 396.0 68.9 398.2 69.4 400.4 70.0 402.6 70.6 404.9 71.2 407.1 71.7 409.1 72.3 411.4 72.9 413.4 73.6 415.6 74.2 417.6 74.9 419.7 75.6 421.8 76.3 423.8 77.1 425.8 77.8 427.8 78.6 429.8 79.4 431.8 80.2 433.6 81.1 435.6 81.9 437.5 82.8 439.3 83.7 441.1 84.7 443.1 85.6 444.8 86.6 446.6 87.6 448.3 88.7 450.1 89.7 451.7 90.8 453.3 91.9 455.1 93.0 456.6 94.2 458.2 95.5 459.8 96.7 461.3 97.9 462.8 99.2 464.3 100.5 465.7 101.8 467.1 103.2 468.5 104.5 469.8 106.0 471.1 107.5 472.5 109.0 473.8 110.5 475.0 112.0 476.2 113.5 477.3 115.2 478.5 116.7 479.6 118.5 480.8 120.1 481.8 121.7 482.8 123.5 483.8 125.2 484.8 127.0 485.8 128.9 486.8 130.7 487.7 132.6 488.5 134.5 489.4 136.5 490.3 138.3 491.0 140.2 491.8 142.3 492.6 144.3 493.3 146.3 494.0 148.4 494.8 150.5 495.5 152.5 496.1 154.8 496.7 156.8 497.3 159.0 497.9 161.3 498.5 163.3 499.0 165.5 499.6 167.8 500.1 170.0 500.6 172.3 501.1 174.5 501.5 177.0 502.0 179.3 502.5 181.5 502.9 184.0 503.3 186.3 503.7 188.6 504.0 191.1 504.4 193.6 504.7 195.8 505.1 198.3 505.4 200.8 505.7 203.3 506.0 205.6 506.3 208.1 506.5 210.6 506.8 213.1 507.0 215.6 507.3 218.1 507.5 220.8 507.8 223.3 508.0 225.8 508.1 228.3 508.3 231.0 508.5 233.6 508.7 236.1 508.8 238.8 509.0 241.4 509.1 243.9 509.3 246.6 509.4 249.3 509.5 251.9 509.6 254.6 509.7 257.1 509.8 259.9 509.9 262.6 510.0 265.1 510.0 267.9 510.1 270.6 510.2 273.4 510.2 276.1 510.2 278.9 510.3 281.4 510.3 284.1 510.3 286.9 510.3 287.4 510.3" fill="none" stroke="#000" stroke-width="1.6" stroke-linejoin="round"/>
<path d="M287.4 444.1 285.9 444.1 284.4 444.1 283.1 444.0 281.6 444.0 280.1 443.9 278.9 443.8 277.4 443.6 276.1 443.5 274.8 443.3 273.4 443.1 272.1 443.0 270.9 442.7 269.6 442.5 268.4 442.3 267.1 442.0 265.9 441.8 264.6 441.5 263.4 441.2 262.1 440.8 261.1 440.6 259.9 440.2 258.6 439.8 257.6 439.5 256.4 439.1 255.4 438.8 254.1 438.3 253.1 438.0 252.1 437.6 250.9 437.1 249.9 436.7 248.9 436.3 247.9 435.8 246.8 435.3 245.7 434.8 244.7 434.3 243.7 433.8 242.7 433.3 241.8 432.8 240.8 432.3 239.9 431.8 238.8 431.2 237.8 430.6 236.9 430.1 236.1 429.6 235.1 428.9 234.2 428.3 233.3 427.8 232.3 427.1 231.6 426.6 230.6 425.9 229.8 425.3 228.8 424.6 228.1 424.0 227.2 423.3 226.3 422.7 225.6 422.0 224.7 421.3 223.9 420.6 223.1 419.9 222.3 419.3 221.6 418.6 220.8 417.9 220.0 417.1 219.2 416.4 218.4 415.6 217.6 414.9 216.9 414.1 216.2 413.4 215.4 412.6 214.7 411.9 214.0 411.1 213.3 410.3 212.6 409.5 211.8 408.6 211.1 407.9 210.5 407.1 209.8 406.3 209.1 405.4 208.5 404.6 207.8 403.8 207.1 402.9 206.5 402.1 205.8 401.2 205.2 400.4 204.6 399.5 203.9 398.6 203.3 397.8 202.7 396.9 202.1 396.0 201.5 395.1 200.8 394.2 200.3 393.4 199.6 392.4 199.1 391.5 198.5 390.6 197.9 389.6 197.3 388.7 196.8 387.8 196.2 386.9 195.6 385.9 195.1 384.9 194.6 384.0 194.1 383.1 193.5 382.1 192.9 381.1 192.4 380.1 191.9 379.1 191.3 378.1 190.8 377.1 190.3 376.2 189.8 375.2 189.3 374.2 188.8 373.2 188.3 372.2 187.8 371.1 187.3 370.1 186.9 369.1 186.4 368.2 185.9 367.2 185.5 366.2 185.0 365.2 184.5 364.1 184.0 363.0 183.6 361.9 183.2 360.9 182.7 359.9 182.3 358.9 181.8 357.7 181.4 356.7 181.0 355.7 180.5 354.6 180.1 353.4 179.7 352.4 179.3 351.4 178.8 350.2 178.4 349.2 178.0 348.2 177.6 346.9 177.2 345.9 176.8 344.8 176.4 343.7 176.0 342.7 175.6 341.4 175.2 340.4 174.8 339.2 174.5 338.2 174.0 336.9 173.7 335.9 173.3 334.7 173.0 333.7 172.6 332.4 172.2 331.4 171.8 330.2 171.5 329.2 171.1 327.9 170.8 326.8 170.4 325.7 170.0 324.4 169.7 323.4 169.4 322.2 169.0 321.0 168.7 319.9 168.3 318.7 168.0 317.6 167.7 316.4" fill="none" stroke="#000" stroke-width="1.6" stroke-linejoin="round"/>
<rect x="45.50" y="316.50" width="242.00" height="209.50" fill="none" stroke="#000" stroke-width="0.85"/>
<text x="45.40" y="534.90" font-size="8.6" text-anchor="middle" textLength="12.40" lengthAdjust="spacingAndGlyphs">0.0</text>
<text x="93.80" y="534.90" font-size="8.6" text-anchor="middle" textLength="12.40" lengthAdjust="spacingAndGlyphs">0.2</text>
<text x="142.20" y="534.90" font-size="8.6" text-anchor="middle" textLength="12.40" lengthAdjust="spacingAndGlyphs">0.4</text>
<text x="190.60" y="534.90" font-size="8.6" text-anchor="middle" textLength="12.40" lengthAdjust="spacingAndGlyphs">0.6</text>
<text x="239.00" y="534.90" font-size="8.6" text-anchor="middle" textLength="12.40" lengthAdjust="spacingAndGlyphs">0.8</text>
<text x="287.40" y="534.90" font-size="8.6" text-anchor="middle" textLength="12.40" lengthAdjust="spacingAndGlyphs">1.0</text>
<text x="44.20" y="511.15" font-size="8.6" text-anchor="end" textLength="14.88" lengthAdjust="spacingAndGlyphs">400</text>
<text x="44.20" y="479.16" font-size="8.6" text-anchor="end" textLength="14.88" lengthAdjust="spacingAndGlyphs">500</text>
<text x="44.20" y="447.17" font-size="8.6" text-anchor="end" textLength="14.88" lengthAdjust="spacingAndGlyphs">600</text>
<text x="44.20" y="415.18" font-size="8.6" text-anchor="end" textLength="14.88" lengthAdjust="spacingAndGlyphs">700</text>
<text x="44.20" y="383.18" font-size="8.6" text-anchor="end" textLength="14.88" lengthAdjust="spacingAndGlyphs">800</text>
<text x="44.20" y="351.19" font-size="8.6" text-anchor="end" textLength="14.88" lengthAdjust="spacingAndGlyphs">900</text>
<text x="44.20" y="319.20" font-size="8.6" text-anchor="end" textLength="19.84" lengthAdjust="spacingAndGlyphs">1000</text>
<path d="M45.40 526.00v-3.2M45.40 316.50v3.2M93.80 526.00v-3.2M93.80 316.50v3.2M142.20 526.00v-3.2M142.20 316.50v3.2M190.60 526.00v-3.2M190.60 316.50v3.2M239.00 526.00v-3.2M239.00 316.50v3.2M287.40 526.00v-3.2M287.40 316.50v3.2M45.50 508.40h3.2M287.50 508.40h-3.2M45.50 476.41h3.2M287.50 476.41h-3.2M45.50 444.42h3.2M287.50 444.42h-3.2M45.50 412.43h3.2M287.50 412.43h-3.2M45.50 380.43h3.2M287.50 380.43h-3.2M45.50 348.44h3.2M287.50 348.44h-3.2M45.50 316.45h3.2M287.50 316.45h-3.2" stroke="#000" stroke-width="0.65"/>
<rect x="302.50" y="316.50" width="10.00" height="209.50" fill="none" stroke="#000" stroke-width="0.85"/>
<text x="315.60" y="528.55" font-size="8.6" textLength="12.40" lengthAdjust="spacingAndGlyphs">0.0</text>
<text x="315.60" y="507.60" font-size="8.6" textLength="12.40" lengthAdjust="spacingAndGlyphs">0.1</text>
<text x="315.60" y="486.64" font-size="8.6" textLength="12.40" lengthAdjust="spacingAndGlyphs">0.2</text>
<text x="315.60" y="465.69" font-size="8.6" textLength="12.40" lengthAdjust="spacingAndGlyphs">0.3</text>
<text x="315.60" y="444.73" font-size="8.6" textLength="12.40" lengthAdjust="spacingAndGlyphs">0.4</text>
<text x="315.60" y="423.78" font-size="8.6" textLength="12.40" lengthAdjust="spacingAndGlyphs">0.5</text>
<text x="315.60" y="402.82" font-size="8.6" textLength="12.40" lengthAdjust="spacingAndGlyphs">0.6</text>
<text x="315.60" y="381.86" font-size="8.6" textLength="12.40" lengthAdjust="spacingAndGlyphs">0.7</text>
<text x="315.60" y="360.91" font-size="8.6" textLength="12.40" lengthAdjust="spacingAndGlyphs">0.8</text>
<text x="315.60" y="339.95" font-size="8.6" textLength="12.40" lengthAdjust="spacingAndGlyphs">0.9</text>
<text x="315.60" y="319.00" font-size="8.6" textLength="12.40" lengthAdjust="spacingAndGlyphs">1.0</text>
<path d="M312.50 526.00h-2.5M312.50 505.05h-2.5M312.50 484.09h-2.5M312.50 463.13h-2.5M312.50 442.18h-2.5M312.50 421.23h-2.5M312.50 400.27h-2.5M312.50 379.31h-2.5M312.50 358.36h-2.5M312.50 337.40h-2.5M312.50 316.45h-2.5" stroke="#000" stroke-width="0.65"/>
<text x="1.5" y="302.9" font-size="20" font-weight="bold" fill="#000">(c)</text>
<g transform="translate(11.7 451.8) rotate(-90)" fill="#000"><text class="s" x="0" y="0" font-size="16" font-style="italic" textLength="15.2" lengthAdjust="spacingAndGlyphs">M</text><text class="s" x="14.9" y="3.7" font-size="9.6" font-style="italic" textLength="6.6" lengthAdjust="spacingAndGlyphs">tt</text><path d="M18.2 -5h3.3" stroke="#000" stroke-width="0.8"/><text class="s" x="23.3" y="0" font-size="16" textLength="36.4" lengthAdjust="spacingAndGlyphs">[GeV]</text></g>
<text class="s" x="164.7" y="552.7" font-size="14" text-anchor="middle" fill="#000" style="stroke:#000;stroke-width:0.3px">2Θ</text>
<path d="M156.2 556.5h17" stroke="#000" stroke-width="1"/>
<text class="s" x="165.0" y="564.6" font-size="14" text-anchor="middle" fill="#000" style="stroke:#000;stroke-width:0.3px">π</text>
<path d="M414.2 316.4 414.5 318.9 414.7 321.4 414.9 323.9 415.1 326.4 415.4 328.9 415.6 331.4 415.9 333.9 416.1 336.4 416.4 338.9 416.6 341.4 416.9 343.9 417.2 346.4 417.5 348.9 417.8 351.4 418.1 353.7 418.4 356.2 418.8 358.7 419.1 360.9 419.4 363.4 419.8 365.9 420.1 368.2 420.5 370.6 420.9 372.9 421.3 375.4 421.7 377.6 422.1 379.9 422.5 382.4 422.9 384.6 423.4 386.9 423.8 389.1 424.3 391.5 424.8 393.8 425.3 396.0 425.8 398.2 426.3 400.4 426.9 402.6 427.4 404.9 428.0 407.1 428.6 409.1 429.2 411.4 429.8 413.4 430.5 415.6 431.1 417.6 431.8 419.7 432.5 421.8 433.2 423.8 433.9 425.8 434.7 427.8 435.5 429.8 436.3 431.8 437.0 433.6 437.9 435.6 438.8 437.5 439.6 439.3 440.5 441.1 441.5 443.1 442.4 444.8 443.4 446.6 444.4 448.3 445.5 450.1 446.5 451.7 447.6 453.3 448.7 455.1 449.8 456.6 451.0 458.2 452.2 459.8 453.4 461.3 454.7 462.8 456.0 464.3 457.2 465.7 458.5 467.1 460.0 468.5 461.3 469.8 462.7 471.1 464.2 472.5 465.7 473.8 467.2 475.0 468.7 476.2 470.2 477.3 471.9 478.5 473.4 479.6 475.2 480.8 476.7 481.8 478.4 482.8 480.2 483.8 481.9 484.8 483.7 485.8 485.6 486.8 487.4 487.7 489.2 488.5 491.1 489.4 493.1 490.3 494.9 491.0 496.9 491.8 498.9 492.6 500.9 493.3 502.8 494.0 505.0 494.8 507.1 495.5 509.1 496.1 511.3 496.7 513.3 497.3 515.6 497.9 517.8 498.5 519.8 499.0 522.1 499.6 524.3 500.1 526.5 500.6 528.8 501.1 531.0 501.5 533.5 502.0 535.8 502.5 538.0 502.9 540.4 503.3 542.8 503.7 545.1 504.0 547.5 504.4 550.0 504.7 552.2 505.1 554.7 505.4 557.2 505.7 559.7 506.0 562.0 506.3 564.4 506.5 566.9 506.8 569.4 507.0 571.9 507.3 574.5 507.5 577.2 507.8 579.7 508.0 582.2 508.1 584.6 508.3 587.3 508.5 589.9 508.7 592.4 508.8 595.1 509.0 597.6 509.1 600.1 509.3 602.9 509.4 605.5 509.5 608.1 509.6 610.8 509.7 613.3 509.8 616.1 509.9 618.8 510.0 621.3 510.0 624.0 510.1 626.8 510.2 629.5 510.2 632.3 510.2 635.0 510.3 637.5 510.3 640.3 510.3 643.0 510.3 643.5 510.3" fill="none" stroke="#000" stroke-width="1.6" stroke-linejoin="round"/>
<path d="M643.5 444.1 642.0 444.1 640.5 444.1 639.3 444.0 637.8 444.0 636.3 443.9 635.0 443.8 633.5 443.6 632.3 443.5 630.9 443.3 629.5 443.1 628.3 443.0 627.0 442.7 625.8 442.5 624.5 442.3 623.3 442.0 622.1 441.8 620.8 441.5 619.6 441.2 618.3 440.8 617.3 440.6 616.1 440.2 614.8 439.8 613.8 439.5 612.6 439.1 611.6 438.8 610.3 438.3 609.3 438.0 608.3 437.6 607.1 437.1 606.1 436.7 605.1 436.3 604.1 435.8 603.0 435.3 602.0 434.8 600.9 434.3 599.9 433.8 599.0 433.3 598.0 432.8 597.1 432.3 596.1 431.8 595.1 431.2 594.1 430.6 593.2 430.1 592.4 429.6 591.4 428.9 590.5 428.3 589.6 427.8 588.6 427.1 587.9 426.6 586.9 425.9 586.1 425.3 585.1 424.6 584.4 424.0 583.5 423.3 582.7 422.7 581.9 422.0 581.1 421.3 580.2 420.6 579.4 419.9 578.7 419.3 577.9 418.6 577.1 417.9 576.3 417.1 575.5 416.4 574.7 415.6 574.0 414.9 573.2 414.1 572.5 413.4 571.8 412.6 571.1 411.9 570.4 411.1 569.7 410.3 568.9 409.5 568.2 408.6 567.5 407.9 566.9 407.1 566.2 406.3 565.4 405.4 564.8 404.6 564.2 403.8 563.5 402.9 562.9 402.1 562.2 401.2 561.6 400.4 561.0 399.5 560.3 398.6 559.7 397.8 559.1 396.9 558.5 396.0 557.9 395.1 557.2 394.2 556.7 393.4 556.1 392.4 555.5 391.5 554.9 390.6 554.3 389.6 553.7 388.7 553.2 387.8 552.7 386.9 552.1 385.9 551.5 384.9 551.0 384.0 550.5 383.1 549.9 382.1 549.4 381.1 548.8 380.1 548.3 379.1 547.8 378.1 547.3 377.1 546.7 376.2 546.2 375.2 545.7 374.2 545.2 373.2 544.7 372.2 544.3 371.1 543.8 370.1 543.3 369.1 542.8 368.2 542.4 367.2 541.9 366.2 541.5 365.2 541.0 364.1 540.5 363.0 540.0 361.9 539.6 360.9 539.2 359.9 538.8 358.9 538.3 357.7 537.8 356.7 537.4 355.7 537.0 354.6 536.5 353.4 536.1 352.4 535.8 351.4 535.3 350.2 534.9 349.2 534.5 348.2 534.1 346.9 533.7 345.9 533.3 344.8 532.9 343.7 532.5 342.7 532.1 341.4 531.7 340.4 531.3 339.2 531.0 338.2 530.5 336.9 530.2 335.9 529.8 334.7 529.5 333.7 529.1 332.4 528.7 331.4 528.3 330.2 528.0 329.2 527.6 327.9 527.3 326.8 526.9 325.7 526.6 324.4 526.3 323.4 525.9 322.2 525.5 321.0 525.2 319.9 524.9 318.7 524.5 317.6 524.2 316.4" fill="none" stroke="#000" stroke-width="1.6" stroke-linejoin="round"/>
<rect x="402.50" y="316.50" width="241.00" height="209.50" fill="none" stroke="#000" stroke-width="0.85"/>
<text x="402.35" y="534.90" font-size="8.6" text-anchor="middle" textLength="12.40" lengthAdjust="spacingAndGlyphs">0.0</text>
<text x="450.58" y="534.90" font-size="8.6" text-anchor="middle" textLength="12.40" lengthAdjust="spacingAndGlyphs">0.2</text>
<text x="498.81" y="534.90" font-size="8.6" text-anchor="middle" textLength="12.40" lengthAdjust="spacingAndGlyphs">0.4</text>
<text x="547.04" y="534.90" font-size="8.6" text-anchor="middle" textLength="12.40" lengthAdjust="spacingAndGlyphs">0.6</text>
<text x="595.27" y="534.90" font-size="8.6" text-anchor="middle" textLength="12.40" lengthAdjust="spacingAndGlyphs">0.8</text>
<text x="643.50" y="534.90" font-size="8.6" text-anchor="middle" textLength="12.40" lengthAdjust="spacingAndGlyphs">1.0</text>
<text x="400.65" y="511.15" font-size="8.6" text-anchor="end" textLength="14.88" lengthAdjust="spacingAndGlyphs">400</text>
<text x="400.65" y="479.16" font-size="8.6" text-anchor="end" textLength="14.88" lengthAdjust="spacingAndGlyphs">500</text>
<text x="400.65" y="447.17" font-size="8.6" text-anchor="end" textLength="14.88" lengthAdjust="spacingAndGlyphs">600</text>
<text x="400.65" y="415.18" font-size="8.6" text-anchor="end" textLength="14.88" lengthAdjust="spacingAndGlyphs">700</text>
<text x="400.65" y="383.18" font-size="8.6" text-anchor="end" textLength="14.88" lengthAdjust="spacingAndGlyphs">800</text>
<text x="400.65" y="351.19" font-size="8.6" text-anchor="end" textLength="14.88" lengthAdjust="spacingAndGlyphs">900</text>
<text x="400.65" y="319.20" font-size="8.6" text-anchor="end" textLength="19.84" lengthAdjust="spacingAndGlyphs">1000</text>
<path d="M402.35 526.00v-3.2M402.35 316.50v3.2M450.58 526.00v-3.2M450.58 316.50v3.2M498.81 526.00v-3.2M498.81 316.50v3.2M547.04 526.00v-3.2M547.04 316.50v3.2M595.27 526.00v-3.2M595.27 316.50v3.2M643.50 526.00v-3.2M643.50 316.50v3.2M402.50 508.40h3.2M643.50 508.40h-3.2M402.50 476.41h3.2M643.50 476.41h-3.2M402.50 444.42h3.2M643.50 444.42h-3.2M402.50 412.43h3.2M643.50 412.43h-3.2M402.50 380.43h3.2M643.50 380.43h-3.2M402.50 348.44h3.2M643.50 348.44h-3.2M402.50 316.45h3.2M643.50 316.45h-3.2" stroke="#000" stroke-width="0.65"/>
<rect x="658.50" y="316.50" width="10.50" height="209.50" fill="none" stroke="#000" stroke-width="0.85"/>
<text x="671.60" y="528.55" font-size="8.6" textLength="12.40" lengthAdjust="spacingAndGlyphs">0.0</text>
<text x="671.60" y="504.66" font-size="8.6" textLength="12.40" lengthAdjust="spacingAndGlyphs">0.1</text>
<text x="671.60" y="480.76" font-size="8.6" textLength="12.40" lengthAdjust="spacingAndGlyphs">0.2</text>
<text x="671.60" y="456.87" font-size="8.6" textLength="12.40" lengthAdjust="spacingAndGlyphs">0.3</text>
<text x="671.60" y="432.97" font-size="8.6" textLength="12.40" lengthAdjust="spacingAndGlyphs">0.4</text>
<text x="671.60" y="409.08" font-size="8.6" textLength="12.40" lengthAdjust="spacingAndGlyphs">0.5</text>
<text x="671.60" y="385.19" font-size="8.6" textLength="12.40" lengthAdjust="spacingAndGlyphs">0.6</text>
<text x="671.60" y="361.29" font-size="8.6" textLength="12.40" lengthAdjust="spacingAndGlyphs">0.7</text>
<text x="671.60" y="337.40" font-size="8.6" textLength="12.40" lengthAdjust="spacingAndGlyphs">0.8</text>
<path d="M669.00 526.00h-2.5M669.00 502.11h-2.5M669.00 478.21h-2.5M669.00 454.32h-2.5M669.00 430.42h-2.5M669.00 406.53h-2.5M669.00 382.64h-2.5M669.00 358.74h-2.5M669.00 334.85h-2.5" stroke="#000" stroke-width="0.65"/>
<text x="353.5" y="302.9" font-size="20" font-weight="bold" fill="#000">(d)</text>
<g transform="translate(368.2 451.8) rotate(-90)" fill="#000"><text class="s" x="0" y="0" font-size="16" font-style="italic" textLength="15.2" lengthAdjust="spacingAndGlyphs">M</text><text class="s" x="14.9" y="3.7" font-size="9.6" font-style="italic" textLength="6.6" lengthAdjust="spacingAndGlyphs">tt</text><path d="M18.2 -5h3.3" stroke="#000" stroke-width="0.8"/><text class="s" x="23.3" y="0" font-size="16" textLength="36.4" lengthAdjust="spacingAndGlyphs">[GeV]</text></g>
<text class="s" x="521.2" y="552.7" font-size="14" text-anchor="middle" fill="#000" style="stroke:#000;stroke-width:0.3px">2Θ</text>
<path d="M512.7 556.5h17" stroke="#000" stroke-width="1"/>
<text class="s" x="521.5" y="564.6" font-size="14" text-anchor="middle" fill="#000" style="stroke:#000;stroke-width:0.3px">π</text>
</svg>
</body></html>
